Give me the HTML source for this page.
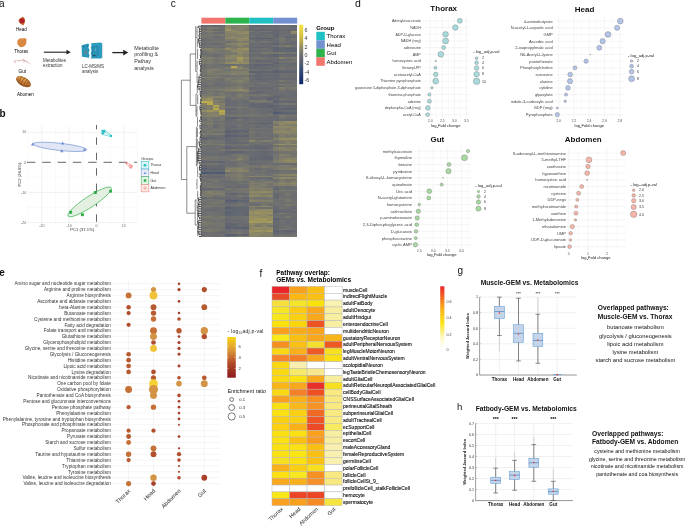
<!DOCTYPE html>
<html><head><meta charset="utf-8"><style>
html,body{margin:0;padding:0;background:#fff;}
svg{display:block;font-family:"Liberation Sans",sans-serif;will-change:transform;}
</style></head><body>
<svg width="685" height="528" viewBox="0 0 685 528">
<text x="-0.90" y="6.70" font-size="10" fill="#111">a</text>
<path d="M22.6,16.7 C24.5,17.5 25.3,19.5 25.1,21 C24.9,22.8 24.2,24.6 23.3,25.3 C21.6,24.6 19.8,23.4 18.9,22 C18.2,20.8 18.6,19.6 19.6,18.8 C20.6,18.0 21.6,17.2 22.6,16.7 Z" fill="#c86a32"/>
<circle cx="22.00" cy="20.80" r="2.55" fill="#b21e2a"/>
<text x="21.50" y="30.88" font-size="4.5" text-anchor="middle">Head</text>
<path d="M17.2,42 C17.2,39.5 19.5,38.0 22.0,38.2 C23.8,38.3 25.2,38.0 26.4,38.6 C26.0,40.0 26.8,41.8 26.2,43.6 C25.4,45.8 23.6,47.3 21.4,47.2 C19.0,47.0 17.3,44.8 17.2,42 Z" fill="#d6883e"/>
<path d="M18.6,41.0 C19.6,39.6 21.6,39.2 23.4,39.6" fill="none" stroke="#e4a060" stroke-width="0.6"/>
<text x="21.20" y="52.88" font-size="4.5" text-anchor="middle">Thorax</text>
<path d="M13.5,61.0 C15.0,60.2 16.4,61.2 18.0,60.6 C19.6,60.0 20.6,60.8 22.2,60.2 C23.6,59.6 25.0,60.4 26.0,61.2 C27.2,62.0 28.6,62.6 30.3,63.8" fill="none" stroke="#d4a2a2" stroke-width="0.55"/>
<path d="M22.2,60.0 C23.0,59.4 24.2,59.8 24.6,60.8 C25.0,61.8 24.0,62.4 23.2,61.8 M26.2,61.4 L27.4,62.2 M15.0,61.0 L15.2,62.8 M18.8,60.4 L19.2,61.6" fill="none" stroke="#b45a5a" stroke-width="0.5"/>
<text x="22.30" y="73.44" font-size="4.7" text-anchor="middle">Gut</text>
<g transform="rotate(30 23.5 81.8)"><ellipse cx="23.5" cy="81.8" rx="8.2" ry="4.3" fill="#9a5a22"/><ellipse cx="22.9" cy="81.1" rx="7.2" ry="3.4" fill="#c27a34"/><ellipse cx="21.6" cy="80.0" rx="5.0" ry="1.8" fill="#d8984c"/><path d="M19.6,78.0 C19.0,80.5 19.2,83.5 19.8,85.6 M22.6,77.6 C22.0,80.6 22.2,83.6 22.8,86.0 M25.6,77.7 C25.0,80.6 25.2,83.6 25.8,85.9 M28.3,78.6 C27.8,81 28,83.2 28.4,85" fill="none" stroke="#7a4216" stroke-width="0.6"/></g>
<text x="25.50" y="95.67" font-size="4.5" text-anchor="middle">Abomen</text>
<line x1="43.80" y1="52.20" x2="67.50" y2="52.20" stroke="#222" stroke-width="1.1"/>
<path d="M66.5,49.8 L70.8,52.2 L66.5,54.6 Z" fill="#222"/>
<text x="43.00" y="61.58" font-size="4.5" fill="#333">Metabolites</text>
<text x="43.00" y="66.88" font-size="4.5" fill="#333">extraction</text>
<path d="M81.6,45.2 L88.2,43.5 L89.2,45.0 L88.4,47.6 L89.6,50.0 L88.6,53.0 L89.6,55.6 L88.8,57.8 L82.0,56.8 Z" fill="#2a96b8"/>
<rect x="101.00" y="43.40" width="2.10" height="14.80" fill="#d9dddd"/>
<path d="M91.0,43.2 L101.0,42.4 L102.0,43.4 L102.0,57.8 L101.0,58.6 L90.6,58.4 L91.6,56.0 L90.6,53.4 L91.6,50.6 L90.8,47.8 L91.6,45.4 Z" fill="#2c9bc0"/>
<rect x="92.60" y="46.50" width="5.40" height="9.60" fill="#2b92b6" stroke="#1d7896" stroke-width="0.5"/>
<rect x="92.40" y="55.20" width="3.40" height="0.90" fill="#1a4656"/>
<circle cx="85.80" cy="52.50" r="1.50" fill="#7b8d94"/>
<circle cx="85.80" cy="52.50" r="0.70" fill="#4d6c7a"/>
<circle cx="83.60" cy="46.80" r="0.60" fill="#1d6a86"/>
<circle cx="87.30" cy="46.20" r="0.60" fill="#1d6a86"/>
<rect x="95.00" y="48.50" width="1.20" height="2.40" fill="#58aac6"/>
<text x="82.00" y="67.78" font-size="4.5" fill="#333">LC-MS/MS</text>
<text x="82.00" y="72.88" font-size="4.5" fill="#333">analysis</text>
<line x1="112.30" y1="52.60" x2="124.50" y2="52.60" stroke="#222" stroke-width="1.3"/>
<path d="M123.2,49.8 L128.2,52.6 L123.2,55.4 Z" fill="#222"/>
<text x="134.20" y="49.79" font-size="5.4" fill="#333">Metabolite</text>
<text x="134.20" y="56.49" font-size="5.4" fill="#333">profiling &amp;</text>
<text x="134.20" y="63.19" font-size="5.4" fill="#333">Pathay</text>
<text x="134.20" y="69.89" font-size="5.4" fill="#333">analysis</text>
<text x="-0.40" y="117.00" font-size="10" font-weight="bold" fill="#111">b</text>
<line x1="28.12" y1="126.00" x2="28.12" y2="224.00" stroke="#f2f2f2" stroke-width="0.45"/>
<line x1="55.48" y1="126.00" x2="55.48" y2="224.00" stroke="#f2f2f2" stroke-width="0.45"/>
<line x1="82.83" y1="126.00" x2="82.83" y2="224.00" stroke="#f2f2f2" stroke-width="0.45"/>
<line x1="110.17" y1="126.00" x2="110.17" y2="224.00" stroke="#f2f2f2" stroke-width="0.45"/>
<line x1="137.53" y1="126.00" x2="137.53" y2="224.00" stroke="#f2f2f2" stroke-width="0.45"/>
<line x1="41.80" y1="126.00" x2="41.80" y2="224.00" stroke="#e6e6e6" stroke-width="0.55"/>
<line x1="69.15" y1="126.00" x2="69.15" y2="224.00" stroke="#e6e6e6" stroke-width="0.55"/>
<line x1="123.85" y1="126.00" x2="123.85" y2="224.00" stroke="#e6e6e6" stroke-width="0.55"/>
<line x1="27.50" y1="132.20" x2="137.00" y2="132.20" stroke="#e6e6e6" stroke-width="0.55"/>
<line x1="27.50" y1="192.40" x2="137.00" y2="192.40" stroke="#e6e6e6" stroke-width="0.55"/>
<line x1="27.50" y1="222.50" x2="137.00" y2="222.50" stroke="#e6e6e6" stroke-width="0.55"/>
<line x1="27.50" y1="147.25" x2="137.00" y2="147.25" stroke="#f2f2f2" stroke-width="0.45"/>
<line x1="27.50" y1="177.35" x2="137.00" y2="177.35" stroke="#f2f2f2" stroke-width="0.45"/>
<line x1="27.50" y1="207.45" x2="137.00" y2="207.45" stroke="#f2f2f2" stroke-width="0.45"/>
<line x1="27.00" y1="162.30" x2="137.00" y2="162.30" stroke="#555" stroke-width="0.9" stroke-dasharray="8.4,6.9"/>
<line x1="96.50" y1="221.80" x2="96.50" y2="125.00" stroke="#555" stroke-width="0.9" stroke-dasharray="7.4,8.0"/>
<text x="26.20" y="133.46" font-size="3.6" text-anchor="end" fill="#666">10</text>
<text x="26.20" y="163.56" font-size="3.6" text-anchor="end" fill="#666">0</text>
<text x="26.20" y="193.66" font-size="3.6" text-anchor="end" fill="#666">-10</text>
<text x="26.20" y="223.76" font-size="3.6" text-anchor="end" fill="#666">-20</text>
<text x="41.80" y="226.86" font-size="3.6" text-anchor="middle" fill="#666">-20</text>
<text x="69.15" y="226.86" font-size="3.6" text-anchor="middle" fill="#666">-10</text>
<text x="96.50" y="226.86" font-size="3.6" text-anchor="middle" fill="#666">0</text>
<text x="123.85" y="226.86" font-size="3.6" text-anchor="middle" fill="#666">10</text>
<text x="82.20" y="231.37" font-size="4.2" text-anchor="middle" fill="#333">PC1 (37.1%)</text>
<text x="19.20" y="176.07" font-size="4.2" text-anchor="middle" fill="#333" transform="rotate(-90 19.20 174.60)">PC2 (28.6%)</text>
<ellipse cx="59.9" cy="146.85" rx="27.0" ry="3.6" transform="rotate(6.3 59.9 146.85)" fill="#e1e6f5" stroke="#6f8fd0" stroke-width="0.65"/>
<path d="M32.70,142.60 L34.41,145.57 L30.99,145.57 Z" fill="#6f8fd0"/>
<path d="M62.60,141.50 L64.31,144.47 L60.89,144.47 Z" fill="#6f8fd0"/>
<path d="M61.80,149.20 L63.51,152.17 L60.09,152.17 Z" fill="#6f8fd0"/>
<path d="M84.50,147.80 L86.21,150.77 L82.79,150.77 Z" fill="#6f8fd0"/>
<ellipse cx="89.65" cy="201.9" rx="25.8" ry="5.4" transform="rotate(-33.4 89.65 201.9)" fill="#e3f0e1" stroke="#36b04c" stroke-width="0.65"/>
<rect x="69.15" y="210.85" width="2.90" height="2.90" fill="#2fae48"/>
<rect x="80.95" y="213.25" width="2.90" height="2.90" fill="#2fae48"/>
<rect x="93.95" y="191.05" width="2.90" height="2.90" fill="#2fae48"/>
<rect x="109.15" y="189.75" width="2.90" height="2.90" fill="#2fae48"/>
<path d="M101.8,130.6 L104.4,129.9 L111.6,135.4 L110.8,136.6 L102.4,134.4 Z" fill="none" stroke="#1fbfc4" stroke-width="0.55"/>
<path d="M103.0,131.2 L110.9,135.9 M104.4,130.6 L102.6,133.8" fill="none" stroke="#1fbfc4" stroke-width="0.45"/>
<circle cx="102.60" cy="130.80" r="1.15" fill="#1fbfc4"/>
<circle cx="104.30" cy="131.20" r="1.15" fill="#1fbfc4"/>
<circle cx="102.50" cy="133.60" r="1.15" fill="#1fbfc4"/>
<circle cx="103.60" cy="132.60" r="1.15" fill="#1fbfc4"/>
<circle cx="111.10" cy="136.00" r="1.15" fill="#1fbfc4"/>
<path d="M125.4,163.0 L127.8,163.2 L130.6,164.4 L132.6,165.8 L131.6,168.2 L129.8,167.6 L128.0,165.6 Z" fill="none" stroke="#f3877e" stroke-width="0.5"/>
<line x1="125.30" y1="163.20" x2="127.90" y2="163.20" stroke="#f06a60" stroke-width="0.5"/>
<line x1="126.60" y1="161.90" x2="126.60" y2="164.50" stroke="#f06a60" stroke-width="0.5"/>
<line x1="128.30" y1="165.40" x2="130.90" y2="165.40" stroke="#f06a60" stroke-width="0.5"/>
<line x1="129.60" y1="164.10" x2="129.60" y2="166.70" stroke="#f06a60" stroke-width="0.5"/>
<line x1="130.30" y1="166.00" x2="132.90" y2="166.00" stroke="#f06a60" stroke-width="0.5"/>
<line x1="131.60" y1="164.70" x2="131.60" y2="167.30" stroke="#f06a60" stroke-width="0.5"/>
<line x1="129.30" y1="167.60" x2="131.90" y2="167.60" stroke="#f06a60" stroke-width="0.5"/>
<line x1="130.60" y1="166.30" x2="130.60" y2="168.90" stroke="#f06a60" stroke-width="0.5"/>
<text x="141.30" y="160.09" font-size="3.7" fill="#333">Groups</text>
<rect x="141.20" y="161.50" width="7.60" height="7.40" fill="#fff" stroke="#1fbfc4" stroke-width="0.6"/>
<rect x="142.20" y="162.50" width="5.60" height="5.40" fill="#d5f1f2"/>
<circle cx="145.00" cy="165.20" r="1.30" fill="#1fbfc4"/>
<text x="150.40" y="166.42" font-size="3.5" fill="#333">Thorax</text>
<rect x="141.20" y="169.15" width="7.60" height="7.40" fill="#fff" stroke="#6f8fd0" stroke-width="0.6"/>
<rect x="142.20" y="170.15" width="5.60" height="5.40" fill="#e3e8f6"/>
<path d="M145.00,171.65 L146.33,173.96 L143.67,173.96 Z" fill="#6f8fd0"/>
<text x="150.40" y="174.07" font-size="3.5" fill="#333">Head</text>
<rect x="141.20" y="176.80" width="7.60" height="7.40" fill="#fff" stroke="#2fae48" stroke-width="0.6"/>
<rect x="142.20" y="177.80" width="5.60" height="5.40" fill="#dff0e0"/>
<rect x="143.80" y="179.30" width="2.40" height="2.40" fill="#2fae48"/>
<text x="150.40" y="181.72" font-size="3.5" fill="#333">Gut</text>
<rect x="141.20" y="184.45" width="7.60" height="7.40" fill="#fff" stroke="#f08078" stroke-width="0.6"/>
<rect x="142.20" y="185.45" width="5.60" height="5.40" fill="#fde4e2"/>
<line x1="143.40" y1="188.15" x2="146.60" y2="188.15" stroke="#f08078" stroke-width="0.5"/>
<line x1="145.00" y1="186.35" x2="145.00" y2="189.95" stroke="#f08078" stroke-width="0.5"/>
<text x="150.40" y="189.37" font-size="3.5" fill="#333">Abdomen</text>
<text x="170.80" y="6.70" font-size="10" fill="#111">c</text>
<rect x="201.40" y="17.70" width="23.95" height="5.90" fill="#f0766e"/>
<rect x="225.35" y="17.70" width="23.95" height="5.90" fill="#2db34b"/>
<rect x="249.30" y="17.70" width="23.95" height="5.90" fill="#1fbfc4"/>
<rect x="273.25" y="17.70" width="23.95" height="5.90" fill="#7391d0"/>
<g shape-rendering="crispEdges"><rect x="201.40" y="25.30" width="6.04" height="1.82" fill="#646870"/><rect x="207.39" y="25.30" width="6.04" height="1.82" fill="#686a70"/><rect x="213.38" y="25.30" width="6.04" height="1.82" fill="#636770"/><rect x="219.36" y="25.30" width="6.04" height="1.82" fill="#656970"/><rect x="225.35" y="25.30" width="6.04" height="1.82" fill="#8b8667"/><rect x="231.34" y="25.30" width="6.04" height="1.82" fill="#817f6b"/><rect x="237.32" y="25.30" width="6.04" height="1.82" fill="#817f6a"/><rect x="243.31" y="25.30" width="6.04" height="1.82" fill="#827f6a"/><rect x="249.30" y="25.30" width="6.04" height="1.82" fill="#646870"/><rect x="255.29" y="25.30" width="6.04" height="1.82" fill="#626670"/><rect x="261.27" y="25.30" width="6.04" height="1.82" fill="#646770"/><rect x="267.26" y="25.30" width="6.04" height="1.82" fill="#646870"/><rect x="273.25" y="25.30" width="6.04" height="1.82" fill="#656870"/><rect x="279.24" y="25.30" width="6.04" height="1.82" fill="#6a6c70"/><rect x="285.23" y="25.30" width="6.04" height="1.82" fill="#676a70"/><rect x="291.21" y="25.30" width="6.04" height="1.82" fill="#666970"/><rect x="201.40" y="27.07" width="6.04" height="1.82" fill="#71716f"/><rect x="207.39" y="27.07" width="6.04" height="1.82" fill="#7b796d"/><rect x="213.38" y="27.07" width="6.04" height="1.82" fill="#7d7b6c"/><rect x="219.36" y="27.07" width="6.04" height="1.82" fill="#6f7070"/><rect x="225.35" y="27.07" width="6.04" height="1.82" fill="#8f8a65"/><rect x="231.34" y="27.07" width="6.04" height="1.82" fill="#7a796d"/><rect x="237.32" y="27.07" width="6.04" height="1.82" fill="#868269"/><rect x="243.31" y="27.07" width="6.04" height="1.82" fill="#807e6b"/><rect x="249.30" y="27.07" width="6.04" height="1.82" fill="#686a70"/><rect x="255.29" y="27.07" width="6.04" height="1.82" fill="#6c6d70"/><rect x="261.27" y="27.07" width="6.04" height="1.82" fill="#6c6d70"/><rect x="267.26" y="27.07" width="6.04" height="1.82" fill="#6c6e70"/><rect x="273.25" y="27.07" width="6.04" height="1.82" fill="#6a6c70"/><rect x="279.24" y="27.07" width="6.04" height="1.82" fill="#6d6e70"/><rect x="285.23" y="27.07" width="6.04" height="1.82" fill="#6b6d70"/><rect x="291.21" y="27.07" width="6.04" height="1.82" fill="#676a70"/><rect x="201.40" y="28.84" width="6.04" height="1.82" fill="#6c6e70"/><rect x="207.39" y="28.84" width="6.04" height="1.82" fill="#76756e"/><rect x="213.38" y="28.84" width="6.04" height="1.82" fill="#686b70"/><rect x="219.36" y="28.84" width="6.04" height="1.82" fill="#6a6c70"/><rect x="225.35" y="28.84" width="6.04" height="1.82" fill="#9c935f"/><rect x="231.34" y="28.84" width="6.04" height="1.82" fill="#878368"/><rect x="237.32" y="28.84" width="6.04" height="1.82" fill="#817e6b"/><rect x="243.31" y="28.84" width="6.04" height="1.82" fill="#7b7a6c"/><rect x="249.30" y="28.84" width="6.04" height="1.82" fill="#676a70"/><rect x="255.29" y="28.84" width="6.04" height="1.82" fill="#636770"/><rect x="261.27" y="28.84" width="6.04" height="1.82" fill="#626670"/><rect x="267.26" y="28.84" width="6.04" height="1.82" fill="#676a70"/><rect x="273.25" y="28.84" width="6.04" height="1.82" fill="#646870"/><rect x="279.24" y="28.84" width="6.04" height="1.82" fill="#686b70"/><rect x="285.23" y="28.84" width="6.04" height="1.82" fill="#676a70"/><rect x="291.21" y="28.84" width="6.04" height="1.82" fill="#686b70"/><rect x="201.40" y="30.60" width="6.04" height="1.82" fill="#7f7d6b"/><rect x="207.39" y="30.60" width="6.04" height="1.82" fill="#807e6b"/><rect x="213.38" y="30.60" width="6.04" height="1.82" fill="#7c7a6c"/><rect x="219.36" y="30.60" width="6.04" height="1.82" fill="#707170"/><rect x="225.35" y="30.60" width="6.04" height="1.82" fill="#868369"/><rect x="231.34" y="30.60" width="6.04" height="1.82" fill="#918b64"/><rect x="237.32" y="30.60" width="6.04" height="1.82" fill="#8a8567"/><rect x="243.31" y="30.60" width="6.04" height="1.82" fill="#8e8965"/><rect x="249.30" y="30.60" width="6.04" height="1.82" fill="#76766e"/><rect x="255.29" y="30.60" width="6.04" height="1.82" fill="#6b6d70"/><rect x="261.27" y="30.60" width="6.04" height="1.82" fill="#76766e"/><rect x="267.26" y="30.60" width="6.04" height="1.82" fill="#717170"/><rect x="273.25" y="30.60" width="6.04" height="1.82" fill="#636770"/><rect x="279.24" y="30.60" width="6.04" height="1.82" fill="#6a6c70"/><rect x="285.23" y="30.60" width="6.04" height="1.82" fill="#6a6c70"/><rect x="291.21" y="30.60" width="6.04" height="1.82" fill="#958e63"/><rect x="201.40" y="32.37" width="6.04" height="1.82" fill="#6f7070"/><rect x="207.39" y="32.37" width="6.04" height="1.82" fill="#74746f"/><rect x="213.38" y="32.37" width="6.04" height="1.82" fill="#6b6d70"/><rect x="219.36" y="32.37" width="6.04" height="1.82" fill="#686b70"/><rect x="225.35" y="32.37" width="6.04" height="1.82" fill="#868269"/><rect x="231.34" y="32.37" width="6.04" height="1.82" fill="#898468"/><rect x="237.32" y="32.37" width="6.04" height="1.82" fill="#8e8866"/><rect x="243.31" y="32.37" width="6.04" height="1.82" fill="#938c63"/><rect x="249.30" y="32.37" width="6.04" height="1.82" fill="#676a70"/><rect x="255.29" y="32.37" width="6.04" height="1.82" fill="#6c6d70"/><rect x="261.27" y="32.37" width="6.04" height="1.82" fill="#656970"/><rect x="267.26" y="32.37" width="6.04" height="1.82" fill="#666970"/><rect x="273.25" y="32.37" width="6.04" height="1.82" fill="#646870"/><rect x="279.24" y="32.37" width="6.04" height="1.82" fill="#6b6d70"/><rect x="285.23" y="32.37" width="6.04" height="1.82" fill="#696c70"/><rect x="291.21" y="32.37" width="6.04" height="1.82" fill="#8d8866"/><rect x="201.40" y="34.14" width="6.04" height="1.82" fill="#73736f"/><rect x="207.39" y="34.14" width="6.04" height="1.82" fill="#79786d"/><rect x="213.38" y="34.14" width="6.04" height="1.82" fill="#75756e"/><rect x="219.36" y="34.14" width="6.04" height="1.82" fill="#7b7a6c"/><rect x="225.35" y="34.14" width="6.04" height="1.82" fill="#817e6b"/><rect x="231.34" y="34.14" width="6.04" height="1.82" fill="#807e6b"/><rect x="237.32" y="34.14" width="6.04" height="1.82" fill="#868269"/><rect x="243.31" y="34.14" width="6.04" height="1.82" fill="#858169"/><rect x="249.30" y="34.14" width="6.04" height="1.82" fill="#6e6f70"/><rect x="255.29" y="34.14" width="6.04" height="1.82" fill="#696b70"/><rect x="261.27" y="34.14" width="6.04" height="1.82" fill="#6b6d70"/><rect x="267.26" y="34.14" width="6.04" height="1.82" fill="#6e6f70"/><rect x="273.25" y="34.14" width="6.04" height="1.82" fill="#616570"/><rect x="279.24" y="34.14" width="6.04" height="1.82" fill="#6b6d70"/><rect x="285.23" y="34.14" width="6.04" height="1.82" fill="#6d6f70"/><rect x="291.21" y="34.14" width="6.04" height="1.82" fill="#6e6f70"/><rect x="201.40" y="35.91" width="6.04" height="1.82" fill="#76766e"/><rect x="207.39" y="35.91" width="6.04" height="1.82" fill="#707170"/><rect x="213.38" y="35.91" width="6.04" height="1.82" fill="#6b6d70"/><rect x="219.36" y="35.91" width="6.04" height="1.82" fill="#6c6e70"/><rect x="225.35" y="35.91" width="6.04" height="1.82" fill="#858269"/><rect x="231.34" y="35.91" width="6.04" height="1.82" fill="#898568"/><rect x="237.32" y="35.91" width="6.04" height="1.82" fill="#827f6a"/><rect x="243.31" y="35.91" width="6.04" height="1.82" fill="#8a8567"/><rect x="249.30" y="35.91" width="6.04" height="1.82" fill="#6e6f70"/><rect x="255.29" y="35.91" width="6.04" height="1.82" fill="#676a70"/><rect x="261.27" y="35.91" width="6.04" height="1.82" fill="#6a6c70"/><rect x="267.26" y="35.91" width="6.04" height="1.82" fill="#6c6e70"/><rect x="273.25" y="35.91" width="6.04" height="1.82" fill="#656970"/><rect x="279.24" y="35.91" width="6.04" height="1.82" fill="#6d6e70"/><rect x="285.23" y="35.91" width="6.04" height="1.82" fill="#636770"/><rect x="291.21" y="35.91" width="6.04" height="1.82" fill="#676a70"/><rect x="201.40" y="37.67" width="6.04" height="1.82" fill="#6d6e70"/><rect x="207.39" y="37.67" width="6.04" height="1.82" fill="#78776d"/><rect x="213.38" y="37.67" width="6.04" height="1.82" fill="#6d6e70"/><rect x="219.36" y="37.67" width="6.04" height="1.82" fill="#72736f"/><rect x="225.35" y="37.67" width="6.04" height="1.82" fill="#8e8866"/><rect x="231.34" y="37.67" width="6.04" height="1.82" fill="#8a8667"/><rect x="237.32" y="37.67" width="6.04" height="1.82" fill="#928b64"/><rect x="243.31" y="37.67" width="6.04" height="1.82" fill="#928b64"/><rect x="249.30" y="37.67" width="6.04" height="1.82" fill="#5d6371"/><rect x="255.29" y="37.67" width="6.04" height="1.82" fill="#5a6171"/><rect x="261.27" y="37.67" width="6.04" height="1.82" fill="#5f6471"/><rect x="267.26" y="37.67" width="6.04" height="1.82" fill="#5d6371"/><rect x="273.25" y="37.67" width="6.04" height="1.82" fill="#686b70"/><rect x="279.24" y="37.67" width="6.04" height="1.82" fill="#7b7a6c"/><rect x="285.23" y="37.67" width="6.04" height="1.82" fill="#6b6d70"/><rect x="291.21" y="37.67" width="6.04" height="1.82" fill="#72726f"/><rect x="201.40" y="39.44" width="6.04" height="1.82" fill="#6a6d70"/><rect x="207.39" y="39.44" width="6.04" height="1.82" fill="#6c6e70"/><rect x="213.38" y="39.44" width="6.04" height="1.82" fill="#71726f"/><rect x="219.36" y="39.44" width="6.04" height="1.82" fill="#6c6e70"/><rect x="225.35" y="39.44" width="6.04" height="1.82" fill="#7b7a6c"/><rect x="231.34" y="39.44" width="6.04" height="1.82" fill="#7c7a6c"/><rect x="237.32" y="39.44" width="6.04" height="1.82" fill="#8e8965"/><rect x="243.31" y="39.44" width="6.04" height="1.82" fill="#898468"/><rect x="249.30" y="39.44" width="6.04" height="1.82" fill="#6e7070"/><rect x="255.29" y="39.44" width="6.04" height="1.82" fill="#666970"/><rect x="261.27" y="39.44" width="6.04" height="1.82" fill="#696b70"/><rect x="267.26" y="39.44" width="6.04" height="1.82" fill="#656970"/><rect x="273.25" y="39.44" width="6.04" height="1.82" fill="#6a6d70"/><rect x="279.24" y="39.44" width="6.04" height="1.82" fill="#75756e"/><rect x="285.23" y="39.44" width="6.04" height="1.82" fill="#6b6d70"/><rect x="291.21" y="39.44" width="6.04" height="1.82" fill="#74746f"/><rect x="201.40" y="41.21" width="6.04" height="1.82" fill="#6e6f70"/><rect x="207.39" y="41.21" width="6.04" height="1.82" fill="#74746e"/><rect x="213.38" y="41.21" width="6.04" height="1.82" fill="#72726f"/><rect x="219.36" y="41.21" width="6.04" height="1.82" fill="#76766e"/><rect x="225.35" y="41.21" width="6.04" height="1.82" fill="#6c6e70"/><rect x="231.34" y="41.21" width="6.04" height="1.82" fill="#77766e"/><rect x="237.32" y="41.21" width="6.04" height="1.82" fill="#7e7c6c"/><rect x="243.31" y="41.21" width="6.04" height="1.82" fill="#7b796d"/><rect x="249.30" y="41.21" width="6.04" height="1.82" fill="#73746f"/><rect x="255.29" y="41.21" width="6.04" height="1.82" fill="#6e6f70"/><rect x="261.27" y="41.21" width="6.04" height="1.82" fill="#76766e"/><rect x="267.26" y="41.21" width="6.04" height="1.82" fill="#71726f"/><rect x="273.25" y="41.21" width="6.04" height="1.82" fill="#686a70"/><rect x="279.24" y="41.21" width="6.04" height="1.82" fill="#73736f"/><rect x="285.23" y="41.21" width="6.04" height="1.82" fill="#6c6e70"/><rect x="291.21" y="41.21" width="6.04" height="1.82" fill="#666a70"/><rect x="201.40" y="42.97" width="6.04" height="1.82" fill="#656970"/><rect x="207.39" y="42.97" width="6.04" height="1.82" fill="#696c70"/><rect x="213.38" y="42.97" width="6.04" height="1.82" fill="#666970"/><rect x="219.36" y="42.97" width="6.04" height="1.82" fill="#696b70"/><rect x="225.35" y="42.97" width="6.04" height="1.82" fill="#807d6b"/><rect x="231.34" y="42.97" width="6.04" height="1.82" fill="#888468"/><rect x="237.32" y="42.97" width="6.04" height="1.82" fill="#908a65"/><rect x="243.31" y="42.97" width="6.04" height="1.82" fill="#8d8866"/><rect x="249.30" y="42.97" width="6.04" height="1.82" fill="#696b70"/><rect x="255.29" y="42.97" width="6.04" height="1.82" fill="#6b6d70"/><rect x="261.27" y="42.97" width="6.04" height="1.82" fill="#646870"/><rect x="267.26" y="42.97" width="6.04" height="1.82" fill="#666970"/><rect x="273.25" y="42.97" width="6.04" height="1.82" fill="#5d6371"/><rect x="279.24" y="42.97" width="6.04" height="1.82" fill="#6b6d70"/><rect x="285.23" y="42.97" width="6.04" height="1.82" fill="#646870"/><rect x="291.21" y="42.97" width="6.04" height="1.82" fill="#686a70"/><rect x="201.40" y="44.74" width="6.04" height="1.82" fill="#6f7070"/><rect x="207.39" y="44.74" width="6.04" height="1.82" fill="#74746e"/><rect x="213.38" y="44.74" width="6.04" height="1.82" fill="#73736f"/><rect x="219.36" y="44.74" width="6.04" height="1.82" fill="#6e6f70"/><rect x="225.35" y="44.74" width="6.04" height="1.82" fill="#75756e"/><rect x="231.34" y="44.74" width="6.04" height="1.82" fill="#7b7a6c"/><rect x="237.32" y="44.74" width="6.04" height="1.82" fill="#888468"/><rect x="243.31" y="44.74" width="6.04" height="1.82" fill="#79786d"/><rect x="249.30" y="44.74" width="6.04" height="1.82" fill="#696c70"/><rect x="255.29" y="44.74" width="6.04" height="1.82" fill="#6b6d70"/><rect x="261.27" y="44.74" width="6.04" height="1.82" fill="#6b6d70"/><rect x="267.26" y="44.74" width="6.04" height="1.82" fill="#696b70"/><rect x="273.25" y="44.74" width="6.04" height="1.82" fill="#6f7070"/><rect x="279.24" y="44.74" width="6.04" height="1.82" fill="#76756e"/><rect x="285.23" y="44.74" width="6.04" height="1.82" fill="#807e6b"/><rect x="291.21" y="44.74" width="6.04" height="1.82" fill="#71716f"/><rect x="201.40" y="46.51" width="6.04" height="1.82" fill="#6e6f70"/><rect x="207.39" y="46.51" width="6.04" height="1.82" fill="#6d6f70"/><rect x="213.38" y="46.51" width="6.04" height="1.82" fill="#707170"/><rect x="219.36" y="46.51" width="6.04" height="1.82" fill="#686b70"/><rect x="225.35" y="46.51" width="6.04" height="1.82" fill="#7d7c6c"/><rect x="231.34" y="46.51" width="6.04" height="1.82" fill="#7c7a6c"/><rect x="237.32" y="46.51" width="6.04" height="1.82" fill="#7c7a6c"/><rect x="243.31" y="46.51" width="6.04" height="1.82" fill="#858169"/><rect x="249.30" y="46.51" width="6.04" height="1.82" fill="#676a70"/><rect x="255.29" y="46.51" width="6.04" height="1.82" fill="#606570"/><rect x="261.27" y="46.51" width="6.04" height="1.82" fill="#646870"/><rect x="267.26" y="46.51" width="6.04" height="1.82" fill="#676a70"/><rect x="273.25" y="46.51" width="6.04" height="1.82" fill="#5e6371"/><rect x="279.24" y="46.51" width="6.04" height="1.82" fill="#676a70"/><rect x="285.23" y="46.51" width="6.04" height="1.82" fill="#676a70"/><rect x="291.21" y="46.51" width="6.04" height="1.82" fill="#666970"/><rect x="201.40" y="48.28" width="6.04" height="1.82" fill="#7f7d6b"/><rect x="207.39" y="48.28" width="6.04" height="1.82" fill="#84806a"/><rect x="213.38" y="48.28" width="6.04" height="1.82" fill="#7a786d"/><rect x="219.36" y="48.28" width="6.04" height="1.82" fill="#78786d"/><rect x="225.35" y="48.28" width="6.04" height="1.82" fill="#908a65"/><rect x="231.34" y="48.28" width="6.04" height="1.82" fill="#817f6b"/><rect x="237.32" y="48.28" width="6.04" height="1.82" fill="#928b64"/><rect x="243.31" y="48.28" width="6.04" height="1.82" fill="#989061"/><rect x="249.30" y="48.28" width="6.04" height="1.82" fill="#6a6c70"/><rect x="255.29" y="48.28" width="6.04" height="1.82" fill="#6d6e70"/><rect x="261.27" y="48.28" width="6.04" height="1.82" fill="#71716f"/><rect x="267.26" y="48.28" width="6.04" height="1.82" fill="#6a6c70"/><rect x="273.25" y="48.28" width="6.04" height="1.82" fill="#5d6371"/><rect x="279.24" y="48.28" width="6.04" height="1.82" fill="#646870"/><rect x="285.23" y="48.28" width="6.04" height="1.82" fill="#5e6471"/><rect x="291.21" y="48.28" width="6.04" height="1.82" fill="#616570"/><rect x="201.40" y="50.05" width="6.04" height="1.82" fill="#75756e"/><rect x="207.39" y="50.05" width="6.04" height="1.82" fill="#7e7c6c"/><rect x="213.38" y="50.05" width="6.04" height="1.82" fill="#77776e"/><rect x="219.36" y="50.05" width="6.04" height="1.82" fill="#73736f"/><rect x="225.35" y="50.05" width="6.04" height="1.82" fill="#7a796d"/><rect x="231.34" y="50.05" width="6.04" height="1.82" fill="#8e8866"/><rect x="237.32" y="50.05" width="6.04" height="1.82" fill="#8c8766"/><rect x="243.31" y="50.05" width="6.04" height="1.82" fill="#878369"/><rect x="249.30" y="50.05" width="6.04" height="1.82" fill="#636770"/><rect x="255.29" y="50.05" width="6.04" height="1.82" fill="#696c70"/><rect x="261.27" y="50.05" width="6.04" height="1.82" fill="#696c70"/><rect x="267.26" y="50.05" width="6.04" height="1.82" fill="#6c6e70"/><rect x="273.25" y="50.05" width="6.04" height="1.82" fill="#606570"/><rect x="279.24" y="50.05" width="6.04" height="1.82" fill="#656970"/><rect x="285.23" y="50.05" width="6.04" height="1.82" fill="#666970"/><rect x="291.21" y="50.05" width="6.04" height="1.82" fill="#5f6471"/><rect x="201.40" y="51.81" width="6.04" height="1.82" fill="#6f7070"/><rect x="207.39" y="51.81" width="6.04" height="1.82" fill="#75756e"/><rect x="213.38" y="51.81" width="6.04" height="1.82" fill="#77766e"/><rect x="219.36" y="51.81" width="6.04" height="1.82" fill="#76756e"/><rect x="225.35" y="51.81" width="6.04" height="1.82" fill="#79786d"/><rect x="231.34" y="51.81" width="6.04" height="1.82" fill="#7a796d"/><rect x="237.32" y="51.81" width="6.04" height="1.82" fill="#8e8866"/><rect x="243.31" y="51.81" width="6.04" height="1.82" fill="#858269"/><rect x="249.30" y="51.81" width="6.04" height="1.82" fill="#6f7070"/><rect x="255.29" y="51.81" width="6.04" height="1.82" fill="#6c6e70"/><rect x="261.27" y="51.81" width="6.04" height="1.82" fill="#79786d"/><rect x="267.26" y="51.81" width="6.04" height="1.82" fill="#75756e"/><rect x="273.25" y="51.81" width="6.04" height="1.82" fill="#75746e"/><rect x="279.24" y="51.81" width="6.04" height="1.82" fill="#7a796d"/><rect x="285.23" y="51.81" width="6.04" height="1.82" fill="#71726f"/><rect x="291.21" y="51.81" width="6.04" height="1.82" fill="#76766e"/><rect x="201.40" y="53.58" width="6.04" height="1.82" fill="#686b70"/><rect x="207.39" y="53.58" width="6.04" height="1.82" fill="#6b6d70"/><rect x="213.38" y="53.58" width="6.04" height="1.82" fill="#696c70"/><rect x="219.36" y="53.58" width="6.04" height="1.82" fill="#6a6c70"/><rect x="225.35" y="53.58" width="6.04" height="1.82" fill="#77776d"/><rect x="231.34" y="53.58" width="6.04" height="1.82" fill="#78776d"/><rect x="237.32" y="53.58" width="6.04" height="1.82" fill="#827f6a"/><rect x="243.31" y="53.58" width="6.04" height="1.82" fill="#7c7b6c"/><rect x="249.30" y="53.58" width="6.04" height="1.82" fill="#666970"/><rect x="255.29" y="53.58" width="6.04" height="1.82" fill="#656870"/><rect x="261.27" y="53.58" width="6.04" height="1.82" fill="#676a70"/><rect x="267.26" y="53.58" width="6.04" height="1.82" fill="#666970"/><rect x="273.25" y="53.58" width="6.04" height="1.82" fill="#5c6271"/><rect x="279.24" y="53.58" width="6.04" height="1.82" fill="#626670"/><rect x="285.23" y="53.58" width="6.04" height="1.82" fill="#626670"/><rect x="291.21" y="53.58" width="6.04" height="1.82" fill="#616670"/><rect x="201.40" y="55.35" width="6.04" height="1.82" fill="#73736f"/><rect x="207.39" y="55.35" width="6.04" height="1.82" fill="#6f7070"/><rect x="213.38" y="55.35" width="6.04" height="1.82" fill="#6b6d70"/><rect x="219.36" y="55.35" width="6.04" height="1.82" fill="#717170"/><rect x="225.35" y="55.35" width="6.04" height="1.82" fill="#83806a"/><rect x="231.34" y="55.35" width="6.04" height="1.82" fill="#8e8965"/><rect x="237.32" y="55.35" width="6.04" height="1.82" fill="#8b8667"/><rect x="243.31" y="55.35" width="6.04" height="1.82" fill="#817e6b"/><rect x="249.30" y="55.35" width="6.04" height="1.82" fill="#676a70"/><rect x="255.29" y="55.35" width="6.04" height="1.82" fill="#6c6e70"/><rect x="261.27" y="55.35" width="6.04" height="1.82" fill="#676a70"/><rect x="267.26" y="55.35" width="6.04" height="1.82" fill="#646870"/><rect x="273.25" y="55.35" width="6.04" height="1.82" fill="#5f6471"/><rect x="279.24" y="55.35" width="6.04" height="1.82" fill="#696b70"/><rect x="285.23" y="55.35" width="6.04" height="1.82" fill="#686b70"/><rect x="291.21" y="55.35" width="6.04" height="1.82" fill="#676a70"/><rect x="201.40" y="57.11" width="6.04" height="1.82" fill="#7f7d6b"/><rect x="207.39" y="57.11" width="6.04" height="1.82" fill="#83806a"/><rect x="213.38" y="57.11" width="6.04" height="1.82" fill="#76766e"/><rect x="219.36" y="57.11" width="6.04" height="1.82" fill="#7a796d"/><rect x="225.35" y="57.11" width="6.04" height="1.82" fill="#8b8667"/><rect x="231.34" y="57.11" width="6.04" height="1.82" fill="#898568"/><rect x="237.32" y="57.11" width="6.04" height="1.82" fill="#a89c58"/><rect x="243.31" y="57.11" width="6.04" height="1.82" fill="#928b64"/><rect x="249.30" y="57.11" width="6.04" height="1.82" fill="#6f7070"/><rect x="255.29" y="57.11" width="6.04" height="1.82" fill="#78776d"/><rect x="261.27" y="57.11" width="6.04" height="1.82" fill="#72736f"/><rect x="267.26" y="57.11" width="6.04" height="1.82" fill="#6d6e70"/><rect x="273.25" y="57.11" width="6.04" height="1.82" fill="#6f7070"/><rect x="279.24" y="57.11" width="6.04" height="1.82" fill="#858169"/><rect x="285.23" y="57.11" width="6.04" height="1.82" fill="#76766e"/><rect x="291.21" y="57.11" width="6.04" height="1.82" fill="#7b7a6c"/><rect x="201.40" y="58.88" width="6.04" height="1.82" fill="#79786d"/><rect x="207.39" y="58.88" width="6.04" height="1.82" fill="#7b796c"/><rect x="213.38" y="58.88" width="6.04" height="1.82" fill="#74746e"/><rect x="219.36" y="58.88" width="6.04" height="1.82" fill="#78776d"/><rect x="225.35" y="58.88" width="6.04" height="1.82" fill="#7f7d6b"/><rect x="231.34" y="58.88" width="6.04" height="1.82" fill="#817e6b"/><rect x="237.32" y="58.88" width="6.04" height="1.82" fill="#9f965d"/><rect x="243.31" y="58.88" width="6.04" height="1.82" fill="#858269"/><rect x="249.30" y="58.88" width="6.04" height="1.82" fill="#6a6c70"/><rect x="255.29" y="58.88" width="6.04" height="1.82" fill="#696b70"/><rect x="261.27" y="58.88" width="6.04" height="1.82" fill="#6b6d70"/><rect x="267.26" y="58.88" width="6.04" height="1.82" fill="#676a70"/><rect x="273.25" y="58.88" width="6.04" height="1.82" fill="#676a70"/><rect x="279.24" y="58.88" width="6.04" height="1.82" fill="#696b70"/><rect x="285.23" y="58.88" width="6.04" height="1.82" fill="#6c6d70"/><rect x="291.21" y="58.88" width="6.04" height="1.82" fill="#6f7070"/><rect x="201.40" y="60.65" width="6.04" height="1.82" fill="#78776d"/><rect x="207.39" y="60.65" width="6.04" height="1.82" fill="#7e7c6c"/><rect x="213.38" y="60.65" width="6.04" height="1.82" fill="#72726f"/><rect x="219.36" y="60.65" width="6.04" height="1.82" fill="#75746e"/><rect x="225.35" y="60.65" width="6.04" height="1.82" fill="#7b796d"/><rect x="231.34" y="60.65" width="6.04" height="1.82" fill="#8a8567"/><rect x="237.32" y="60.65" width="6.04" height="1.82" fill="#918b64"/><rect x="243.31" y="60.65" width="6.04" height="1.82" fill="#888468"/><rect x="249.30" y="60.65" width="6.04" height="1.82" fill="#666970"/><rect x="255.29" y="60.65" width="6.04" height="1.82" fill="#5e6371"/><rect x="261.27" y="60.65" width="6.04" height="1.82" fill="#5e6371"/><rect x="267.26" y="60.65" width="6.04" height="1.82" fill="#5f6471"/><rect x="273.25" y="60.65" width="6.04" height="1.82" fill="#6f7070"/><rect x="279.24" y="60.65" width="6.04" height="1.82" fill="#76756e"/><rect x="285.23" y="60.65" width="6.04" height="1.82" fill="#7a796d"/><rect x="291.21" y="60.65" width="6.04" height="1.82" fill="#7b7a6c"/><rect x="201.40" y="62.42" width="6.04" height="1.82" fill="#79786d"/><rect x="207.39" y="62.42" width="6.04" height="1.82" fill="#7a796d"/><rect x="213.38" y="62.42" width="6.04" height="1.82" fill="#77766e"/><rect x="219.36" y="62.42" width="6.04" height="1.82" fill="#7b7a6c"/><rect x="225.35" y="62.42" width="6.04" height="1.82" fill="#918b64"/><rect x="231.34" y="62.42" width="6.04" height="1.82" fill="#978f62"/><rect x="237.32" y="62.42" width="6.04" height="1.82" fill="#938c64"/><rect x="243.31" y="62.42" width="6.04" height="1.82" fill="#918b64"/><rect x="249.30" y="62.42" width="6.04" height="1.82" fill="#71726f"/><rect x="255.29" y="62.42" width="6.04" height="1.82" fill="#6e6f70"/><rect x="261.27" y="62.42" width="6.04" height="1.82" fill="#6e6f70"/><rect x="267.26" y="62.42" width="6.04" height="1.82" fill="#6e6f70"/><rect x="273.25" y="62.42" width="6.04" height="1.82" fill="#606570"/><rect x="279.24" y="62.42" width="6.04" height="1.82" fill="#6a6c70"/><rect x="285.23" y="62.42" width="6.04" height="1.82" fill="#696b70"/><rect x="291.21" y="62.42" width="6.04" height="1.82" fill="#676a70"/><rect x="201.40" y="64.19" width="6.04" height="1.82" fill="#6b6d70"/><rect x="207.39" y="64.19" width="6.04" height="1.82" fill="#73746f"/><rect x="213.38" y="64.19" width="6.04" height="1.82" fill="#707170"/><rect x="219.36" y="64.19" width="6.04" height="1.82" fill="#6b6d70"/><rect x="225.35" y="64.19" width="6.04" height="1.82" fill="#696c70"/><rect x="231.34" y="64.19" width="6.04" height="1.82" fill="#6b6d70"/><rect x="237.32" y="64.19" width="6.04" height="1.82" fill="#71726f"/><rect x="243.31" y="64.19" width="6.04" height="1.82" fill="#6f7070"/><rect x="249.30" y="64.19" width="6.04" height="1.82" fill="#636770"/><rect x="255.29" y="64.19" width="6.04" height="1.82" fill="#5e6471"/><rect x="261.27" y="64.19" width="6.04" height="1.82" fill="#616670"/><rect x="267.26" y="64.19" width="6.04" height="1.82" fill="#616570"/><rect x="273.25" y="64.19" width="6.04" height="1.82" fill="#686b70"/><rect x="279.24" y="64.19" width="6.04" height="1.82" fill="#6d6f70"/><rect x="285.23" y="64.19" width="6.04" height="1.82" fill="#696c70"/><rect x="291.21" y="64.19" width="6.04" height="1.82" fill="#686b70"/><rect x="201.40" y="65.95" width="6.04" height="1.82" fill="#6d6f70"/><rect x="207.39" y="65.95" width="6.04" height="1.82" fill="#71726f"/><rect x="213.38" y="65.95" width="6.04" height="1.82" fill="#6c6e70"/><rect x="219.36" y="65.95" width="6.04" height="1.82" fill="#76766e"/><rect x="225.35" y="65.95" width="6.04" height="1.82" fill="#72736f"/><rect x="231.34" y="65.95" width="6.04" height="1.82" fill="#b7a84f"/><rect x="237.32" y="65.95" width="6.04" height="1.82" fill="#817e6b"/><rect x="243.31" y="65.95" width="6.04" height="1.82" fill="#6f7070"/><rect x="249.30" y="65.95" width="6.04" height="1.82" fill="#656970"/><rect x="255.29" y="65.95" width="6.04" height="1.82" fill="#666970"/><rect x="261.27" y="65.95" width="6.04" height="1.82" fill="#686a70"/><rect x="267.26" y="65.95" width="6.04" height="1.82" fill="#6c6d70"/><rect x="273.25" y="65.95" width="6.04" height="1.82" fill="#656970"/><rect x="279.24" y="65.95" width="6.04" height="1.82" fill="#6e6f70"/><rect x="285.23" y="65.95" width="6.04" height="1.82" fill="#6c6d70"/><rect x="291.21" y="65.95" width="6.04" height="1.82" fill="#6c6e70"/><rect x="201.40" y="67.72" width="6.04" height="1.82" fill="#6f7070"/><rect x="207.39" y="67.72" width="6.04" height="1.82" fill="#77776e"/><rect x="213.38" y="67.72" width="6.04" height="1.82" fill="#7d7b6c"/><rect x="219.36" y="67.72" width="6.04" height="1.82" fill="#72726f"/><rect x="225.35" y="67.72" width="6.04" height="1.82" fill="#83806a"/><rect x="231.34" y="67.72" width="6.04" height="1.82" fill="#8c8766"/><rect x="237.32" y="67.72" width="6.04" height="1.82" fill="#8c8766"/><rect x="243.31" y="67.72" width="6.04" height="1.82" fill="#858169"/><rect x="249.30" y="67.72" width="6.04" height="1.82" fill="#656970"/><rect x="255.29" y="67.72" width="6.04" height="1.82" fill="#646870"/><rect x="261.27" y="67.72" width="6.04" height="1.82" fill="#656970"/><rect x="267.26" y="67.72" width="6.04" height="1.82" fill="#606570"/><rect x="273.25" y="67.72" width="6.04" height="1.82" fill="#74746e"/><rect x="279.24" y="67.72" width="6.04" height="1.82" fill="#7e7c6c"/><rect x="285.23" y="67.72" width="6.04" height="1.82" fill="#75756e"/><rect x="291.21" y="67.72" width="6.04" height="1.82" fill="#76766e"/><rect x="201.40" y="69.49" width="6.04" height="1.82" fill="#76766e"/><rect x="207.39" y="69.49" width="6.04" height="1.82" fill="#7f7d6b"/><rect x="213.38" y="69.49" width="6.04" height="1.82" fill="#7f7d6b"/><rect x="219.36" y="69.49" width="6.04" height="1.82" fill="#79786d"/><rect x="225.35" y="69.49" width="6.04" height="1.82" fill="#6f7070"/><rect x="231.34" y="69.49" width="6.04" height="1.82" fill="#78776d"/><rect x="237.32" y="69.49" width="6.04" height="1.82" fill="#7a786d"/><rect x="243.31" y="69.49" width="6.04" height="1.82" fill="#78786d"/><rect x="249.30" y="69.49" width="6.04" height="1.82" fill="#71726f"/><rect x="255.29" y="69.49" width="6.04" height="1.82" fill="#6d6f70"/><rect x="261.27" y="69.49" width="6.04" height="1.82" fill="#696c70"/><rect x="267.26" y="69.49" width="6.04" height="1.82" fill="#71726f"/><rect x="273.25" y="69.49" width="6.04" height="1.82" fill="#636770"/><rect x="279.24" y="69.49" width="6.04" height="1.82" fill="#6b6d70"/><rect x="285.23" y="69.49" width="6.04" height="1.82" fill="#676a70"/><rect x="291.21" y="69.49" width="6.04" height="1.82" fill="#686b70"/><rect x="201.40" y="71.25" width="6.04" height="1.82" fill="#71716f"/><rect x="207.39" y="71.25" width="6.04" height="1.82" fill="#807e6b"/><rect x="213.38" y="71.25" width="6.04" height="1.82" fill="#76766e"/><rect x="219.36" y="71.25" width="6.04" height="1.82" fill="#77776d"/><rect x="225.35" y="71.25" width="6.04" height="1.82" fill="#7c7a6c"/><rect x="231.34" y="71.25" width="6.04" height="1.82" fill="#807d6b"/><rect x="237.32" y="71.25" width="6.04" height="1.82" fill="#817e6b"/><rect x="243.31" y="71.25" width="6.04" height="1.82" fill="#83806a"/><rect x="249.30" y="71.25" width="6.04" height="1.82" fill="#5d6371"/><rect x="255.29" y="71.25" width="6.04" height="1.82" fill="#5f6471"/><rect x="261.27" y="71.25" width="6.04" height="1.82" fill="#606570"/><rect x="267.26" y="71.25" width="6.04" height="1.82" fill="#606570"/><rect x="273.25" y="71.25" width="6.04" height="1.82" fill="#5b6171"/><rect x="279.24" y="71.25" width="6.04" height="1.82" fill="#5f6471"/><rect x="285.23" y="71.25" width="6.04" height="1.82" fill="#616670"/><rect x="291.21" y="71.25" width="6.04" height="1.82" fill="#606571"/><rect x="201.40" y="73.02" width="6.04" height="1.82" fill="#76766e"/><rect x="207.39" y="73.02" width="6.04" height="1.82" fill="#7c7a6c"/><rect x="213.38" y="73.02" width="6.04" height="1.82" fill="#7c7a6c"/><rect x="219.36" y="73.02" width="6.04" height="1.82" fill="#7c7b6c"/><rect x="225.35" y="73.02" width="6.04" height="1.82" fill="#7f7c6b"/><rect x="231.34" y="73.02" width="6.04" height="1.82" fill="#898468"/><rect x="237.32" y="73.02" width="6.04" height="1.82" fill="#817f6b"/><rect x="243.31" y="73.02" width="6.04" height="1.82" fill="#827f6a"/><rect x="249.30" y="73.02" width="6.04" height="1.82" fill="#74746f"/><rect x="255.29" y="73.02" width="6.04" height="1.82" fill="#646870"/><rect x="261.27" y="73.02" width="6.04" height="1.82" fill="#686b70"/><rect x="267.26" y="73.02" width="6.04" height="1.82" fill="#696c70"/><rect x="273.25" y="73.02" width="6.04" height="1.82" fill="#666970"/><rect x="279.24" y="73.02" width="6.04" height="1.82" fill="#6d6e70"/><rect x="285.23" y="73.02" width="6.04" height="1.82" fill="#6a6c70"/><rect x="291.21" y="73.02" width="6.04" height="1.82" fill="#6c6e70"/><rect x="201.40" y="74.79" width="6.04" height="1.82" fill="#6f7070"/><rect x="207.39" y="74.79" width="6.04" height="1.82" fill="#72736f"/><rect x="213.38" y="74.79" width="6.04" height="1.82" fill="#77766e"/><rect x="219.36" y="74.79" width="6.04" height="1.82" fill="#71726f"/><rect x="225.35" y="74.79" width="6.04" height="1.82" fill="#6e6f70"/><rect x="231.34" y="74.79" width="6.04" height="1.82" fill="#707170"/><rect x="237.32" y="74.79" width="6.04" height="1.82" fill="#74746f"/><rect x="243.31" y="74.79" width="6.04" height="1.82" fill="#72726f"/><rect x="249.30" y="74.79" width="6.04" height="1.82" fill="#666970"/><rect x="255.29" y="74.79" width="6.04" height="1.82" fill="#606570"/><rect x="261.27" y="74.79" width="6.04" height="1.82" fill="#646870"/><rect x="267.26" y="74.79" width="6.04" height="1.82" fill="#656970"/><rect x="273.25" y="74.79" width="6.04" height="1.82" fill="#656870"/><rect x="279.24" y="74.79" width="6.04" height="1.82" fill="#6c6e70"/><rect x="285.23" y="74.79" width="6.04" height="1.82" fill="#6d6f70"/><rect x="291.21" y="74.79" width="6.04" height="1.82" fill="#696b70"/><rect x="201.40" y="76.56" width="6.04" height="1.82" fill="#858269"/><rect x="207.39" y="76.56" width="6.04" height="1.82" fill="#83806a"/><rect x="213.38" y="76.56" width="6.04" height="1.82" fill="#827f6a"/><rect x="219.36" y="76.56" width="6.04" height="1.82" fill="#7b796c"/><rect x="225.35" y="76.56" width="6.04" height="1.82" fill="#76766e"/><rect x="231.34" y="76.56" width="6.04" height="1.82" fill="#79786d"/><rect x="237.32" y="76.56" width="6.04" height="1.82" fill="#76766e"/><rect x="243.31" y="76.56" width="6.04" height="1.82" fill="#827f6a"/><rect x="249.30" y="76.56" width="6.04" height="1.82" fill="#6e6f70"/><rect x="255.29" y="76.56" width="6.04" height="1.82" fill="#656970"/><rect x="261.27" y="76.56" width="6.04" height="1.82" fill="#6c6e70"/><rect x="267.26" y="76.56" width="6.04" height="1.82" fill="#696c70"/><rect x="273.25" y="76.56" width="6.04" height="1.82" fill="#686a70"/><rect x="279.24" y="76.56" width="6.04" height="1.82" fill="#6d6f70"/><rect x="285.23" y="76.56" width="6.04" height="1.82" fill="#686b70"/><rect x="291.21" y="76.56" width="6.04" height="1.82" fill="#6b6d70"/><rect x="201.40" y="78.33" width="6.04" height="1.82" fill="#707070"/><rect x="207.39" y="78.33" width="6.04" height="1.82" fill="#79786d"/><rect x="213.38" y="78.33" width="6.04" height="1.82" fill="#707170"/><rect x="219.36" y="78.33" width="6.04" height="1.82" fill="#6f7070"/><rect x="225.35" y="78.33" width="6.04" height="1.82" fill="#7f7d6b"/><rect x="231.34" y="78.33" width="6.04" height="1.82" fill="#76756e"/><rect x="237.32" y="78.33" width="6.04" height="1.82" fill="#7a796d"/><rect x="243.31" y="78.33" width="6.04" height="1.82" fill="#7d7b6c"/><rect x="249.30" y="78.33" width="6.04" height="1.82" fill="#686b70"/><rect x="255.29" y="78.33" width="6.04" height="1.82" fill="#626670"/><rect x="261.27" y="78.33" width="6.04" height="1.82" fill="#626670"/><rect x="267.26" y="78.33" width="6.04" height="1.82" fill="#656970"/><rect x="273.25" y="78.33" width="6.04" height="1.82" fill="#646870"/><rect x="279.24" y="78.33" width="6.04" height="1.82" fill="#666970"/><rect x="285.23" y="78.33" width="6.04" height="1.82" fill="#686b70"/><rect x="291.21" y="78.33" width="6.04" height="1.82" fill="#676a70"/><rect x="201.40" y="80.09" width="6.04" height="1.82" fill="#75746e"/><rect x="207.39" y="80.09" width="6.04" height="1.82" fill="#707170"/><rect x="213.38" y="80.09" width="6.04" height="1.82" fill="#72736f"/><rect x="219.36" y="80.09" width="6.04" height="1.82" fill="#6d6e70"/><rect x="225.35" y="80.09" width="6.04" height="1.82" fill="#77766e"/><rect x="231.34" y="80.09" width="6.04" height="1.82" fill="#7d7b6c"/><rect x="237.32" y="80.09" width="6.04" height="1.82" fill="#858269"/><rect x="243.31" y="80.09" width="6.04" height="1.82" fill="#7a796d"/><rect x="249.30" y="80.09" width="6.04" height="1.82" fill="#6a6c70"/><rect x="255.29" y="80.09" width="6.04" height="1.82" fill="#696c70"/><rect x="261.27" y="80.09" width="6.04" height="1.82" fill="#656870"/><rect x="267.26" y="80.09" width="6.04" height="1.82" fill="#686b70"/><rect x="273.25" y="80.09" width="6.04" height="1.82" fill="#6b6d70"/><rect x="279.24" y="80.09" width="6.04" height="1.82" fill="#77776e"/><rect x="285.23" y="80.09" width="6.04" height="1.82" fill="#6f7070"/><rect x="291.21" y="80.09" width="6.04" height="1.82" fill="#6d6e70"/><rect x="201.40" y="81.86" width="6.04" height="1.82" fill="#6e6f70"/><rect x="207.39" y="81.86" width="6.04" height="1.82" fill="#75756e"/><rect x="213.38" y="81.86" width="6.04" height="1.82" fill="#6c6d70"/><rect x="219.36" y="81.86" width="6.04" height="1.82" fill="#6e6f70"/><rect x="225.35" y="81.86" width="6.04" height="1.82" fill="#72726f"/><rect x="231.34" y="81.86" width="6.04" height="1.82" fill="#78776d"/><rect x="237.32" y="81.86" width="6.04" height="1.82" fill="#79786d"/><rect x="243.31" y="81.86" width="6.04" height="1.82" fill="#78786d"/><rect x="249.30" y="81.86" width="6.04" height="1.82" fill="#6e6f70"/><rect x="255.29" y="81.86" width="6.04" height="1.82" fill="#6e6f70"/><rect x="261.27" y="81.86" width="6.04" height="1.82" fill="#74746e"/><rect x="267.26" y="81.86" width="6.04" height="1.82" fill="#6b6d70"/><rect x="273.25" y="81.86" width="6.04" height="1.82" fill="#6c6e70"/><rect x="279.24" y="81.86" width="6.04" height="1.82" fill="#6a6d70"/><rect x="285.23" y="81.86" width="6.04" height="1.82" fill="#6b6d70"/><rect x="291.21" y="81.86" width="6.04" height="1.82" fill="#6c6e70"/><rect x="201.40" y="83.63" width="6.04" height="1.82" fill="#6c6e70"/><rect x="207.39" y="83.63" width="6.04" height="1.82" fill="#76766e"/><rect x="213.38" y="83.63" width="6.04" height="1.82" fill="#6b6d70"/><rect x="219.36" y="83.63" width="6.04" height="1.82" fill="#6b6d70"/><rect x="225.35" y="83.63" width="6.04" height="1.82" fill="#6e6f70"/><rect x="231.34" y="83.63" width="6.04" height="1.82" fill="#6e6f70"/><rect x="237.32" y="83.63" width="6.04" height="1.82" fill="#78776d"/><rect x="243.31" y="83.63" width="6.04" height="1.82" fill="#6b6d70"/><rect x="249.30" y="83.63" width="6.04" height="1.82" fill="#6f7070"/><rect x="255.29" y="83.63" width="6.04" height="1.82" fill="#656870"/><rect x="261.27" y="83.63" width="6.04" height="1.82" fill="#71726f"/><rect x="267.26" y="83.63" width="6.04" height="1.82" fill="#6d6e70"/><rect x="273.25" y="83.63" width="6.04" height="1.82" fill="#6f7070"/><rect x="279.24" y="83.63" width="6.04" height="1.82" fill="#7f7d6b"/><rect x="285.23" y="83.63" width="6.04" height="1.82" fill="#74746f"/><rect x="291.21" y="83.63" width="6.04" height="1.82" fill="#73736f"/><rect x="201.40" y="85.39" width="6.04" height="1.82" fill="#6a6c70"/><rect x="207.39" y="85.39" width="6.04" height="1.82" fill="#6b6d70"/><rect x="213.38" y="85.39" width="6.04" height="1.82" fill="#6c6e70"/><rect x="219.36" y="85.39" width="6.04" height="1.82" fill="#6b6d70"/><rect x="225.35" y="85.39" width="6.04" height="1.82" fill="#6f7070"/><rect x="231.34" y="85.39" width="6.04" height="1.82" fill="#75756e"/><rect x="237.32" y="85.39" width="6.04" height="1.82" fill="#77766e"/><rect x="243.31" y="85.39" width="6.04" height="1.82" fill="#707170"/><rect x="249.30" y="85.39" width="6.04" height="1.82" fill="#72736f"/><rect x="255.29" y="85.39" width="6.04" height="1.82" fill="#6d6e70"/><rect x="261.27" y="85.39" width="6.04" height="1.82" fill="#696c70"/><rect x="267.26" y="85.39" width="6.04" height="1.82" fill="#6e6f70"/><rect x="273.25" y="85.39" width="6.04" height="1.82" fill="#696b70"/><rect x="279.24" y="85.39" width="6.04" height="1.82" fill="#6a6c70"/><rect x="285.23" y="85.39" width="6.04" height="1.82" fill="#73736f"/><rect x="291.21" y="85.39" width="6.04" height="1.82" fill="#6e6f70"/><rect x="201.40" y="87.16" width="6.04" height="1.82" fill="#72736f"/><rect x="207.39" y="87.16" width="6.04" height="1.82" fill="#74746f"/><rect x="213.38" y="87.16" width="6.04" height="1.82" fill="#74746f"/><rect x="219.36" y="87.16" width="6.04" height="1.82" fill="#72736f"/><rect x="225.35" y="87.16" width="6.04" height="1.82" fill="#7a796d"/><rect x="231.34" y="87.16" width="6.04" height="1.82" fill="#78786d"/><rect x="237.32" y="87.16" width="6.04" height="1.82" fill="#7f7d6b"/><rect x="243.31" y="87.16" width="6.04" height="1.82" fill="#73736f"/><rect x="249.30" y="87.16" width="6.04" height="1.82" fill="#656870"/><rect x="255.29" y="87.16" width="6.04" height="1.82" fill="#666970"/><rect x="261.27" y="87.16" width="6.04" height="1.82" fill="#686b70"/><rect x="267.26" y="87.16" width="6.04" height="1.82" fill="#636770"/><rect x="273.25" y="87.16" width="6.04" height="1.82" fill="#6e6f70"/><rect x="279.24" y="87.16" width="6.04" height="1.82" fill="#7f7d6b"/><rect x="285.23" y="87.16" width="6.04" height="1.82" fill="#75756e"/><rect x="291.21" y="87.16" width="6.04" height="1.82" fill="#7a796d"/><rect x="201.40" y="88.93" width="6.04" height="1.82" fill="#73736f"/><rect x="207.39" y="88.93" width="6.04" height="1.82" fill="#77766e"/><rect x="213.38" y="88.93" width="6.04" height="1.82" fill="#78786d"/><rect x="219.36" y="88.93" width="6.04" height="1.82" fill="#7e7c6c"/><rect x="225.35" y="88.93" width="6.04" height="1.82" fill="#817e6b"/><rect x="231.34" y="88.93" width="6.04" height="1.82" fill="#858169"/><rect x="237.32" y="88.93" width="6.04" height="1.82" fill="#908a65"/><rect x="243.31" y="88.93" width="6.04" height="1.82" fill="#858269"/><rect x="249.30" y="88.93" width="6.04" height="1.82" fill="#6c6e70"/><rect x="255.29" y="88.93" width="6.04" height="1.82" fill="#6b6d70"/><rect x="261.27" y="88.93" width="6.04" height="1.82" fill="#696b70"/><rect x="267.26" y="88.93" width="6.04" height="1.82" fill="#6a6c70"/><rect x="273.25" y="88.93" width="6.04" height="1.82" fill="#686b70"/><rect x="279.24" y="88.93" width="6.04" height="1.82" fill="#78776d"/><rect x="285.23" y="88.93" width="6.04" height="1.82" fill="#6e6f70"/><rect x="291.21" y="88.93" width="6.04" height="1.82" fill="#707170"/><rect x="201.40" y="90.70" width="6.04" height="1.82" fill="#6d6e70"/><rect x="207.39" y="90.70" width="6.04" height="1.82" fill="#73736f"/><rect x="213.38" y="90.70" width="6.04" height="1.82" fill="#6c6d70"/><rect x="219.36" y="90.70" width="6.04" height="1.82" fill="#6c6e70"/><rect x="225.35" y="90.70" width="6.04" height="1.82" fill="#7d7c6c"/><rect x="231.34" y="90.70" width="6.04" height="1.82" fill="#7c7a6c"/><rect x="237.32" y="90.70" width="6.04" height="1.82" fill="#7a796d"/><rect x="243.31" y="90.70" width="6.04" height="1.82" fill="#898568"/><rect x="249.30" y="90.70" width="6.04" height="1.82" fill="#71726f"/><rect x="255.29" y="90.70" width="6.04" height="1.82" fill="#636770"/><rect x="261.27" y="90.70" width="6.04" height="1.82" fill="#696b70"/><rect x="267.26" y="90.70" width="6.04" height="1.82" fill="#6a6c70"/><rect x="273.25" y="90.70" width="6.04" height="1.82" fill="#686b70"/><rect x="279.24" y="90.70" width="6.04" height="1.82" fill="#6d6f70"/><rect x="285.23" y="90.70" width="6.04" height="1.82" fill="#6a6c70"/><rect x="291.21" y="90.70" width="6.04" height="1.82" fill="#686b70"/><rect x="201.40" y="92.46" width="6.04" height="1.82" fill="#6e6f70"/><rect x="207.39" y="92.46" width="6.04" height="1.82" fill="#78776d"/><rect x="213.38" y="92.46" width="6.04" height="1.82" fill="#74746e"/><rect x="219.36" y="92.46" width="6.04" height="1.82" fill="#78776d"/><rect x="225.35" y="92.46" width="6.04" height="1.82" fill="#6b6d70"/><rect x="231.34" y="92.46" width="6.04" height="1.82" fill="#6c6e70"/><rect x="237.32" y="92.46" width="6.04" height="1.82" fill="#72726f"/><rect x="243.31" y="92.46" width="6.04" height="1.82" fill="#707170"/><rect x="249.30" y="92.46" width="6.04" height="1.82" fill="#656870"/><rect x="255.29" y="92.46" width="6.04" height="1.82" fill="#656870"/><rect x="261.27" y="92.46" width="6.04" height="1.82" fill="#676a70"/><rect x="267.26" y="92.46" width="6.04" height="1.82" fill="#686b70"/><rect x="273.25" y="92.46" width="6.04" height="1.82" fill="#6d6f70"/><rect x="279.24" y="92.46" width="6.04" height="1.82" fill="#6d6e70"/><rect x="285.23" y="92.46" width="6.04" height="1.82" fill="#6d6e70"/><rect x="291.21" y="92.46" width="6.04" height="1.82" fill="#676a70"/><rect x="201.40" y="94.23" width="6.04" height="1.82" fill="#78776d"/><rect x="207.39" y="94.23" width="6.04" height="1.82" fill="#79786d"/><rect x="213.38" y="94.23" width="6.04" height="1.82" fill="#6f7070"/><rect x="219.36" y="94.23" width="6.04" height="1.82" fill="#77776e"/><rect x="225.35" y="94.23" width="6.04" height="1.82" fill="#76766e"/><rect x="231.34" y="94.23" width="6.04" height="1.82" fill="#6d6e70"/><rect x="237.32" y="94.23" width="6.04" height="1.82" fill="#7c7b6c"/><rect x="243.31" y="94.23" width="6.04" height="1.82" fill="#77766e"/><rect x="249.30" y="94.23" width="6.04" height="1.82" fill="#77766e"/><rect x="255.29" y="94.23" width="6.04" height="1.82" fill="#73736f"/><rect x="261.27" y="94.23" width="6.04" height="1.82" fill="#78776d"/><rect x="267.26" y="94.23" width="6.04" height="1.82" fill="#707170"/><rect x="273.25" y="94.23" width="6.04" height="1.82" fill="#676a70"/><rect x="279.24" y="94.23" width="6.04" height="1.82" fill="#696c70"/><rect x="285.23" y="94.23" width="6.04" height="1.82" fill="#6c6d70"/><rect x="291.21" y="94.23" width="6.04" height="1.82" fill="#676a70"/><rect x="201.40" y="96.00" width="6.04" height="1.82" fill="#7f7d6b"/><rect x="207.39" y="96.00" width="6.04" height="1.82" fill="#878368"/><rect x="213.38" y="96.00" width="6.04" height="1.82" fill="#878368"/><rect x="219.36" y="96.00" width="6.04" height="1.82" fill="#858169"/><rect x="225.35" y="96.00" width="6.04" height="1.82" fill="#717170"/><rect x="231.34" y="96.00" width="6.04" height="1.82" fill="#71726f"/><rect x="237.32" y="96.00" width="6.04" height="1.82" fill="#7c7b6c"/><rect x="243.31" y="96.00" width="6.04" height="1.82" fill="#72726f"/><rect x="249.30" y="96.00" width="6.04" height="1.82" fill="#6a6c70"/><rect x="255.29" y="96.00" width="6.04" height="1.82" fill="#6c6e70"/><rect x="261.27" y="96.00" width="6.04" height="1.82" fill="#6a6c70"/><rect x="267.26" y="96.00" width="6.04" height="1.82" fill="#696b70"/><rect x="273.25" y="96.00" width="6.04" height="1.82" fill="#606570"/><rect x="279.24" y="96.00" width="6.04" height="1.82" fill="#676a70"/><rect x="285.23" y="96.00" width="6.04" height="1.82" fill="#696b70"/><rect x="291.21" y="96.00" width="6.04" height="1.82" fill="#686b70"/><rect x="201.40" y="97.77" width="6.04" height="1.82" fill="#928c64"/><rect x="207.39" y="97.77" width="6.04" height="1.82" fill="#9b9260"/><rect x="213.38" y="97.77" width="6.04" height="1.82" fill="#73736f"/><rect x="219.36" y="97.77" width="6.04" height="1.82" fill="#77776e"/><rect x="225.35" y="97.77" width="6.04" height="1.82" fill="#696c70"/><rect x="231.34" y="97.77" width="6.04" height="1.82" fill="#76766e"/><rect x="237.32" y="97.77" width="6.04" height="1.82" fill="#6f7070"/><rect x="243.31" y="97.77" width="6.04" height="1.82" fill="#74746f"/><rect x="249.30" y="97.77" width="6.04" height="1.82" fill="#646870"/><rect x="255.29" y="97.77" width="6.04" height="1.82" fill="#666970"/><rect x="261.27" y="97.77" width="6.04" height="1.82" fill="#6a6c70"/><rect x="267.26" y="97.77" width="6.04" height="1.82" fill="#5c6271"/><rect x="273.25" y="97.77" width="6.04" height="1.82" fill="#676a70"/><rect x="279.24" y="97.77" width="6.04" height="1.82" fill="#717170"/><rect x="285.23" y="97.77" width="6.04" height="1.82" fill="#6e6f70"/><rect x="291.21" y="97.77" width="6.04" height="1.82" fill="#6c6e70"/><rect x="201.40" y="99.53" width="6.04" height="1.82" fill="#908a65"/><rect x="207.39" y="99.53" width="6.04" height="1.82" fill="#9a9260"/><rect x="213.38" y="99.53" width="6.04" height="1.82" fill="#868269"/><rect x="219.36" y="99.53" width="6.04" height="1.82" fill="#7f7d6b"/><rect x="225.35" y="99.53" width="6.04" height="1.82" fill="#626670"/><rect x="231.34" y="99.53" width="6.04" height="1.82" fill="#6b6d70"/><rect x="237.32" y="99.53" width="6.04" height="1.82" fill="#6d6f70"/><rect x="243.31" y="99.53" width="6.04" height="1.82" fill="#686b70"/><rect x="249.30" y="99.53" width="6.04" height="1.82" fill="#7e7c6c"/><rect x="255.29" y="99.53" width="6.04" height="1.82" fill="#79786d"/><rect x="261.27" y="99.53" width="6.04" height="1.82" fill="#7a796d"/><rect x="267.26" y="99.53" width="6.04" height="1.82" fill="#6d6f70"/><rect x="273.25" y="99.53" width="6.04" height="1.82" fill="#616670"/><rect x="279.24" y="99.53" width="6.04" height="1.82" fill="#6a6d70"/><rect x="285.23" y="99.53" width="6.04" height="1.82" fill="#696c70"/><rect x="291.21" y="99.53" width="6.04" height="1.82" fill="#6a6c70"/><rect x="201.40" y="101.30" width="6.04" height="1.82" fill="#c1b04b"/><rect x="207.39" y="101.30" width="6.04" height="1.82" fill="#b7a84f"/><rect x="213.38" y="101.30" width="6.04" height="1.82" fill="#7d7b6c"/><rect x="219.36" y="101.30" width="6.04" height="1.82" fill="#74746e"/><rect x="225.35" y="101.30" width="6.04" height="1.82" fill="#696b70"/><rect x="231.34" y="101.30" width="6.04" height="1.82" fill="#686b70"/><rect x="237.32" y="101.30" width="6.04" height="1.82" fill="#6d6f70"/><rect x="243.31" y="101.30" width="6.04" height="1.82" fill="#696c70"/><rect x="249.30" y="101.30" width="6.04" height="1.82" fill="#72726f"/><rect x="255.29" y="101.30" width="6.04" height="1.82" fill="#7b796d"/><rect x="261.27" y="101.30" width="6.04" height="1.82" fill="#78776d"/><rect x="267.26" y="101.30" width="6.04" height="1.82" fill="#73736f"/><rect x="273.25" y="101.30" width="6.04" height="1.82" fill="#5d6371"/><rect x="279.24" y="101.30" width="6.04" height="1.82" fill="#666970"/><rect x="285.23" y="101.30" width="6.04" height="1.82" fill="#606571"/><rect x="291.21" y="101.30" width="6.04" height="1.82" fill="#626670"/><rect x="201.40" y="103.07" width="6.04" height="1.82" fill="#858269"/><rect x="207.39" y="103.07" width="6.04" height="1.82" fill="#b9a94f"/><rect x="213.38" y="103.07" width="6.04" height="1.82" fill="#858269"/><rect x="219.36" y="103.07" width="6.04" height="1.82" fill="#817f6a"/><rect x="225.35" y="103.07" width="6.04" height="1.82" fill="#676a70"/><rect x="231.34" y="103.07" width="6.04" height="1.82" fill="#696c70"/><rect x="237.32" y="103.07" width="6.04" height="1.82" fill="#6d6f70"/><rect x="243.31" y="103.07" width="6.04" height="1.82" fill="#6b6d70"/><rect x="249.30" y="103.07" width="6.04" height="1.82" fill="#626670"/><rect x="255.29" y="103.07" width="6.04" height="1.82" fill="#656870"/><rect x="261.27" y="103.07" width="6.04" height="1.82" fill="#606570"/><rect x="267.26" y="103.07" width="6.04" height="1.82" fill="#656870"/><rect x="273.25" y="103.07" width="6.04" height="1.82" fill="#6a6c70"/><rect x="279.24" y="103.07" width="6.04" height="1.82" fill="#77766e"/><rect x="285.23" y="103.07" width="6.04" height="1.82" fill="#7a796d"/><rect x="291.21" y="103.07" width="6.04" height="1.82" fill="#75746e"/><rect x="201.40" y="104.84" width="6.04" height="1.82" fill="#7d7b6c"/><rect x="207.39" y="104.84" width="6.04" height="1.82" fill="#7d7b6c"/><rect x="213.38" y="104.84" width="6.04" height="1.82" fill="#b5a651"/><rect x="219.36" y="104.84" width="6.04" height="1.82" fill="#7f7d6b"/><rect x="225.35" y="104.84" width="6.04" height="1.82" fill="#6b6d70"/><rect x="231.34" y="104.84" width="6.04" height="1.82" fill="#6c6d70"/><rect x="237.32" y="104.84" width="6.04" height="1.82" fill="#6c6e70"/><rect x="243.31" y="104.84" width="6.04" height="1.82" fill="#6c6d70"/><rect x="249.30" y="104.84" width="6.04" height="1.82" fill="#646870"/><rect x="255.29" y="104.84" width="6.04" height="1.82" fill="#626670"/><rect x="261.27" y="104.84" width="6.04" height="1.82" fill="#626770"/><rect x="267.26" y="104.84" width="6.04" height="1.82" fill="#5d6371"/><rect x="273.25" y="104.84" width="6.04" height="1.82" fill="#5f6571"/><rect x="279.24" y="104.84" width="6.04" height="1.82" fill="#676a70"/><rect x="285.23" y="104.84" width="6.04" height="1.82" fill="#636770"/><rect x="291.21" y="104.84" width="6.04" height="1.82" fill="#666970"/><rect x="201.40" y="106.60" width="6.04" height="1.82" fill="#76766e"/><rect x="207.39" y="106.60" width="6.04" height="1.82" fill="#868269"/><rect x="213.38" y="106.60" width="6.04" height="1.82" fill="#958e63"/><rect x="219.36" y="106.60" width="6.04" height="1.82" fill="#7f7c6b"/><rect x="225.35" y="106.60" width="6.04" height="1.82" fill="#79786d"/><rect x="231.34" y="106.60" width="6.04" height="1.82" fill="#78776d"/><rect x="237.32" y="106.60" width="6.04" height="1.82" fill="#817e6b"/><rect x="243.31" y="106.60" width="6.04" height="1.82" fill="#72726f"/><rect x="249.30" y="106.60" width="6.04" height="1.82" fill="#656970"/><rect x="255.29" y="106.60" width="6.04" height="1.82" fill="#626670"/><rect x="261.27" y="106.60" width="6.04" height="1.82" fill="#616670"/><rect x="267.26" y="106.60" width="6.04" height="1.82" fill="#5f6471"/><rect x="273.25" y="106.60" width="6.04" height="1.82" fill="#666a70"/><rect x="279.24" y="106.60" width="6.04" height="1.82" fill="#696c70"/><rect x="285.23" y="106.60" width="6.04" height="1.82" fill="#6a6d70"/><rect x="291.21" y="106.60" width="6.04" height="1.82" fill="#696b70"/><rect x="201.40" y="108.37" width="6.04" height="1.82" fill="#77766e"/><rect x="207.39" y="108.37" width="6.04" height="1.82" fill="#7d7b6c"/><rect x="213.38" y="108.37" width="6.04" height="1.82" fill="#baaa4e"/><rect x="219.36" y="108.37" width="6.04" height="1.82" fill="#807d6b"/><rect x="225.35" y="108.37" width="6.04" height="1.82" fill="#636770"/><rect x="231.34" y="108.37" width="6.04" height="1.82" fill="#626770"/><rect x="237.32" y="108.37" width="6.04" height="1.82" fill="#6d6f70"/><rect x="243.31" y="108.37" width="6.04" height="1.82" fill="#6d6f70"/><rect x="249.30" y="108.37" width="6.04" height="1.82" fill="#707170"/><rect x="255.29" y="108.37" width="6.04" height="1.82" fill="#6d6f70"/><rect x="261.27" y="108.37" width="6.04" height="1.82" fill="#6a6c70"/><rect x="267.26" y="108.37" width="6.04" height="1.82" fill="#696c70"/><rect x="273.25" y="108.37" width="6.04" height="1.82" fill="#5f6471"/><rect x="279.24" y="108.37" width="6.04" height="1.82" fill="#606570"/><rect x="285.23" y="108.37" width="6.04" height="1.82" fill="#5d6371"/><rect x="291.21" y="108.37" width="6.04" height="1.82" fill="#5f6471"/><rect x="201.40" y="110.14" width="6.04" height="1.82" fill="#908a65"/><rect x="207.39" y="110.14" width="6.04" height="1.82" fill="#9f965d"/><rect x="213.38" y="110.14" width="6.04" height="1.82" fill="#948d63"/><rect x="219.36" y="110.14" width="6.04" height="1.82" fill="#baaa4e"/><rect x="225.35" y="110.14" width="6.04" height="1.82" fill="#696b70"/><rect x="231.34" y="110.14" width="6.04" height="1.82" fill="#6d6e70"/><rect x="237.32" y="110.14" width="6.04" height="1.82" fill="#6f7070"/><rect x="243.31" y="110.14" width="6.04" height="1.82" fill="#6d6e70"/><rect x="249.30" y="110.14" width="6.04" height="1.82" fill="#707170"/><rect x="255.29" y="110.14" width="6.04" height="1.82" fill="#6b6d70"/><rect x="261.27" y="110.14" width="6.04" height="1.82" fill="#686b70"/><rect x="267.26" y="110.14" width="6.04" height="1.82" fill="#676a70"/><rect x="273.25" y="110.14" width="6.04" height="1.82" fill="#606570"/><rect x="279.24" y="110.14" width="6.04" height="1.82" fill="#686b70"/><rect x="285.23" y="110.14" width="6.04" height="1.82" fill="#696c70"/><rect x="291.21" y="110.14" width="6.04" height="1.82" fill="#696c70"/><rect x="201.40" y="111.91" width="6.04" height="1.82" fill="#7e7c6b"/><rect x="207.39" y="111.91" width="6.04" height="1.82" fill="#848169"/><rect x="213.38" y="111.91" width="6.04" height="1.82" fill="#817f6a"/><rect x="219.36" y="111.91" width="6.04" height="1.82" fill="#ac9f56"/><rect x="225.35" y="111.91" width="6.04" height="1.82" fill="#696b70"/><rect x="231.34" y="111.91" width="6.04" height="1.82" fill="#686b70"/><rect x="237.32" y="111.91" width="6.04" height="1.82" fill="#6d6f70"/><rect x="243.31" y="111.91" width="6.04" height="1.82" fill="#6b6d70"/><rect x="249.30" y="111.91" width="6.04" height="1.82" fill="#6c6e70"/><rect x="255.29" y="111.91" width="6.04" height="1.82" fill="#6d6f70"/><rect x="261.27" y="111.91" width="6.04" height="1.82" fill="#686b70"/><rect x="267.26" y="111.91" width="6.04" height="1.82" fill="#686b70"/><rect x="273.25" y="111.91" width="6.04" height="1.82" fill="#515b73"/><rect x="279.24" y="111.91" width="6.04" height="1.82" fill="#596072"/><rect x="285.23" y="111.91" width="6.04" height="1.82" fill="#5f6471"/><rect x="291.21" y="111.91" width="6.04" height="1.82" fill="#5f6471"/><rect x="201.40" y="113.67" width="6.04" height="1.82" fill="#7b7a6c"/><rect x="207.39" y="113.67" width="6.04" height="1.82" fill="#817e6b"/><rect x="213.38" y="113.67" width="6.04" height="1.82" fill="#83806a"/><rect x="219.36" y="113.67" width="6.04" height="1.82" fill="#aea154"/><rect x="225.35" y="113.67" width="6.04" height="1.82" fill="#6c6e70"/><rect x="231.34" y="113.67" width="6.04" height="1.82" fill="#6f7070"/><rect x="237.32" y="113.67" width="6.04" height="1.82" fill="#73736f"/><rect x="243.31" y="113.67" width="6.04" height="1.82" fill="#707070"/><rect x="249.30" y="113.67" width="6.04" height="1.82" fill="#7a796d"/><rect x="255.29" y="113.67" width="6.04" height="1.82" fill="#6e6f70"/><rect x="261.27" y="113.67" width="6.04" height="1.82" fill="#717170"/><rect x="267.26" y="113.67" width="6.04" height="1.82" fill="#79786d"/><rect x="273.25" y="113.67" width="6.04" height="1.82" fill="#676a70"/><rect x="279.24" y="113.67" width="6.04" height="1.82" fill="#6b6d70"/><rect x="285.23" y="113.67" width="6.04" height="1.82" fill="#686a70"/><rect x="291.21" y="113.67" width="6.04" height="1.82" fill="#6a6c70"/><rect x="201.40" y="115.44" width="6.04" height="1.82" fill="#7f7d6b"/><rect x="207.39" y="115.44" width="6.04" height="1.82" fill="#858169"/><rect x="213.38" y="115.44" width="6.04" height="1.82" fill="#868269"/><rect x="219.36" y="115.44" width="6.04" height="1.82" fill="#79786d"/><rect x="225.35" y="115.44" width="6.04" height="1.82" fill="#71726f"/><rect x="231.34" y="115.44" width="6.04" height="1.82" fill="#75756e"/><rect x="237.32" y="115.44" width="6.04" height="1.82" fill="#77766e"/><rect x="243.31" y="115.44" width="6.04" height="1.82" fill="#75756e"/><rect x="249.30" y="115.44" width="6.04" height="1.82" fill="#74746f"/><rect x="255.29" y="115.44" width="6.04" height="1.82" fill="#76766e"/><rect x="261.27" y="115.44" width="6.04" height="1.82" fill="#717170"/><rect x="267.26" y="115.44" width="6.04" height="1.82" fill="#6f7070"/><rect x="273.25" y="115.44" width="6.04" height="1.82" fill="#686b70"/><rect x="279.24" y="115.44" width="6.04" height="1.82" fill="#7d7c6c"/><rect x="285.23" y="115.44" width="6.04" height="1.82" fill="#74746f"/><rect x="291.21" y="115.44" width="6.04" height="1.82" fill="#73736f"/><rect x="201.40" y="117.21" width="6.04" height="1.82" fill="#72736f"/><rect x="207.39" y="117.21" width="6.04" height="1.82" fill="#76766e"/><rect x="213.38" y="117.21" width="6.04" height="1.82" fill="#6f7070"/><rect x="219.36" y="117.21" width="6.04" height="1.82" fill="#78776d"/><rect x="225.35" y="117.21" width="6.04" height="1.82" fill="#5f6471"/><rect x="231.34" y="117.21" width="6.04" height="1.82" fill="#5d6371"/><rect x="237.32" y="117.21" width="6.04" height="1.82" fill="#656970"/><rect x="243.31" y="117.21" width="6.04" height="1.82" fill="#626670"/><rect x="249.30" y="117.21" width="6.04" height="1.82" fill="#686b70"/><rect x="255.29" y="117.21" width="6.04" height="1.82" fill="#686b70"/><rect x="261.27" y="117.21" width="6.04" height="1.82" fill="#6a6c70"/><rect x="267.26" y="117.21" width="6.04" height="1.82" fill="#666970"/><rect x="273.25" y="117.21" width="6.04" height="1.82" fill="#676a70"/><rect x="279.24" y="117.21" width="6.04" height="1.82" fill="#73736f"/><rect x="285.23" y="117.21" width="6.04" height="1.82" fill="#6e7070"/><rect x="291.21" y="117.21" width="6.04" height="1.82" fill="#6c6e70"/><rect x="201.40" y="118.98" width="6.04" height="1.82" fill="#6d6e70"/><rect x="207.39" y="118.98" width="6.04" height="1.82" fill="#78786d"/><rect x="213.38" y="118.98" width="6.04" height="1.82" fill="#72726f"/><rect x="219.36" y="118.98" width="6.04" height="1.82" fill="#78776d"/><rect x="225.35" y="118.98" width="6.04" height="1.82" fill="#666970"/><rect x="231.34" y="118.98" width="6.04" height="1.82" fill="#6a6c70"/><rect x="237.32" y="118.98" width="6.04" height="1.82" fill="#75756e"/><rect x="243.31" y="118.98" width="6.04" height="1.82" fill="#686b70"/><rect x="249.30" y="118.98" width="6.04" height="1.82" fill="#6d6f70"/><rect x="255.29" y="118.98" width="6.04" height="1.82" fill="#6a6d70"/><rect x="261.27" y="118.98" width="6.04" height="1.82" fill="#686b70"/><rect x="267.26" y="118.98" width="6.04" height="1.82" fill="#696c70"/><rect x="273.25" y="118.98" width="6.04" height="1.82" fill="#686b70"/><rect x="279.24" y="118.98" width="6.04" height="1.82" fill="#6b6d70"/><rect x="285.23" y="118.98" width="6.04" height="1.82" fill="#676a70"/><rect x="291.21" y="118.98" width="6.04" height="1.82" fill="#686b70"/><rect x="201.40" y="120.74" width="6.04" height="1.82" fill="#76756e"/><rect x="207.39" y="120.74" width="6.04" height="1.82" fill="#75756e"/><rect x="213.38" y="120.74" width="6.04" height="1.82" fill="#6e6f70"/><rect x="219.36" y="120.74" width="6.04" height="1.82" fill="#6e6f70"/><rect x="225.35" y="120.74" width="6.04" height="1.82" fill="#6b6d70"/><rect x="231.34" y="120.74" width="6.04" height="1.82" fill="#6b6d70"/><rect x="237.32" y="120.74" width="6.04" height="1.82" fill="#6a6c70"/><rect x="243.31" y="120.74" width="6.04" height="1.82" fill="#6a6d70"/><rect x="249.30" y="120.74" width="6.04" height="1.82" fill="#6f7070"/><rect x="255.29" y="120.74" width="6.04" height="1.82" fill="#6c6e70"/><rect x="261.27" y="120.74" width="6.04" height="1.82" fill="#6b6d70"/><rect x="267.26" y="120.74" width="6.04" height="1.82" fill="#686b70"/><rect x="273.25" y="120.74" width="6.04" height="1.82" fill="#827f6a"/><rect x="279.24" y="120.74" width="6.04" height="1.82" fill="#888468"/><rect x="285.23" y="120.74" width="6.04" height="1.82" fill="#948d63"/><rect x="291.21" y="120.74" width="6.04" height="1.82" fill="#908a65"/><rect x="201.40" y="122.51" width="6.04" height="1.82" fill="#7c7a6c"/><rect x="207.39" y="122.51" width="6.04" height="1.82" fill="#848169"/><rect x="213.38" y="122.51" width="6.04" height="1.82" fill="#73736f"/><rect x="219.36" y="122.51" width="6.04" height="1.82" fill="#7a796d"/><rect x="225.35" y="122.51" width="6.04" height="1.82" fill="#696c70"/><rect x="231.34" y="122.51" width="6.04" height="1.82" fill="#6b6d70"/><rect x="237.32" y="122.51" width="6.04" height="1.82" fill="#6e6f70"/><rect x="243.31" y="122.51" width="6.04" height="1.82" fill="#6e7070"/><rect x="249.30" y="122.51" width="6.04" height="1.82" fill="#5c6271"/><rect x="255.29" y="122.51" width="6.04" height="1.82" fill="#5a6171"/><rect x="261.27" y="122.51" width="6.04" height="1.82" fill="#5a6171"/><rect x="267.26" y="122.51" width="6.04" height="1.82" fill="#5c6271"/><rect x="273.25" y="122.51" width="6.04" height="1.82" fill="#807d6b"/><rect x="279.24" y="122.51" width="6.04" height="1.82" fill="#8f8965"/><rect x="285.23" y="122.51" width="6.04" height="1.82" fill="#8d8866"/><rect x="291.21" y="122.51" width="6.04" height="1.82" fill="#8c8766"/><rect x="201.40" y="124.28" width="6.04" height="1.82" fill="#6c6e70"/><rect x="207.39" y="124.28" width="6.04" height="1.82" fill="#76756e"/><rect x="213.38" y="124.28" width="6.04" height="1.82" fill="#6c6d70"/><rect x="219.36" y="124.28" width="6.04" height="1.82" fill="#6f7070"/><rect x="225.35" y="124.28" width="6.04" height="1.82" fill="#6b6d70"/><rect x="231.34" y="124.28" width="6.04" height="1.82" fill="#696c70"/><rect x="237.32" y="124.28" width="6.04" height="1.82" fill="#707170"/><rect x="243.31" y="124.28" width="6.04" height="1.82" fill="#696b70"/><rect x="249.30" y="124.28" width="6.04" height="1.82" fill="#71726f"/><rect x="255.29" y="124.28" width="6.04" height="1.82" fill="#6c6e70"/><rect x="261.27" y="124.28" width="6.04" height="1.82" fill="#686b70"/><rect x="267.26" y="124.28" width="6.04" height="1.82" fill="#6d6f70"/><rect x="273.25" y="124.28" width="6.04" height="1.82" fill="#75756e"/><rect x="279.24" y="124.28" width="6.04" height="1.82" fill="#8a8567"/><rect x="285.23" y="124.28" width="6.04" height="1.82" fill="#7f7d6b"/><rect x="291.21" y="124.28" width="6.04" height="1.82" fill="#817f6b"/><rect x="201.40" y="126.05" width="6.04" height="1.82" fill="#707070"/><rect x="207.39" y="126.05" width="6.04" height="1.82" fill="#73746f"/><rect x="213.38" y="126.05" width="6.04" height="1.82" fill="#686b70"/><rect x="219.36" y="126.05" width="6.04" height="1.82" fill="#74746e"/><rect x="225.35" y="126.05" width="6.04" height="1.82" fill="#676a70"/><rect x="231.34" y="126.05" width="6.04" height="1.82" fill="#646870"/><rect x="237.32" y="126.05" width="6.04" height="1.82" fill="#6c6e70"/><rect x="243.31" y="126.05" width="6.04" height="1.82" fill="#6b6d70"/><rect x="249.30" y="126.05" width="6.04" height="1.82" fill="#6c6e70"/><rect x="255.29" y="126.05" width="6.04" height="1.82" fill="#646870"/><rect x="261.27" y="126.05" width="6.04" height="1.82" fill="#6c6e70"/><rect x="267.26" y="126.05" width="6.04" height="1.82" fill="#676a70"/><rect x="273.25" y="126.05" width="6.04" height="1.82" fill="#8c8766"/><rect x="279.24" y="126.05" width="6.04" height="1.82" fill="#8b8667"/><rect x="285.23" y="126.05" width="6.04" height="1.82" fill="#8d8866"/><rect x="291.21" y="126.05" width="6.04" height="1.82" fill="#888468"/><rect x="201.40" y="127.81" width="6.04" height="1.82" fill="#74746f"/><rect x="207.39" y="127.81" width="6.04" height="1.82" fill="#72726f"/><rect x="213.38" y="127.81" width="6.04" height="1.82" fill="#73746f"/><rect x="219.36" y="127.81" width="6.04" height="1.82" fill="#73736f"/><rect x="225.35" y="127.81" width="6.04" height="1.82" fill="#656970"/><rect x="231.34" y="127.81" width="6.04" height="1.82" fill="#6b6d70"/><rect x="237.32" y="127.81" width="6.04" height="1.82" fill="#6d6f70"/><rect x="243.31" y="127.81" width="6.04" height="1.82" fill="#6a6c70"/><rect x="249.30" y="127.81" width="6.04" height="1.82" fill="#72726f"/><rect x="255.29" y="127.81" width="6.04" height="1.82" fill="#6e6f70"/><rect x="261.27" y="127.81" width="6.04" height="1.82" fill="#6f7070"/><rect x="267.26" y="127.81" width="6.04" height="1.82" fill="#71726f"/><rect x="273.25" y="127.81" width="6.04" height="1.82" fill="#827f6a"/><rect x="279.24" y="127.81" width="6.04" height="1.82" fill="#858269"/><rect x="285.23" y="127.81" width="6.04" height="1.82" fill="#807d6b"/><rect x="291.21" y="127.81" width="6.04" height="1.82" fill="#8e8866"/><rect x="201.40" y="129.58" width="6.04" height="1.82" fill="#72726f"/><rect x="207.39" y="129.58" width="6.04" height="1.82" fill="#79786d"/><rect x="213.38" y="129.58" width="6.04" height="1.82" fill="#7c7a6c"/><rect x="219.36" y="129.58" width="6.04" height="1.82" fill="#7d7b6c"/><rect x="225.35" y="129.58" width="6.04" height="1.82" fill="#616570"/><rect x="231.34" y="129.58" width="6.04" height="1.82" fill="#5c6271"/><rect x="237.32" y="129.58" width="6.04" height="1.82" fill="#5d6371"/><rect x="243.31" y="129.58" width="6.04" height="1.82" fill="#616670"/><rect x="249.30" y="129.58" width="6.04" height="1.82" fill="#6c6e70"/><rect x="255.29" y="129.58" width="6.04" height="1.82" fill="#696b70"/><rect x="261.27" y="129.58" width="6.04" height="1.82" fill="#656870"/><rect x="267.26" y="129.58" width="6.04" height="1.82" fill="#6a6c70"/><rect x="273.25" y="129.58" width="6.04" height="1.82" fill="#817f6b"/><rect x="279.24" y="129.58" width="6.04" height="1.82" fill="#8b8667"/><rect x="285.23" y="129.58" width="6.04" height="1.82" fill="#848169"/><rect x="291.21" y="129.58" width="6.04" height="1.82" fill="#888468"/><rect x="201.40" y="131.35" width="6.04" height="1.82" fill="#6e6f70"/><rect x="207.39" y="131.35" width="6.04" height="1.82" fill="#75756e"/><rect x="213.38" y="131.35" width="6.04" height="1.82" fill="#6d6e70"/><rect x="219.36" y="131.35" width="6.04" height="1.82" fill="#6e6f70"/><rect x="225.35" y="131.35" width="6.04" height="1.82" fill="#5c6271"/><rect x="231.34" y="131.35" width="6.04" height="1.82" fill="#606570"/><rect x="237.32" y="131.35" width="6.04" height="1.82" fill="#666970"/><rect x="243.31" y="131.35" width="6.04" height="1.82" fill="#5f6471"/><rect x="249.30" y="131.35" width="6.04" height="1.82" fill="#77766e"/><rect x="255.29" y="131.35" width="6.04" height="1.82" fill="#71726f"/><rect x="261.27" y="131.35" width="6.04" height="1.82" fill="#6f7070"/><rect x="267.26" y="131.35" width="6.04" height="1.82" fill="#6e6f70"/><rect x="273.25" y="131.35" width="6.04" height="1.82" fill="#8c8766"/><rect x="279.24" y="131.35" width="6.04" height="1.82" fill="#8d8866"/><rect x="285.23" y="131.35" width="6.04" height="1.82" fill="#8c8766"/><rect x="291.21" y="131.35" width="6.04" height="1.82" fill="#888468"/><rect x="201.40" y="133.12" width="6.04" height="1.82" fill="#7c7a6c"/><rect x="207.39" y="133.12" width="6.04" height="1.82" fill="#78776d"/><rect x="213.38" y="133.12" width="6.04" height="1.82" fill="#807e6b"/><rect x="219.36" y="133.12" width="6.04" height="1.82" fill="#79786d"/><rect x="225.35" y="133.12" width="6.04" height="1.82" fill="#646870"/><rect x="231.34" y="133.12" width="6.04" height="1.82" fill="#676a70"/><rect x="237.32" y="133.12" width="6.04" height="1.82" fill="#6a6c70"/><rect x="243.31" y="133.12" width="6.04" height="1.82" fill="#6d6e70"/><rect x="249.30" y="133.12" width="6.04" height="1.82" fill="#72726f"/><rect x="255.29" y="133.12" width="6.04" height="1.82" fill="#686b70"/><rect x="261.27" y="133.12" width="6.04" height="1.82" fill="#6f7070"/><rect x="267.26" y="133.12" width="6.04" height="1.82" fill="#6e6f70"/><rect x="273.25" y="133.12" width="6.04" height="1.82" fill="#7a796d"/><rect x="279.24" y="133.12" width="6.04" height="1.82" fill="#817e6b"/><rect x="285.23" y="133.12" width="6.04" height="1.82" fill="#82806a"/><rect x="291.21" y="133.12" width="6.04" height="1.82" fill="#83806a"/><rect x="201.40" y="134.88" width="6.04" height="1.82" fill="#707170"/><rect x="207.39" y="134.88" width="6.04" height="1.82" fill="#6c6e70"/><rect x="213.38" y="134.88" width="6.04" height="1.82" fill="#6c6d70"/><rect x="219.36" y="134.88" width="6.04" height="1.82" fill="#6b6d70"/><rect x="225.35" y="134.88" width="6.04" height="1.82" fill="#565e72"/><rect x="231.34" y="134.88" width="6.04" height="1.82" fill="#5e6371"/><rect x="237.32" y="134.88" width="6.04" height="1.82" fill="#606571"/><rect x="243.31" y="134.88" width="6.04" height="1.82" fill="#5d6371"/><rect x="249.30" y="134.88" width="6.04" height="1.82" fill="#71726f"/><rect x="255.29" y="134.88" width="6.04" height="1.82" fill="#696c70"/><rect x="261.27" y="134.88" width="6.04" height="1.82" fill="#6c6e70"/><rect x="267.26" y="134.88" width="6.04" height="1.82" fill="#6c6e70"/><rect x="273.25" y="134.88" width="6.04" height="1.82" fill="#6f7070"/><rect x="279.24" y="134.88" width="6.04" height="1.82" fill="#7f7d6b"/><rect x="285.23" y="134.88" width="6.04" height="1.82" fill="#78776d"/><rect x="291.21" y="134.88" width="6.04" height="1.82" fill="#78776d"/><rect x="201.40" y="136.65" width="6.04" height="1.82" fill="#606570"/><rect x="207.39" y="136.65" width="6.04" height="1.82" fill="#5d6371"/><rect x="213.38" y="136.65" width="6.04" height="1.82" fill="#646770"/><rect x="219.36" y="136.65" width="6.04" height="1.82" fill="#666970"/><rect x="225.35" y="136.65" width="6.04" height="1.82" fill="#636770"/><rect x="231.34" y="136.65" width="6.04" height="1.82" fill="#666a70"/><rect x="237.32" y="136.65" width="6.04" height="1.82" fill="#6b6d70"/><rect x="243.31" y="136.65" width="6.04" height="1.82" fill="#686b70"/><rect x="249.30" y="136.65" width="6.04" height="1.82" fill="#72726f"/><rect x="255.29" y="136.65" width="6.04" height="1.82" fill="#75756e"/><rect x="261.27" y="136.65" width="6.04" height="1.82" fill="#75756e"/><rect x="267.26" y="136.65" width="6.04" height="1.82" fill="#6c6e70"/><rect x="273.25" y="136.65" width="6.04" height="1.82" fill="#7a786d"/><rect x="279.24" y="136.65" width="6.04" height="1.82" fill="#7f7d6b"/><rect x="285.23" y="136.65" width="6.04" height="1.82" fill="#84806a"/><rect x="291.21" y="136.65" width="6.04" height="1.82" fill="#878368"/><rect x="201.40" y="138.42" width="6.04" height="1.82" fill="#5f6471"/><rect x="207.39" y="138.42" width="6.04" height="1.82" fill="#686b70"/><rect x="213.38" y="138.42" width="6.04" height="1.82" fill="#696b70"/><rect x="219.36" y="138.42" width="6.04" height="1.82" fill="#686b70"/><rect x="225.35" y="138.42" width="6.04" height="1.82" fill="#656870"/><rect x="231.34" y="138.42" width="6.04" height="1.82" fill="#686b70"/><rect x="237.32" y="138.42" width="6.04" height="1.82" fill="#6a6c70"/><rect x="243.31" y="138.42" width="6.04" height="1.82" fill="#6b6d70"/><rect x="249.30" y="138.42" width="6.04" height="1.82" fill="#71726f"/><rect x="255.29" y="138.42" width="6.04" height="1.82" fill="#6c6e70"/><rect x="261.27" y="138.42" width="6.04" height="1.82" fill="#686b70"/><rect x="267.26" y="138.42" width="6.04" height="1.82" fill="#6d6f70"/><rect x="273.25" y="138.42" width="6.04" height="1.82" fill="#83806a"/><rect x="279.24" y="138.42" width="6.04" height="1.82" fill="#938d63"/><rect x="285.23" y="138.42" width="6.04" height="1.82" fill="#908a65"/><rect x="291.21" y="138.42" width="6.04" height="1.82" fill="#978f62"/><rect x="201.40" y="140.19" width="6.04" height="1.82" fill="#707170"/><rect x="207.39" y="140.19" width="6.04" height="1.82" fill="#76766e"/><rect x="213.38" y="140.19" width="6.04" height="1.82" fill="#74746f"/><rect x="219.36" y="140.19" width="6.04" height="1.82" fill="#707170"/><rect x="225.35" y="140.19" width="6.04" height="1.82" fill="#656970"/><rect x="231.34" y="140.19" width="6.04" height="1.82" fill="#676a70"/><rect x="237.32" y="140.19" width="6.04" height="1.82" fill="#6e7070"/><rect x="243.31" y="140.19" width="6.04" height="1.82" fill="#6d6f70"/><rect x="249.30" y="140.19" width="6.04" height="1.82" fill="#898567"/><rect x="255.29" y="140.19" width="6.04" height="1.82" fill="#77766e"/><rect x="261.27" y="140.19" width="6.04" height="1.82" fill="#807e6b"/><rect x="267.26" y="140.19" width="6.04" height="1.82" fill="#7e7c6c"/><rect x="273.25" y="140.19" width="6.04" height="1.82" fill="#73736f"/><rect x="279.24" y="140.19" width="6.04" height="1.82" fill="#807e6b"/><rect x="285.23" y="140.19" width="6.04" height="1.82" fill="#83806a"/><rect x="291.21" y="140.19" width="6.04" height="1.82" fill="#807e6b"/><rect x="201.40" y="141.95" width="6.04" height="1.82" fill="#6f7070"/><rect x="207.39" y="141.95" width="6.04" height="1.82" fill="#77766e"/><rect x="213.38" y="141.95" width="6.04" height="1.82" fill="#6f7070"/><rect x="219.36" y="141.95" width="6.04" height="1.82" fill="#72726f"/><rect x="225.35" y="141.95" width="6.04" height="1.82" fill="#656970"/><rect x="231.34" y="141.95" width="6.04" height="1.82" fill="#636770"/><rect x="237.32" y="141.95" width="6.04" height="1.82" fill="#666970"/><rect x="243.31" y="141.95" width="6.04" height="1.82" fill="#666a70"/><rect x="249.30" y="141.95" width="6.04" height="1.82" fill="#6f7070"/><rect x="255.29" y="141.95" width="6.04" height="1.82" fill="#72726f"/><rect x="261.27" y="141.95" width="6.04" height="1.82" fill="#6b6d70"/><rect x="267.26" y="141.95" width="6.04" height="1.82" fill="#6f7070"/><rect x="273.25" y="141.95" width="6.04" height="1.82" fill="#73736f"/><rect x="279.24" y="141.95" width="6.04" height="1.82" fill="#7c7a6c"/><rect x="285.23" y="141.95" width="6.04" height="1.82" fill="#868269"/><rect x="291.21" y="141.95" width="6.04" height="1.82" fill="#7a796d"/><rect x="201.40" y="143.72" width="6.04" height="1.82" fill="#7f7d6b"/><rect x="207.39" y="143.72" width="6.04" height="1.82" fill="#7b796c"/><rect x="213.38" y="143.72" width="6.04" height="1.82" fill="#78776d"/><rect x="219.36" y="143.72" width="6.04" height="1.82" fill="#83806a"/><rect x="225.35" y="143.72" width="6.04" height="1.82" fill="#707170"/><rect x="231.34" y="143.72" width="6.04" height="1.82" fill="#707170"/><rect x="237.32" y="143.72" width="6.04" height="1.82" fill="#74746e"/><rect x="243.31" y="143.72" width="6.04" height="1.82" fill="#76766e"/><rect x="249.30" y="143.72" width="6.04" height="1.82" fill="#6d6f70"/><rect x="255.29" y="143.72" width="6.04" height="1.82" fill="#6b6d70"/><rect x="261.27" y="143.72" width="6.04" height="1.82" fill="#707170"/><rect x="267.26" y="143.72" width="6.04" height="1.82" fill="#6a6c70"/><rect x="273.25" y="143.72" width="6.04" height="1.82" fill="#8c8766"/><rect x="279.24" y="143.72" width="6.04" height="1.82" fill="#9d945f"/><rect x="285.23" y="143.72" width="6.04" height="1.82" fill="#8e8965"/><rect x="291.21" y="143.72" width="6.04" height="1.82" fill="#989061"/><rect x="201.40" y="145.49" width="6.04" height="1.82" fill="#6d6e70"/><rect x="207.39" y="145.49" width="6.04" height="1.82" fill="#686b70"/><rect x="213.38" y="145.49" width="6.04" height="1.82" fill="#6d6e70"/><rect x="219.36" y="145.49" width="6.04" height="1.82" fill="#6f7070"/><rect x="225.35" y="145.49" width="6.04" height="1.82" fill="#666970"/><rect x="231.34" y="145.49" width="6.04" height="1.82" fill="#6b6d70"/><rect x="237.32" y="145.49" width="6.04" height="1.82" fill="#6a6c70"/><rect x="243.31" y="145.49" width="6.04" height="1.82" fill="#6f7070"/><rect x="249.30" y="145.49" width="6.04" height="1.82" fill="#656970"/><rect x="255.29" y="145.49" width="6.04" height="1.82" fill="#656870"/><rect x="261.27" y="145.49" width="6.04" height="1.82" fill="#666970"/><rect x="267.26" y="145.49" width="6.04" height="1.82" fill="#676a70"/><rect x="273.25" y="145.49" width="6.04" height="1.82" fill="#6d6e70"/><rect x="279.24" y="145.49" width="6.04" height="1.82" fill="#77766e"/><rect x="285.23" y="145.49" width="6.04" height="1.82" fill="#73736f"/><rect x="291.21" y="145.49" width="6.04" height="1.82" fill="#76766e"/><rect x="201.40" y="147.26" width="6.04" height="1.82" fill="#6d6e70"/><rect x="207.39" y="147.26" width="6.04" height="1.82" fill="#6b6d70"/><rect x="213.38" y="147.26" width="6.04" height="1.82" fill="#6d6f70"/><rect x="219.36" y="147.26" width="6.04" height="1.82" fill="#6a6c70"/><rect x="225.35" y="147.26" width="6.04" height="1.82" fill="#5c6271"/><rect x="231.34" y="147.26" width="6.04" height="1.82" fill="#606570"/><rect x="237.32" y="147.26" width="6.04" height="1.82" fill="#676a70"/><rect x="243.31" y="147.26" width="6.04" height="1.82" fill="#656870"/><rect x="249.30" y="147.26" width="6.04" height="1.82" fill="#646870"/><rect x="255.29" y="147.26" width="6.04" height="1.82" fill="#606571"/><rect x="261.27" y="147.26" width="6.04" height="1.82" fill="#606571"/><rect x="267.26" y="147.26" width="6.04" height="1.82" fill="#666970"/><rect x="273.25" y="147.26" width="6.04" height="1.82" fill="#817f6a"/><rect x="279.24" y="147.26" width="6.04" height="1.82" fill="#878369"/><rect x="285.23" y="147.26" width="6.04" height="1.82" fill="#807d6b"/><rect x="291.21" y="147.26" width="6.04" height="1.82" fill="#83806a"/><rect x="201.40" y="149.03" width="6.04" height="1.82" fill="#6d6e70"/><rect x="207.39" y="149.03" width="6.04" height="1.82" fill="#6c6e70"/><rect x="213.38" y="149.03" width="6.04" height="1.82" fill="#6b6d70"/><rect x="219.36" y="149.03" width="6.04" height="1.82" fill="#74746f"/><rect x="225.35" y="149.03" width="6.04" height="1.82" fill="#6e6f70"/><rect x="231.34" y="149.03" width="6.04" height="1.82" fill="#77766e"/><rect x="237.32" y="149.03" width="6.04" height="1.82" fill="#71716f"/><rect x="243.31" y="149.03" width="6.04" height="1.82" fill="#74746e"/><rect x="249.30" y="149.03" width="6.04" height="1.82" fill="#6f7070"/><rect x="255.29" y="149.03" width="6.04" height="1.82" fill="#6f7070"/><rect x="261.27" y="149.03" width="6.04" height="1.82" fill="#6a6c70"/><rect x="267.26" y="149.03" width="6.04" height="1.82" fill="#6e6f70"/><rect x="273.25" y="149.03" width="6.04" height="1.82" fill="#7d7b6c"/><rect x="279.24" y="149.03" width="6.04" height="1.82" fill="#82806a"/><rect x="285.23" y="149.03" width="6.04" height="1.82" fill="#878368"/><rect x="291.21" y="149.03" width="6.04" height="1.82" fill="#807e6b"/><rect x="201.40" y="150.79" width="6.04" height="1.82" fill="#696c70"/><rect x="207.39" y="150.79" width="6.04" height="1.82" fill="#6e6f70"/><rect x="213.38" y="150.79" width="6.04" height="1.82" fill="#6f7070"/><rect x="219.36" y="150.79" width="6.04" height="1.82" fill="#6c6d70"/><rect x="225.35" y="150.79" width="6.04" height="1.82" fill="#626670"/><rect x="231.34" y="150.79" width="6.04" height="1.82" fill="#5d6371"/><rect x="237.32" y="150.79" width="6.04" height="1.82" fill="#606570"/><rect x="243.31" y="150.79" width="6.04" height="1.82" fill="#666970"/><rect x="249.30" y="150.79" width="6.04" height="1.82" fill="#676a70"/><rect x="255.29" y="150.79" width="6.04" height="1.82" fill="#666970"/><rect x="261.27" y="150.79" width="6.04" height="1.82" fill="#626670"/><rect x="267.26" y="150.79" width="6.04" height="1.82" fill="#666970"/><rect x="273.25" y="150.79" width="6.04" height="1.82" fill="#6c6e70"/><rect x="279.24" y="150.79" width="6.04" height="1.82" fill="#76756e"/><rect x="285.23" y="150.79" width="6.04" height="1.82" fill="#72726f"/><rect x="291.21" y="150.79" width="6.04" height="1.82" fill="#77766e"/><rect x="201.40" y="152.56" width="6.04" height="1.82" fill="#666970"/><rect x="207.39" y="152.56" width="6.04" height="1.82" fill="#686b70"/><rect x="213.38" y="152.56" width="6.04" height="1.82" fill="#686b70"/><rect x="219.36" y="152.56" width="6.04" height="1.82" fill="#656970"/><rect x="225.35" y="152.56" width="6.04" height="1.82" fill="#646870"/><rect x="231.34" y="152.56" width="6.04" height="1.82" fill="#656870"/><rect x="237.32" y="152.56" width="6.04" height="1.82" fill="#686b70"/><rect x="243.31" y="152.56" width="6.04" height="1.82" fill="#666970"/><rect x="249.30" y="152.56" width="6.04" height="1.82" fill="#6c6d70"/><rect x="255.29" y="152.56" width="6.04" height="1.82" fill="#686b70"/><rect x="261.27" y="152.56" width="6.04" height="1.82" fill="#6a6c70"/><rect x="267.26" y="152.56" width="6.04" height="1.82" fill="#6a6c70"/><rect x="273.25" y="152.56" width="6.04" height="1.82" fill="#6e6f70"/><rect x="279.24" y="152.56" width="6.04" height="1.82" fill="#6d6e70"/><rect x="285.23" y="152.56" width="6.04" height="1.82" fill="#72726f"/><rect x="291.21" y="152.56" width="6.04" height="1.82" fill="#707170"/><rect x="201.40" y="154.33" width="6.04" height="1.82" fill="#6b6d70"/><rect x="207.39" y="154.33" width="6.04" height="1.82" fill="#696c70"/><rect x="213.38" y="154.33" width="6.04" height="1.82" fill="#6b6d70"/><rect x="219.36" y="154.33" width="6.04" height="1.82" fill="#656870"/><rect x="225.35" y="154.33" width="6.04" height="1.82" fill="#686b70"/><rect x="231.34" y="154.33" width="6.04" height="1.82" fill="#73736f"/><rect x="237.32" y="154.33" width="6.04" height="1.82" fill="#75756e"/><rect x="243.31" y="154.33" width="6.04" height="1.82" fill="#72736f"/><rect x="249.30" y="154.33" width="6.04" height="1.82" fill="#686b70"/><rect x="255.29" y="154.33" width="6.04" height="1.82" fill="#676a70"/><rect x="261.27" y="154.33" width="6.04" height="1.82" fill="#636770"/><rect x="267.26" y="154.33" width="6.04" height="1.82" fill="#686b70"/><rect x="273.25" y="154.33" width="6.04" height="1.82" fill="#73736f"/><rect x="279.24" y="154.33" width="6.04" height="1.82" fill="#84806a"/><rect x="285.23" y="154.33" width="6.04" height="1.82" fill="#7e7c6b"/><rect x="291.21" y="154.33" width="6.04" height="1.82" fill="#75756e"/><rect x="201.40" y="156.09" width="6.04" height="1.82" fill="#71716f"/><rect x="207.39" y="156.09" width="6.04" height="1.82" fill="#73736f"/><rect x="213.38" y="156.09" width="6.04" height="1.82" fill="#73736f"/><rect x="219.36" y="156.09" width="6.04" height="1.82" fill="#73736f"/><rect x="225.35" y="156.09" width="6.04" height="1.82" fill="#707170"/><rect x="231.34" y="156.09" width="6.04" height="1.82" fill="#6d6f70"/><rect x="237.32" y="156.09" width="6.04" height="1.82" fill="#79786d"/><rect x="243.31" y="156.09" width="6.04" height="1.82" fill="#76766e"/><rect x="249.30" y="156.09" width="6.04" height="1.82" fill="#686b70"/><rect x="255.29" y="156.09" width="6.04" height="1.82" fill="#646870"/><rect x="261.27" y="156.09" width="6.04" height="1.82" fill="#626670"/><rect x="267.26" y="156.09" width="6.04" height="1.82" fill="#616670"/><rect x="273.25" y="156.09" width="6.04" height="1.82" fill="#73736f"/><rect x="279.24" y="156.09" width="6.04" height="1.82" fill="#7a796d"/><rect x="285.23" y="156.09" width="6.04" height="1.82" fill="#7c7a6c"/><rect x="291.21" y="156.09" width="6.04" height="1.82" fill="#79786d"/><rect x="201.40" y="157.86" width="6.04" height="1.82" fill="#75756e"/><rect x="207.39" y="157.86" width="6.04" height="1.82" fill="#75756e"/><rect x="213.38" y="157.86" width="6.04" height="1.82" fill="#72726f"/><rect x="219.36" y="157.86" width="6.04" height="1.82" fill="#6e6f70"/><rect x="225.35" y="157.86" width="6.04" height="1.82" fill="#72726f"/><rect x="231.34" y="157.86" width="6.04" height="1.82" fill="#72726f"/><rect x="237.32" y="157.86" width="6.04" height="1.82" fill="#83806a"/><rect x="243.31" y="157.86" width="6.04" height="1.82" fill="#75756e"/><rect x="249.30" y="157.86" width="6.04" height="1.82" fill="#616670"/><rect x="255.29" y="157.86" width="6.04" height="1.82" fill="#646770"/><rect x="261.27" y="157.86" width="6.04" height="1.82" fill="#606570"/><rect x="267.26" y="157.86" width="6.04" height="1.82" fill="#606570"/><rect x="273.25" y="157.86" width="6.04" height="1.82" fill="#78776d"/><rect x="279.24" y="157.86" width="6.04" height="1.82" fill="#817f6b"/><rect x="285.23" y="157.86" width="6.04" height="1.82" fill="#8a8567"/><rect x="291.21" y="157.86" width="6.04" height="1.82" fill="#878368"/><rect x="201.40" y="159.63" width="6.04" height="1.82" fill="#6a6c70"/><rect x="207.39" y="159.63" width="6.04" height="1.82" fill="#72726f"/><rect x="213.38" y="159.63" width="6.04" height="1.82" fill="#71726f"/><rect x="219.36" y="159.63" width="6.04" height="1.82" fill="#72736f"/><rect x="225.35" y="159.63" width="6.04" height="1.82" fill="#6f7070"/><rect x="231.34" y="159.63" width="6.04" height="1.82" fill="#7b7a6c"/><rect x="237.32" y="159.63" width="6.04" height="1.82" fill="#78776d"/><rect x="243.31" y="159.63" width="6.04" height="1.82" fill="#75756e"/><rect x="249.30" y="159.63" width="6.04" height="1.82" fill="#666970"/><rect x="255.29" y="159.63" width="6.04" height="1.82" fill="#6a6c70"/><rect x="261.27" y="159.63" width="6.04" height="1.82" fill="#6c6e70"/><rect x="267.26" y="159.63" width="6.04" height="1.82" fill="#656970"/><rect x="273.25" y="159.63" width="6.04" height="1.82" fill="#7c7a6c"/><rect x="279.24" y="159.63" width="6.04" height="1.82" fill="#888468"/><rect x="285.23" y="159.63" width="6.04" height="1.82" fill="#958e63"/><rect x="291.21" y="159.63" width="6.04" height="1.82" fill="#8d8866"/><rect x="201.40" y="161.40" width="6.04" height="1.82" fill="#626670"/><rect x="207.39" y="161.40" width="6.04" height="1.82" fill="#636770"/><rect x="213.38" y="161.40" width="6.04" height="1.82" fill="#616670"/><rect x="219.36" y="161.40" width="6.04" height="1.82" fill="#5d6371"/><rect x="225.35" y="161.40" width="6.04" height="1.82" fill="#6d6e70"/><rect x="231.34" y="161.40" width="6.04" height="1.82" fill="#696c70"/><rect x="237.32" y="161.40" width="6.04" height="1.82" fill="#74746f"/><rect x="243.31" y="161.40" width="6.04" height="1.82" fill="#696c70"/><rect x="249.30" y="161.40" width="6.04" height="1.82" fill="#6b6d70"/><rect x="255.29" y="161.40" width="6.04" height="1.82" fill="#6d6f70"/><rect x="261.27" y="161.40" width="6.04" height="1.82" fill="#6b6d70"/><rect x="267.26" y="161.40" width="6.04" height="1.82" fill="#6e7070"/><rect x="273.25" y="161.40" width="6.04" height="1.82" fill="#7f7d6b"/><rect x="279.24" y="161.40" width="6.04" height="1.82" fill="#848169"/><rect x="285.23" y="161.40" width="6.04" height="1.82" fill="#8c8767"/><rect x="291.21" y="161.40" width="6.04" height="1.82" fill="#8d8766"/><rect x="201.40" y="163.16" width="6.04" height="1.82" fill="#6f7070"/><rect x="207.39" y="163.16" width="6.04" height="1.82" fill="#73746f"/><rect x="213.38" y="163.16" width="6.04" height="1.82" fill="#77766e"/><rect x="219.36" y="163.16" width="6.04" height="1.82" fill="#6d6e70"/><rect x="225.35" y="163.16" width="6.04" height="1.82" fill="#6b6d70"/><rect x="231.34" y="163.16" width="6.04" height="1.82" fill="#6a6c70"/><rect x="237.32" y="163.16" width="6.04" height="1.82" fill="#73736f"/><rect x="243.31" y="163.16" width="6.04" height="1.82" fill="#73736f"/><rect x="249.30" y="163.16" width="6.04" height="1.82" fill="#666970"/><rect x="255.29" y="163.16" width="6.04" height="1.82" fill="#666a70"/><rect x="261.27" y="163.16" width="6.04" height="1.82" fill="#6a6c70"/><rect x="267.26" y="163.16" width="6.04" height="1.82" fill="#6c6e70"/><rect x="273.25" y="163.16" width="6.04" height="1.82" fill="#676a70"/><rect x="279.24" y="163.16" width="6.04" height="1.82" fill="#6b6d70"/><rect x="285.23" y="163.16" width="6.04" height="1.82" fill="#676a70"/><rect x="291.21" y="163.16" width="6.04" height="1.82" fill="#686b70"/><rect x="201.40" y="164.93" width="6.04" height="1.82" fill="#616570"/><rect x="207.39" y="164.93" width="6.04" height="1.82" fill="#6a6c70"/><rect x="213.38" y="164.93" width="6.04" height="1.82" fill="#666a70"/><rect x="219.36" y="164.93" width="6.04" height="1.82" fill="#646870"/><rect x="225.35" y="164.93" width="6.04" height="1.82" fill="#6d6e70"/><rect x="231.34" y="164.93" width="6.04" height="1.82" fill="#6b6d70"/><rect x="237.32" y="164.93" width="6.04" height="1.82" fill="#72726f"/><rect x="243.31" y="164.93" width="6.04" height="1.82" fill="#78776d"/><rect x="249.30" y="164.93" width="6.04" height="1.82" fill="#78776d"/><rect x="255.29" y="164.93" width="6.04" height="1.82" fill="#73736f"/><rect x="261.27" y="164.93" width="6.04" height="1.82" fill="#7a796d"/><rect x="267.26" y="164.93" width="6.04" height="1.82" fill="#79786d"/><rect x="273.25" y="164.93" width="6.04" height="1.82" fill="#73736f"/><rect x="279.24" y="164.93" width="6.04" height="1.82" fill="#7d7b6c"/><rect x="285.23" y="164.93" width="6.04" height="1.82" fill="#7f7d6b"/><rect x="291.21" y="164.93" width="6.04" height="1.82" fill="#75756e"/><rect x="201.40" y="166.70" width="6.04" height="1.82" fill="#646870"/><rect x="207.39" y="166.70" width="6.04" height="1.82" fill="#636770"/><rect x="213.38" y="166.70" width="6.04" height="1.82" fill="#656870"/><rect x="219.36" y="166.70" width="6.04" height="1.82" fill="#646870"/><rect x="225.35" y="166.70" width="6.04" height="1.82" fill="#79786d"/><rect x="231.34" y="166.70" width="6.04" height="1.82" fill="#79786d"/><rect x="237.32" y="166.70" width="6.04" height="1.82" fill="#7e7c6c"/><rect x="243.31" y="166.70" width="6.04" height="1.82" fill="#7c7a6c"/><rect x="249.30" y="166.70" width="6.04" height="1.82" fill="#74746e"/><rect x="255.29" y="166.70" width="6.04" height="1.82" fill="#72726f"/><rect x="261.27" y="166.70" width="6.04" height="1.82" fill="#807e6b"/><rect x="267.26" y="166.70" width="6.04" height="1.82" fill="#75756e"/><rect x="273.25" y="166.70" width="6.04" height="1.82" fill="#78776d"/><rect x="279.24" y="166.70" width="6.04" height="1.82" fill="#7b7a6c"/><rect x="285.23" y="166.70" width="6.04" height="1.82" fill="#7a796d"/><rect x="291.21" y="166.70" width="6.04" height="1.82" fill="#7c7b6c"/><rect x="201.40" y="168.47" width="6.04" height="1.82" fill="#596072"/><rect x="207.39" y="168.47" width="6.04" height="1.82" fill="#626670"/><rect x="213.38" y="168.47" width="6.04" height="1.82" fill="#616570"/><rect x="219.36" y="168.47" width="6.04" height="1.82" fill="#606570"/><rect x="225.35" y="168.47" width="6.04" height="1.82" fill="#807e6b"/><rect x="231.34" y="168.47" width="6.04" height="1.82" fill="#817f6a"/><rect x="237.32" y="168.47" width="6.04" height="1.82" fill="#878369"/><rect x="243.31" y="168.47" width="6.04" height="1.82" fill="#7a796d"/><rect x="249.30" y="168.47" width="6.04" height="1.82" fill="#6c6e70"/><rect x="255.29" y="168.47" width="6.04" height="1.82" fill="#666970"/><rect x="261.27" y="168.47" width="6.04" height="1.82" fill="#6e6f70"/><rect x="267.26" y="168.47" width="6.04" height="1.82" fill="#6d6e70"/><rect x="273.25" y="168.47" width="6.04" height="1.82" fill="#78776d"/><rect x="279.24" y="168.47" width="6.04" height="1.82" fill="#7f7d6b"/><rect x="285.23" y="168.47" width="6.04" height="1.82" fill="#7f7d6b"/><rect x="291.21" y="168.47" width="6.04" height="1.82" fill="#8a8667"/><rect x="201.40" y="170.23" width="6.04" height="1.82" fill="#656870"/><rect x="207.39" y="170.23" width="6.04" height="1.82" fill="#656970"/><rect x="213.38" y="170.23" width="6.04" height="1.82" fill="#646870"/><rect x="219.36" y="170.23" width="6.04" height="1.82" fill="#666970"/><rect x="225.35" y="170.23" width="6.04" height="1.82" fill="#8e8866"/><rect x="231.34" y="170.23" width="6.04" height="1.82" fill="#7f7d6b"/><rect x="237.32" y="170.23" width="6.04" height="1.82" fill="#888468"/><rect x="243.31" y="170.23" width="6.04" height="1.82" fill="#868369"/><rect x="249.30" y="170.23" width="6.04" height="1.82" fill="#6d6f70"/><rect x="255.29" y="170.23" width="6.04" height="1.82" fill="#6e6f70"/><rect x="261.27" y="170.23" width="6.04" height="1.82" fill="#72726f"/><rect x="267.26" y="170.23" width="6.04" height="1.82" fill="#686b70"/><rect x="273.25" y="170.23" width="6.04" height="1.82" fill="#696b70"/><rect x="279.24" y="170.23" width="6.04" height="1.82" fill="#6e6f70"/><rect x="285.23" y="170.23" width="6.04" height="1.82" fill="#6f7070"/><rect x="291.21" y="170.23" width="6.04" height="1.82" fill="#6a6c70"/><rect x="201.40" y="172.00" width="6.04" height="1.82" fill="#4a5773"/><rect x="207.39" y="172.00" width="6.04" height="1.82" fill="#555d72"/><rect x="213.38" y="172.00" width="6.04" height="1.82" fill="#515b73"/><rect x="219.36" y="172.00" width="6.04" height="1.82" fill="#4e5973"/><rect x="225.35" y="172.00" width="6.04" height="1.82" fill="#6d6e70"/><rect x="231.34" y="172.00" width="6.04" height="1.82" fill="#75756e"/><rect x="237.32" y="172.00" width="6.04" height="1.82" fill="#7a796d"/><rect x="243.31" y="172.00" width="6.04" height="1.82" fill="#75746e"/><rect x="249.30" y="172.00" width="6.04" height="1.82" fill="#72726f"/><rect x="255.29" y="172.00" width="6.04" height="1.82" fill="#6c6e70"/><rect x="261.27" y="172.00" width="6.04" height="1.82" fill="#6e6f70"/><rect x="267.26" y="172.00" width="6.04" height="1.82" fill="#6d6f70"/><rect x="273.25" y="172.00" width="6.04" height="1.82" fill="#6d6e70"/><rect x="279.24" y="172.00" width="6.04" height="1.82" fill="#73736f"/><rect x="285.23" y="172.00" width="6.04" height="1.82" fill="#71726f"/><rect x="291.21" y="172.00" width="6.04" height="1.82" fill="#71726f"/><rect x="201.40" y="173.77" width="6.04" height="1.82" fill="#707170"/><rect x="207.39" y="173.77" width="6.04" height="1.82" fill="#6a6c70"/><rect x="213.38" y="173.77" width="6.04" height="1.82" fill="#6e6f70"/><rect x="219.36" y="173.77" width="6.04" height="1.82" fill="#6e6f70"/><rect x="225.35" y="173.77" width="6.04" height="1.82" fill="#7b796c"/><rect x="231.34" y="173.77" width="6.04" height="1.82" fill="#7b7a6c"/><rect x="237.32" y="173.77" width="6.04" height="1.82" fill="#7e7c6b"/><rect x="243.31" y="173.77" width="6.04" height="1.82" fill="#73736f"/><rect x="249.30" y="173.77" width="6.04" height="1.82" fill="#717170"/><rect x="255.29" y="173.77" width="6.04" height="1.82" fill="#73736f"/><rect x="261.27" y="173.77" width="6.04" height="1.82" fill="#74746e"/><rect x="267.26" y="173.77" width="6.04" height="1.82" fill="#6e6f70"/><rect x="273.25" y="173.77" width="6.04" height="1.82" fill="#7b7a6c"/><rect x="279.24" y="173.77" width="6.04" height="1.82" fill="#868269"/><rect x="285.23" y="173.77" width="6.04" height="1.82" fill="#868369"/><rect x="291.21" y="173.77" width="6.04" height="1.82" fill="#888468"/><rect x="201.40" y="175.54" width="6.04" height="1.82" fill="#666970"/><rect x="207.39" y="175.54" width="6.04" height="1.82" fill="#666970"/><rect x="213.38" y="175.54" width="6.04" height="1.82" fill="#656970"/><rect x="219.36" y="175.54" width="6.04" height="1.82" fill="#646870"/><rect x="225.35" y="175.54" width="6.04" height="1.82" fill="#73736f"/><rect x="231.34" y="175.54" width="6.04" height="1.82" fill="#7c7a6c"/><rect x="237.32" y="175.54" width="6.04" height="1.82" fill="#83806a"/><rect x="243.31" y="175.54" width="6.04" height="1.82" fill="#78776d"/><rect x="249.30" y="175.54" width="6.04" height="1.82" fill="#878368"/><rect x="255.29" y="175.54" width="6.04" height="1.82" fill="#858169"/><rect x="261.27" y="175.54" width="6.04" height="1.82" fill="#84816a"/><rect x="267.26" y="175.54" width="6.04" height="1.82" fill="#84816a"/><rect x="273.25" y="175.54" width="6.04" height="1.82" fill="#72726f"/><rect x="279.24" y="175.54" width="6.04" height="1.82" fill="#77766e"/><rect x="285.23" y="175.54" width="6.04" height="1.82" fill="#75746e"/><rect x="291.21" y="175.54" width="6.04" height="1.82" fill="#74746f"/><rect x="201.40" y="177.31" width="6.04" height="1.82" fill="#707170"/><rect x="207.39" y="177.31" width="6.04" height="1.82" fill="#6b6d70"/><rect x="213.38" y="177.31" width="6.04" height="1.82" fill="#6b6d70"/><rect x="219.36" y="177.31" width="6.04" height="1.82" fill="#6b6d70"/><rect x="225.35" y="177.31" width="6.04" height="1.82" fill="#75746e"/><rect x="231.34" y="177.31" width="6.04" height="1.82" fill="#75756e"/><rect x="237.32" y="177.31" width="6.04" height="1.82" fill="#7b7a6c"/><rect x="243.31" y="177.31" width="6.04" height="1.82" fill="#75756e"/><rect x="249.30" y="177.31" width="6.04" height="1.82" fill="#696b70"/><rect x="255.29" y="177.31" width="6.04" height="1.82" fill="#676a70"/><rect x="261.27" y="177.31" width="6.04" height="1.82" fill="#686b70"/><rect x="267.26" y="177.31" width="6.04" height="1.82" fill="#646870"/><rect x="273.25" y="177.31" width="6.04" height="1.82" fill="#827f6a"/><rect x="279.24" y="177.31" width="6.04" height="1.82" fill="#8d8866"/><rect x="285.23" y="177.31" width="6.04" height="1.82" fill="#8e8965"/><rect x="291.21" y="177.31" width="6.04" height="1.82" fill="#868369"/><rect x="201.40" y="179.07" width="6.04" height="1.82" fill="#6e6f70"/><rect x="207.39" y="179.07" width="6.04" height="1.82" fill="#75746e"/><rect x="213.38" y="179.07" width="6.04" height="1.82" fill="#75756e"/><rect x="219.36" y="179.07" width="6.04" height="1.82" fill="#6e6f70"/><rect x="225.35" y="179.07" width="6.04" height="1.82" fill="#71716f"/><rect x="231.34" y="179.07" width="6.04" height="1.82" fill="#78776d"/><rect x="237.32" y="179.07" width="6.04" height="1.82" fill="#7d7b6c"/><rect x="243.31" y="179.07" width="6.04" height="1.82" fill="#75756e"/><rect x="249.30" y="179.07" width="6.04" height="1.82" fill="#6f7070"/><rect x="255.29" y="179.07" width="6.04" height="1.82" fill="#6e7070"/><rect x="261.27" y="179.07" width="6.04" height="1.82" fill="#72726f"/><rect x="267.26" y="179.07" width="6.04" height="1.82" fill="#6b6d70"/><rect x="273.25" y="179.07" width="6.04" height="1.82" fill="#6c6d70"/><rect x="279.24" y="179.07" width="6.04" height="1.82" fill="#7a796d"/><rect x="285.23" y="179.07" width="6.04" height="1.82" fill="#71726f"/><rect x="291.21" y="179.07" width="6.04" height="1.82" fill="#77766e"/><rect x="201.40" y="180.84" width="6.04" height="1.82" fill="#707170"/><rect x="207.39" y="180.84" width="6.04" height="1.82" fill="#6e6f70"/><rect x="213.38" y="180.84" width="6.04" height="1.82" fill="#73736f"/><rect x="219.36" y="180.84" width="6.04" height="1.82" fill="#6a6c70"/><rect x="225.35" y="180.84" width="6.04" height="1.82" fill="#686b70"/><rect x="231.34" y="180.84" width="6.04" height="1.82" fill="#6a6d70"/><rect x="237.32" y="180.84" width="6.04" height="1.82" fill="#71726f"/><rect x="243.31" y="180.84" width="6.04" height="1.82" fill="#6a6d70"/><rect x="249.30" y="180.84" width="6.04" height="1.82" fill="#7b7a6c"/><rect x="255.29" y="180.84" width="6.04" height="1.82" fill="#73736f"/><rect x="261.27" y="180.84" width="6.04" height="1.82" fill="#7a796d"/><rect x="267.26" y="180.84" width="6.04" height="1.82" fill="#7d7b6c"/><rect x="273.25" y="180.84" width="6.04" height="1.82" fill="#72726f"/><rect x="279.24" y="180.84" width="6.04" height="1.82" fill="#807e6b"/><rect x="285.23" y="180.84" width="6.04" height="1.82" fill="#78786d"/><rect x="291.21" y="180.84" width="6.04" height="1.82" fill="#817e6b"/><rect x="201.40" y="182.61" width="6.04" height="1.82" fill="#77766e"/><rect x="207.39" y="182.61" width="6.04" height="1.82" fill="#79786d"/><rect x="213.38" y="182.61" width="6.04" height="1.82" fill="#6c6e70"/><rect x="219.36" y="182.61" width="6.04" height="1.82" fill="#6f7070"/><rect x="225.35" y="182.61" width="6.04" height="1.82" fill="#6e6f70"/><rect x="231.34" y="182.61" width="6.04" height="1.82" fill="#686b70"/><rect x="237.32" y="182.61" width="6.04" height="1.82" fill="#73746f"/><rect x="243.31" y="182.61" width="6.04" height="1.82" fill="#74746f"/><rect x="249.30" y="182.61" width="6.04" height="1.82" fill="#82806a"/><rect x="255.29" y="182.61" width="6.04" height="1.82" fill="#817e6b"/><rect x="261.27" y="182.61" width="6.04" height="1.82" fill="#7b7a6c"/><rect x="267.26" y="182.61" width="6.04" height="1.82" fill="#76766e"/><rect x="273.25" y="182.61" width="6.04" height="1.82" fill="#817f6b"/><rect x="279.24" y="182.61" width="6.04" height="1.82" fill="#8c8766"/><rect x="285.23" y="182.61" width="6.04" height="1.82" fill="#8b8667"/><rect x="291.21" y="182.61" width="6.04" height="1.82" fill="#8e8965"/><rect x="201.40" y="184.38" width="6.04" height="1.82" fill="#73736f"/><rect x="207.39" y="184.38" width="6.04" height="1.82" fill="#74746e"/><rect x="213.38" y="184.38" width="6.04" height="1.82" fill="#707170"/><rect x="219.36" y="184.38" width="6.04" height="1.82" fill="#6e6f70"/><rect x="225.35" y="184.38" width="6.04" height="1.82" fill="#6d6e70"/><rect x="231.34" y="184.38" width="6.04" height="1.82" fill="#6c6d70"/><rect x="237.32" y="184.38" width="6.04" height="1.82" fill="#6b6d70"/><rect x="243.31" y="184.38" width="6.04" height="1.82" fill="#6b6d70"/><rect x="249.30" y="184.38" width="6.04" height="1.82" fill="#7c7b6c"/><rect x="255.29" y="184.38" width="6.04" height="1.82" fill="#78776d"/><rect x="261.27" y="184.38" width="6.04" height="1.82" fill="#7f7d6b"/><rect x="267.26" y="184.38" width="6.04" height="1.82" fill="#75746e"/><rect x="273.25" y="184.38" width="6.04" height="1.82" fill="#7d7b6c"/><rect x="279.24" y="184.38" width="6.04" height="1.82" fill="#868269"/><rect x="285.23" y="184.38" width="6.04" height="1.82" fill="#7f7c6b"/><rect x="291.21" y="184.38" width="6.04" height="1.82" fill="#84816a"/><rect x="201.40" y="186.14" width="6.04" height="1.82" fill="#6f7070"/><rect x="207.39" y="186.14" width="6.04" height="1.82" fill="#7a796d"/><rect x="213.38" y="186.14" width="6.04" height="1.82" fill="#78776d"/><rect x="219.36" y="186.14" width="6.04" height="1.82" fill="#73736f"/><rect x="225.35" y="186.14" width="6.04" height="1.82" fill="#646870"/><rect x="231.34" y="186.14" width="6.04" height="1.82" fill="#6a6c70"/><rect x="237.32" y="186.14" width="6.04" height="1.82" fill="#656870"/><rect x="243.31" y="186.14" width="6.04" height="1.82" fill="#676a70"/><rect x="249.30" y="186.14" width="6.04" height="1.82" fill="#83806a"/><rect x="255.29" y="186.14" width="6.04" height="1.82" fill="#7f7d6b"/><rect x="261.27" y="186.14" width="6.04" height="1.82" fill="#78786d"/><rect x="267.26" y="186.14" width="6.04" height="1.82" fill="#74746f"/><rect x="273.25" y="186.14" width="6.04" height="1.82" fill="#6a6c70"/><rect x="279.24" y="186.14" width="6.04" height="1.82" fill="#6d6e70"/><rect x="285.23" y="186.14" width="6.04" height="1.82" fill="#696c70"/><rect x="291.21" y="186.14" width="6.04" height="1.82" fill="#6c6e70"/><rect x="201.40" y="187.91" width="6.04" height="1.82" fill="#676a70"/><rect x="207.39" y="187.91" width="6.04" height="1.82" fill="#626670"/><rect x="213.38" y="187.91" width="6.04" height="1.82" fill="#686b70"/><rect x="219.36" y="187.91" width="6.04" height="1.82" fill="#666970"/><rect x="225.35" y="187.91" width="6.04" height="1.82" fill="#78776d"/><rect x="231.34" y="187.91" width="6.04" height="1.82" fill="#6f7070"/><rect x="237.32" y="187.91" width="6.04" height="1.82" fill="#76766e"/><rect x="243.31" y="187.91" width="6.04" height="1.82" fill="#78776d"/><rect x="249.30" y="187.91" width="6.04" height="1.82" fill="#83806a"/><rect x="255.29" y="187.91" width="6.04" height="1.82" fill="#807d6b"/><rect x="261.27" y="187.91" width="6.04" height="1.82" fill="#827f6a"/><rect x="267.26" y="187.91" width="6.04" height="1.82" fill="#827f6a"/><rect x="273.25" y="187.91" width="6.04" height="1.82" fill="#636770"/><rect x="279.24" y="187.91" width="6.04" height="1.82" fill="#6e6f70"/><rect x="285.23" y="187.91" width="6.04" height="1.82" fill="#6d6e70"/><rect x="291.21" y="187.91" width="6.04" height="1.82" fill="#6c6d70"/><rect x="201.40" y="189.68" width="6.04" height="1.82" fill="#6c6e70"/><rect x="207.39" y="189.68" width="6.04" height="1.82" fill="#76766e"/><rect x="213.38" y="189.68" width="6.04" height="1.82" fill="#72726f"/><rect x="219.36" y="189.68" width="6.04" height="1.82" fill="#707170"/><rect x="225.35" y="189.68" width="6.04" height="1.82" fill="#6e6f70"/><rect x="231.34" y="189.68" width="6.04" height="1.82" fill="#71726f"/><rect x="237.32" y="189.68" width="6.04" height="1.82" fill="#75756e"/><rect x="243.31" y="189.68" width="6.04" height="1.82" fill="#6d6e70"/><rect x="249.30" y="189.68" width="6.04" height="1.82" fill="#7e7c6b"/><rect x="255.29" y="189.68" width="6.04" height="1.82" fill="#7c7a6c"/><rect x="261.27" y="189.68" width="6.04" height="1.82" fill="#7c7b6c"/><rect x="267.26" y="189.68" width="6.04" height="1.82" fill="#79786d"/><rect x="273.25" y="189.68" width="6.04" height="1.82" fill="#73736f"/><rect x="279.24" y="189.68" width="6.04" height="1.82" fill="#817e6b"/><rect x="285.23" y="189.68" width="6.04" height="1.82" fill="#7b796c"/><rect x="291.21" y="189.68" width="6.04" height="1.82" fill="#7a796d"/><rect x="201.40" y="191.44" width="6.04" height="1.82" fill="#7b796d"/><rect x="207.39" y="191.44" width="6.04" height="1.82" fill="#83806a"/><rect x="213.38" y="191.44" width="6.04" height="1.82" fill="#79786d"/><rect x="219.36" y="191.44" width="6.04" height="1.82" fill="#7a796d"/><rect x="225.35" y="191.44" width="6.04" height="1.82" fill="#6e6f70"/><rect x="231.34" y="191.44" width="6.04" height="1.82" fill="#707170"/><rect x="237.32" y="191.44" width="6.04" height="1.82" fill="#73736f"/><rect x="243.31" y="191.44" width="6.04" height="1.82" fill="#76756e"/><rect x="249.30" y="191.44" width="6.04" height="1.82" fill="#8d8866"/><rect x="255.29" y="191.44" width="6.04" height="1.82" fill="#8e8965"/><rect x="261.27" y="191.44" width="6.04" height="1.82" fill="#908a65"/><rect x="267.26" y="191.44" width="6.04" height="1.82" fill="#8d8866"/><rect x="273.25" y="191.44" width="6.04" height="1.82" fill="#6e6f70"/><rect x="279.24" y="191.44" width="6.04" height="1.82" fill="#6f7070"/><rect x="285.23" y="191.44" width="6.04" height="1.82" fill="#6e6f70"/><rect x="291.21" y="191.44" width="6.04" height="1.82" fill="#707170"/><rect x="201.40" y="193.21" width="6.04" height="1.82" fill="#79786d"/><rect x="207.39" y="193.21" width="6.04" height="1.82" fill="#7e7c6b"/><rect x="213.38" y="193.21" width="6.04" height="1.82" fill="#807d6b"/><rect x="219.36" y="193.21" width="6.04" height="1.82" fill="#7d7b6c"/><rect x="225.35" y="193.21" width="6.04" height="1.82" fill="#656870"/><rect x="231.34" y="193.21" width="6.04" height="1.82" fill="#616570"/><rect x="237.32" y="193.21" width="6.04" height="1.82" fill="#696b70"/><rect x="243.31" y="193.21" width="6.04" height="1.82" fill="#676a70"/><rect x="249.30" y="193.21" width="6.04" height="1.82" fill="#848169"/><rect x="255.29" y="193.21" width="6.04" height="1.82" fill="#83806a"/><rect x="261.27" y="193.21" width="6.04" height="1.82" fill="#7f7d6b"/><rect x="267.26" y="193.21" width="6.04" height="1.82" fill="#7c7a6c"/><rect x="273.25" y="193.21" width="6.04" height="1.82" fill="#676a70"/><rect x="279.24" y="193.21" width="6.04" height="1.82" fill="#6c6e70"/><rect x="285.23" y="193.21" width="6.04" height="1.82" fill="#79786d"/><rect x="291.21" y="193.21" width="6.04" height="1.82" fill="#6c6e70"/><rect x="201.40" y="194.98" width="6.04" height="1.82" fill="#7a796d"/><rect x="207.39" y="194.98" width="6.04" height="1.82" fill="#7b796c"/><rect x="213.38" y="194.98" width="6.04" height="1.82" fill="#707070"/><rect x="219.36" y="194.98" width="6.04" height="1.82" fill="#78786d"/><rect x="225.35" y="194.98" width="6.04" height="1.82" fill="#6c6e70"/><rect x="231.34" y="194.98" width="6.04" height="1.82" fill="#6e6f70"/><rect x="237.32" y="194.98" width="6.04" height="1.82" fill="#77776e"/><rect x="243.31" y="194.98" width="6.04" height="1.82" fill="#6d6f70"/><rect x="249.30" y="194.98" width="6.04" height="1.82" fill="#8e8866"/><rect x="255.29" y="194.98" width="6.04" height="1.82" fill="#8c8766"/><rect x="261.27" y="194.98" width="6.04" height="1.82" fill="#848169"/><rect x="267.26" y="194.98" width="6.04" height="1.82" fill="#8e8866"/><rect x="273.25" y="194.98" width="6.04" height="1.82" fill="#656970"/><rect x="279.24" y="194.98" width="6.04" height="1.82" fill="#6c6e70"/><rect x="285.23" y="194.98" width="6.04" height="1.82" fill="#707170"/><rect x="291.21" y="194.98" width="6.04" height="1.82" fill="#6b6d70"/><rect x="201.40" y="196.75" width="6.04" height="1.82" fill="#646770"/><rect x="207.39" y="196.75" width="6.04" height="1.82" fill="#6b6d70"/><rect x="213.38" y="196.75" width="6.04" height="1.82" fill="#676a70"/><rect x="219.36" y="196.75" width="6.04" height="1.82" fill="#686a70"/><rect x="225.35" y="196.75" width="6.04" height="1.82" fill="#666a70"/><rect x="231.34" y="196.75" width="6.04" height="1.82" fill="#696b70"/><rect x="237.32" y="196.75" width="6.04" height="1.82" fill="#686b70"/><rect x="243.31" y="196.75" width="6.04" height="1.82" fill="#636770"/><rect x="249.30" y="196.75" width="6.04" height="1.82" fill="#77776d"/><rect x="255.29" y="196.75" width="6.04" height="1.82" fill="#707170"/><rect x="261.27" y="196.75" width="6.04" height="1.82" fill="#73736f"/><rect x="267.26" y="196.75" width="6.04" height="1.82" fill="#76756e"/><rect x="273.25" y="196.75" width="6.04" height="1.82" fill="#666970"/><rect x="279.24" y="196.75" width="6.04" height="1.82" fill="#6f7070"/><rect x="285.23" y="196.75" width="6.04" height="1.82" fill="#6f7070"/><rect x="291.21" y="196.75" width="6.04" height="1.82" fill="#6d6f70"/><rect x="201.40" y="198.51" width="6.04" height="1.82" fill="#6e6f70"/><rect x="207.39" y="198.51" width="6.04" height="1.82" fill="#75756e"/><rect x="213.38" y="198.51" width="6.04" height="1.82" fill="#72726f"/><rect x="219.36" y="198.51" width="6.04" height="1.82" fill="#6a6c70"/><rect x="225.35" y="198.51" width="6.04" height="1.82" fill="#606570"/><rect x="231.34" y="198.51" width="6.04" height="1.82" fill="#656970"/><rect x="237.32" y="198.51" width="6.04" height="1.82" fill="#696c70"/><rect x="243.31" y="198.51" width="6.04" height="1.82" fill="#696b70"/><rect x="249.30" y="198.51" width="6.04" height="1.82" fill="#7d7b6c"/><rect x="255.29" y="198.51" width="6.04" height="1.82" fill="#7b7a6c"/><rect x="261.27" y="198.51" width="6.04" height="1.82" fill="#75756e"/><rect x="267.26" y="198.51" width="6.04" height="1.82" fill="#75756e"/><rect x="273.25" y="198.51" width="6.04" height="1.82" fill="#71716f"/><rect x="279.24" y="198.51" width="6.04" height="1.82" fill="#76756e"/><rect x="285.23" y="198.51" width="6.04" height="1.82" fill="#7b796c"/><rect x="291.21" y="198.51" width="6.04" height="1.82" fill="#6f7070"/><rect x="201.40" y="200.28" width="6.04" height="1.82" fill="#72726f"/><rect x="207.39" y="200.28" width="6.04" height="1.82" fill="#707170"/><rect x="213.38" y="200.28" width="6.04" height="1.82" fill="#707170"/><rect x="219.36" y="200.28" width="6.04" height="1.82" fill="#78776d"/><rect x="225.35" y="200.28" width="6.04" height="1.82" fill="#5b6171"/><rect x="231.34" y="200.28" width="6.04" height="1.82" fill="#545d72"/><rect x="237.32" y="200.28" width="6.04" height="1.82" fill="#606570"/><rect x="243.31" y="200.28" width="6.04" height="1.82" fill="#5d6371"/><rect x="249.30" y="200.28" width="6.04" height="1.82" fill="#8a8567"/><rect x="255.29" y="200.28" width="6.04" height="1.82" fill="#858169"/><rect x="261.27" y="200.28" width="6.04" height="1.82" fill="#83806a"/><rect x="267.26" y="200.28" width="6.04" height="1.82" fill="#82806a"/><rect x="273.25" y="200.28" width="6.04" height="1.82" fill="#6e6f70"/><rect x="279.24" y="200.28" width="6.04" height="1.82" fill="#6d6f70"/><rect x="285.23" y="200.28" width="6.04" height="1.82" fill="#7a796d"/><rect x="291.21" y="200.28" width="6.04" height="1.82" fill="#6f7070"/><rect x="201.40" y="202.05" width="6.04" height="1.82" fill="#6d6f70"/><rect x="207.39" y="202.05" width="6.04" height="1.82" fill="#73736f"/><rect x="213.38" y="202.05" width="6.04" height="1.82" fill="#79786d"/><rect x="219.36" y="202.05" width="6.04" height="1.82" fill="#73736f"/><rect x="225.35" y="202.05" width="6.04" height="1.82" fill="#626770"/><rect x="231.34" y="202.05" width="6.04" height="1.82" fill="#696b70"/><rect x="237.32" y="202.05" width="6.04" height="1.82" fill="#6d6f70"/><rect x="243.31" y="202.05" width="6.04" height="1.82" fill="#696c70"/><rect x="249.30" y="202.05" width="6.04" height="1.82" fill="#6e6f70"/><rect x="255.29" y="202.05" width="6.04" height="1.82" fill="#707170"/><rect x="261.27" y="202.05" width="6.04" height="1.82" fill="#74746e"/><rect x="267.26" y="202.05" width="6.04" height="1.82" fill="#75756e"/><rect x="273.25" y="202.05" width="6.04" height="1.82" fill="#6f7070"/><rect x="279.24" y="202.05" width="6.04" height="1.82" fill="#707070"/><rect x="285.23" y="202.05" width="6.04" height="1.82" fill="#6e6f70"/><rect x="291.21" y="202.05" width="6.04" height="1.82" fill="#6f7070"/><rect x="201.40" y="203.82" width="6.04" height="1.82" fill="#6c6e70"/><rect x="207.39" y="203.82" width="6.04" height="1.82" fill="#73736f"/><rect x="213.38" y="203.82" width="6.04" height="1.82" fill="#71716f"/><rect x="219.36" y="203.82" width="6.04" height="1.82" fill="#6b6d70"/><rect x="225.35" y="203.82" width="6.04" height="1.82" fill="#6d6f70"/><rect x="231.34" y="203.82" width="6.04" height="1.82" fill="#707170"/><rect x="237.32" y="203.82" width="6.04" height="1.82" fill="#77766e"/><rect x="243.31" y="203.82" width="6.04" height="1.82" fill="#6e6f70"/><rect x="249.30" y="203.82" width="6.04" height="1.82" fill="#6c6e70"/><rect x="255.29" y="203.82" width="6.04" height="1.82" fill="#686b70"/><rect x="261.27" y="203.82" width="6.04" height="1.82" fill="#77776d"/><rect x="267.26" y="203.82" width="6.04" height="1.82" fill="#6c6e70"/><rect x="273.25" y="203.82" width="6.04" height="1.82" fill="#6e6f70"/><rect x="279.24" y="203.82" width="6.04" height="1.82" fill="#71726f"/><rect x="285.23" y="203.82" width="6.04" height="1.82" fill="#7b796d"/><rect x="291.21" y="203.82" width="6.04" height="1.82" fill="#74746e"/><rect x="201.40" y="205.59" width="6.04" height="1.82" fill="#7b796d"/><rect x="207.39" y="205.59" width="6.04" height="1.82" fill="#7c7b6c"/><rect x="213.38" y="205.59" width="6.04" height="1.82" fill="#76766e"/><rect x="219.36" y="205.59" width="6.04" height="1.82" fill="#7c7a6c"/><rect x="225.35" y="205.59" width="6.04" height="1.82" fill="#686a70"/><rect x="231.34" y="205.59" width="6.04" height="1.82" fill="#6d6f70"/><rect x="237.32" y="205.59" width="6.04" height="1.82" fill="#646870"/><rect x="243.31" y="205.59" width="6.04" height="1.82" fill="#696c70"/><rect x="249.30" y="205.59" width="6.04" height="1.82" fill="#898568"/><rect x="255.29" y="205.59" width="6.04" height="1.82" fill="#888468"/><rect x="261.27" y="205.59" width="6.04" height="1.82" fill="#8d8866"/><rect x="267.26" y="205.59" width="6.04" height="1.82" fill="#8c8766"/><rect x="273.25" y="205.59" width="6.04" height="1.82" fill="#666970"/><rect x="279.24" y="205.59" width="6.04" height="1.82" fill="#6b6d70"/><rect x="285.23" y="205.59" width="6.04" height="1.82" fill="#6d6e70"/><rect x="291.21" y="205.59" width="6.04" height="1.82" fill="#6c6e70"/><rect x="201.40" y="207.35" width="6.04" height="1.82" fill="#6c6e70"/><rect x="207.39" y="207.35" width="6.04" height="1.82" fill="#6e6f70"/><rect x="213.38" y="207.35" width="6.04" height="1.82" fill="#6a6c70"/><rect x="219.36" y="207.35" width="6.04" height="1.82" fill="#6b6d70"/><rect x="225.35" y="207.35" width="6.04" height="1.82" fill="#586072"/><rect x="231.34" y="207.35" width="6.04" height="1.82" fill="#5e6471"/><rect x="237.32" y="207.35" width="6.04" height="1.82" fill="#626770"/><rect x="243.31" y="207.35" width="6.04" height="1.82" fill="#646770"/><rect x="249.30" y="207.35" width="6.04" height="1.82" fill="#7a796d"/><rect x="255.29" y="207.35" width="6.04" height="1.82" fill="#6e6f70"/><rect x="261.27" y="207.35" width="6.04" height="1.82" fill="#707170"/><rect x="267.26" y="207.35" width="6.04" height="1.82" fill="#6e6f70"/><rect x="273.25" y="207.35" width="6.04" height="1.82" fill="#676a70"/><rect x="279.24" y="207.35" width="6.04" height="1.82" fill="#73736f"/><rect x="285.23" y="207.35" width="6.04" height="1.82" fill="#6d6e70"/><rect x="291.21" y="207.35" width="6.04" height="1.82" fill="#656970"/><rect x="201.40" y="209.12" width="6.04" height="1.82" fill="#6b6d70"/><rect x="207.39" y="209.12" width="6.04" height="1.82" fill="#666970"/><rect x="213.38" y="209.12" width="6.04" height="1.82" fill="#646870"/><rect x="219.36" y="209.12" width="6.04" height="1.82" fill="#6b6d70"/><rect x="225.35" y="209.12" width="6.04" height="1.82" fill="#646870"/><rect x="231.34" y="209.12" width="6.04" height="1.82" fill="#626770"/><rect x="237.32" y="209.12" width="6.04" height="1.82" fill="#626670"/><rect x="243.31" y="209.12" width="6.04" height="1.82" fill="#626670"/><rect x="249.30" y="209.12" width="6.04" height="1.82" fill="#84816a"/><rect x="255.29" y="209.12" width="6.04" height="1.82" fill="#8d8766"/><rect x="261.27" y="209.12" width="6.04" height="1.82" fill="#8d8866"/><rect x="267.26" y="209.12" width="6.04" height="1.82" fill="#918b64"/><rect x="273.25" y="209.12" width="6.04" height="1.82" fill="#636770"/><rect x="279.24" y="209.12" width="6.04" height="1.82" fill="#686b70"/><rect x="285.23" y="209.12" width="6.04" height="1.82" fill="#676a70"/><rect x="291.21" y="209.12" width="6.04" height="1.82" fill="#6e6f70"/><rect x="201.40" y="210.89" width="6.04" height="1.82" fill="#6d6f70"/><rect x="207.39" y="210.89" width="6.04" height="1.82" fill="#717170"/><rect x="213.38" y="210.89" width="6.04" height="1.82" fill="#6c6e70"/><rect x="219.36" y="210.89" width="6.04" height="1.82" fill="#6b6d70"/><rect x="225.35" y="210.89" width="6.04" height="1.82" fill="#5f6471"/><rect x="231.34" y="210.89" width="6.04" height="1.82" fill="#5e6471"/><rect x="237.32" y="210.89" width="6.04" height="1.82" fill="#646870"/><rect x="243.31" y="210.89" width="6.04" height="1.82" fill="#626670"/><rect x="249.30" y="210.89" width="6.04" height="1.82" fill="#948d63"/><rect x="255.29" y="210.89" width="6.04" height="1.82" fill="#968f62"/><rect x="261.27" y="210.89" width="6.04" height="1.82" fill="#978f62"/><rect x="267.26" y="210.89" width="6.04" height="1.82" fill="#8d8866"/><rect x="273.25" y="210.89" width="6.04" height="1.82" fill="#616670"/><rect x="279.24" y="210.89" width="6.04" height="1.82" fill="#676a70"/><rect x="285.23" y="210.89" width="6.04" height="1.82" fill="#676a70"/><rect x="291.21" y="210.89" width="6.04" height="1.82" fill="#656870"/><rect x="201.40" y="212.66" width="6.04" height="1.82" fill="#6e7070"/><rect x="207.39" y="212.66" width="6.04" height="1.82" fill="#707170"/><rect x="213.38" y="212.66" width="6.04" height="1.82" fill="#6e6f70"/><rect x="219.36" y="212.66" width="6.04" height="1.82" fill="#6b6d70"/><rect x="225.35" y="212.66" width="6.04" height="1.82" fill="#5a6171"/><rect x="231.34" y="212.66" width="6.04" height="1.82" fill="#636770"/><rect x="237.32" y="212.66" width="6.04" height="1.82" fill="#656970"/><rect x="243.31" y="212.66" width="6.04" height="1.82" fill="#616670"/><rect x="249.30" y="212.66" width="6.04" height="1.82" fill="#979062"/><rect x="255.29" y="212.66" width="6.04" height="1.82" fill="#a1975d"/><rect x="261.27" y="212.66" width="6.04" height="1.82" fill="#908a64"/><rect x="267.26" y="212.66" width="6.04" height="1.82" fill="#a3995b"/><rect x="273.25" y="212.66" width="6.04" height="1.82" fill="#6d6e70"/><rect x="279.24" y="212.66" width="6.04" height="1.82" fill="#7d7b6c"/><rect x="285.23" y="212.66" width="6.04" height="1.82" fill="#6e7070"/><rect x="291.21" y="212.66" width="6.04" height="1.82" fill="#71726f"/><rect x="201.40" y="214.42" width="6.04" height="1.82" fill="#6c6e70"/><rect x="207.39" y="214.42" width="6.04" height="1.82" fill="#6f7070"/><rect x="213.38" y="214.42" width="6.04" height="1.82" fill="#707170"/><rect x="219.36" y="214.42" width="6.04" height="1.82" fill="#6d6e70"/><rect x="225.35" y="214.42" width="6.04" height="1.82" fill="#5f6571"/><rect x="231.34" y="214.42" width="6.04" height="1.82" fill="#636770"/><rect x="237.32" y="214.42" width="6.04" height="1.82" fill="#656870"/><rect x="243.31" y="214.42" width="6.04" height="1.82" fill="#616570"/><rect x="249.30" y="214.42" width="6.04" height="1.82" fill="#8e8965"/><rect x="255.29" y="214.42" width="6.04" height="1.82" fill="#8a8667"/><rect x="261.27" y="214.42" width="6.04" height="1.82" fill="#948d63"/><rect x="267.26" y="214.42" width="6.04" height="1.82" fill="#868269"/><rect x="273.25" y="214.42" width="6.04" height="1.82" fill="#6b6d70"/><rect x="279.24" y="214.42" width="6.04" height="1.82" fill="#6d6e70"/><rect x="285.23" y="214.42" width="6.04" height="1.82" fill="#6d6e70"/><rect x="291.21" y="214.42" width="6.04" height="1.82" fill="#6d6f70"/><rect x="201.40" y="216.19" width="6.04" height="1.82" fill="#7a796d"/><rect x="207.39" y="216.19" width="6.04" height="1.82" fill="#7c7a6c"/><rect x="213.38" y="216.19" width="6.04" height="1.82" fill="#72736f"/><rect x="219.36" y="216.19" width="6.04" height="1.82" fill="#79786d"/><rect x="225.35" y="216.19" width="6.04" height="1.82" fill="#6b6d70"/><rect x="231.34" y="216.19" width="6.04" height="1.82" fill="#6e6f70"/><rect x="237.32" y="216.19" width="6.04" height="1.82" fill="#707070"/><rect x="243.31" y="216.19" width="6.04" height="1.82" fill="#71726f"/><rect x="249.30" y="216.19" width="6.04" height="1.82" fill="#989062"/><rect x="255.29" y="216.19" width="6.04" height="1.82" fill="#948d63"/><rect x="261.27" y="216.19" width="6.04" height="1.82" fill="#8e8965"/><rect x="267.26" y="216.19" width="6.04" height="1.82" fill="#938d63"/><rect x="273.25" y="216.19" width="6.04" height="1.82" fill="#6f7070"/><rect x="279.24" y="216.19" width="6.04" height="1.82" fill="#6f7070"/><rect x="285.23" y="216.19" width="6.04" height="1.82" fill="#78776d"/><rect x="291.21" y="216.19" width="6.04" height="1.82" fill="#6d6e70"/><rect x="201.40" y="217.96" width="6.04" height="1.82" fill="#717170"/><rect x="207.39" y="217.96" width="6.04" height="1.82" fill="#72726f"/><rect x="213.38" y="217.96" width="6.04" height="1.82" fill="#78776d"/><rect x="219.36" y="217.96" width="6.04" height="1.82" fill="#73736f"/><rect x="225.35" y="217.96" width="6.04" height="1.82" fill="#696b70"/><rect x="231.34" y="217.96" width="6.04" height="1.82" fill="#6e6f70"/><rect x="237.32" y="217.96" width="6.04" height="1.82" fill="#6d6f70"/><rect x="243.31" y="217.96" width="6.04" height="1.82" fill="#6d6e70"/><rect x="249.30" y="217.96" width="6.04" height="1.82" fill="#999161"/><rect x="255.29" y="217.96" width="6.04" height="1.82" fill="#a1975c"/><rect x="261.27" y="217.96" width="6.04" height="1.82" fill="#a1975c"/><rect x="267.26" y="217.96" width="6.04" height="1.82" fill="#968f62"/><rect x="273.25" y="217.96" width="6.04" height="1.82" fill="#5f6471"/><rect x="279.24" y="217.96" width="6.04" height="1.82" fill="#6a6c70"/><rect x="285.23" y="217.96" width="6.04" height="1.82" fill="#696b70"/><rect x="291.21" y="217.96" width="6.04" height="1.82" fill="#6a6c70"/><rect x="201.40" y="219.72" width="6.04" height="1.82" fill="#6d6e70"/><rect x="207.39" y="219.72" width="6.04" height="1.82" fill="#6f7070"/><rect x="213.38" y="219.72" width="6.04" height="1.82" fill="#707170"/><rect x="219.36" y="219.72" width="6.04" height="1.82" fill="#6b6d70"/><rect x="225.35" y="219.72" width="6.04" height="1.82" fill="#686a70"/><rect x="231.34" y="219.72" width="6.04" height="1.82" fill="#686a70"/><rect x="237.32" y="219.72" width="6.04" height="1.82" fill="#696c70"/><rect x="243.31" y="219.72" width="6.04" height="1.82" fill="#6d6e70"/><rect x="249.30" y="219.72" width="6.04" height="1.82" fill="#9e955e"/><rect x="255.29" y="219.72" width="6.04" height="1.82" fill="#9a9161"/><rect x="261.27" y="219.72" width="6.04" height="1.82" fill="#a0965d"/><rect x="267.26" y="219.72" width="6.04" height="1.82" fill="#928b64"/><rect x="273.25" y="219.72" width="6.04" height="1.82" fill="#676a70"/><rect x="279.24" y="219.72" width="6.04" height="1.82" fill="#6d6f70"/><rect x="285.23" y="219.72" width="6.04" height="1.82" fill="#6e6f70"/><rect x="291.21" y="219.72" width="6.04" height="1.82" fill="#696c70"/><rect x="201.40" y="221.49" width="6.04" height="1.82" fill="#7b7a6c"/><rect x="207.39" y="221.49" width="6.04" height="1.82" fill="#75756e"/><rect x="213.38" y="221.49" width="6.04" height="1.82" fill="#707170"/><rect x="219.36" y="221.49" width="6.04" height="1.82" fill="#707170"/><rect x="225.35" y="221.49" width="6.04" height="1.82" fill="#686b70"/><rect x="231.34" y="221.49" width="6.04" height="1.82" fill="#6c6e70"/><rect x="237.32" y="221.49" width="6.04" height="1.82" fill="#6a6c70"/><rect x="243.31" y="221.49" width="6.04" height="1.82" fill="#6d6f70"/><rect x="249.30" y="221.49" width="6.04" height="1.82" fill="#a59a5a"/><rect x="255.29" y="221.49" width="6.04" height="1.82" fill="#a4995b"/><rect x="261.27" y="221.49" width="6.04" height="1.82" fill="#9c935f"/><rect x="267.26" y="221.49" width="6.04" height="1.82" fill="#a69b59"/><rect x="273.25" y="221.49" width="6.04" height="1.82" fill="#676a70"/><rect x="279.24" y="221.49" width="6.04" height="1.82" fill="#6e6f70"/><rect x="285.23" y="221.49" width="6.04" height="1.82" fill="#696b70"/><rect x="291.21" y="221.49" width="6.04" height="1.82" fill="#6c6e70"/><rect x="201.40" y="223.26" width="6.04" height="1.82" fill="#79786d"/><rect x="207.39" y="223.26" width="6.04" height="1.82" fill="#79786d"/><rect x="213.38" y="223.26" width="6.04" height="1.82" fill="#77766e"/><rect x="219.36" y="223.26" width="6.04" height="1.82" fill="#75756e"/><rect x="225.35" y="223.26" width="6.04" height="1.82" fill="#626670"/><rect x="231.34" y="223.26" width="6.04" height="1.82" fill="#616570"/><rect x="237.32" y="223.26" width="6.04" height="1.82" fill="#686b70"/><rect x="243.31" y="223.26" width="6.04" height="1.82" fill="#6a6c70"/><rect x="249.30" y="223.26" width="6.04" height="1.82" fill="#8f8965"/><rect x="255.29" y="223.26" width="6.04" height="1.82" fill="#83806a"/><rect x="261.27" y="223.26" width="6.04" height="1.82" fill="#827f6a"/><rect x="267.26" y="223.26" width="6.04" height="1.82" fill="#84806a"/><rect x="273.25" y="223.26" width="6.04" height="1.82" fill="#686b70"/><rect x="279.24" y="223.26" width="6.04" height="1.82" fill="#6d6e70"/><rect x="285.23" y="223.26" width="6.04" height="1.82" fill="#696c70"/><rect x="291.21" y="223.26" width="6.04" height="1.82" fill="#6c6e70"/><rect x="201.40" y="225.03" width="6.04" height="1.82" fill="#74746e"/><rect x="207.39" y="225.03" width="6.04" height="1.82" fill="#707070"/><rect x="213.38" y="225.03" width="6.04" height="1.82" fill="#71716f"/><rect x="219.36" y="225.03" width="6.04" height="1.82" fill="#75756e"/><rect x="225.35" y="225.03" width="6.04" height="1.82" fill="#5f6471"/><rect x="231.34" y="225.03" width="6.04" height="1.82" fill="#606570"/><rect x="237.32" y="225.03" width="6.04" height="1.82" fill="#6b6d70"/><rect x="243.31" y="225.03" width="6.04" height="1.82" fill="#666970"/><rect x="249.30" y="225.03" width="6.04" height="1.82" fill="#868369"/><rect x="255.29" y="225.03" width="6.04" height="1.82" fill="#7a796d"/><rect x="261.27" y="225.03" width="6.04" height="1.82" fill="#868369"/><rect x="267.26" y="225.03" width="6.04" height="1.82" fill="#77776e"/><rect x="273.25" y="225.03" width="6.04" height="1.82" fill="#636770"/><rect x="279.24" y="225.03" width="6.04" height="1.82" fill="#6d6e70"/><rect x="285.23" y="225.03" width="6.04" height="1.82" fill="#6d6f70"/><rect x="291.21" y="225.03" width="6.04" height="1.82" fill="#676a70"/><rect x="201.40" y="226.79" width="6.04" height="1.82" fill="#6d6e70"/><rect x="207.39" y="226.79" width="6.04" height="1.82" fill="#73736f"/><rect x="213.38" y="226.79" width="6.04" height="1.82" fill="#71726f"/><rect x="219.36" y="226.79" width="6.04" height="1.82" fill="#6f7070"/><rect x="225.35" y="226.79" width="6.04" height="1.82" fill="#5a6071"/><rect x="231.34" y="226.79" width="6.04" height="1.82" fill="#5e6471"/><rect x="237.32" y="226.79" width="6.04" height="1.82" fill="#5c6271"/><rect x="243.31" y="226.79" width="6.04" height="1.82" fill="#5c6271"/><rect x="249.30" y="226.79" width="6.04" height="1.82" fill="#8f8965"/><rect x="255.29" y="226.79" width="6.04" height="1.82" fill="#938c64"/><rect x="261.27" y="226.79" width="6.04" height="1.82" fill="#8c8766"/><rect x="267.26" y="226.79" width="6.04" height="1.82" fill="#908a65"/><rect x="273.25" y="226.79" width="6.04" height="1.82" fill="#666a70"/><rect x="279.24" y="226.79" width="6.04" height="1.82" fill="#6c6e70"/><rect x="285.23" y="226.79" width="6.04" height="1.82" fill="#707170"/><rect x="291.21" y="226.79" width="6.04" height="1.82" fill="#6b6d70"/><rect x="201.40" y="228.56" width="6.04" height="1.82" fill="#7b7a6c"/><rect x="207.39" y="228.56" width="6.04" height="1.82" fill="#79786d"/><rect x="213.38" y="228.56" width="6.04" height="1.82" fill="#79786d"/><rect x="219.36" y="228.56" width="6.04" height="1.82" fill="#77776d"/><rect x="225.35" y="228.56" width="6.04" height="1.82" fill="#6b6d70"/><rect x="231.34" y="228.56" width="6.04" height="1.82" fill="#71716f"/><rect x="237.32" y="228.56" width="6.04" height="1.82" fill="#6e6f70"/><rect x="243.31" y="228.56" width="6.04" height="1.82" fill="#6a6c70"/><rect x="249.30" y="228.56" width="6.04" height="1.82" fill="#898567"/><rect x="255.29" y="228.56" width="6.04" height="1.82" fill="#8c8766"/><rect x="261.27" y="228.56" width="6.04" height="1.82" fill="#8c8767"/><rect x="267.26" y="228.56" width="6.04" height="1.82" fill="#8e8866"/><rect x="273.25" y="228.56" width="6.04" height="1.82" fill="#6d6e70"/><rect x="279.24" y="228.56" width="6.04" height="1.82" fill="#7a796d"/><rect x="285.23" y="228.56" width="6.04" height="1.82" fill="#73736f"/><rect x="291.21" y="228.56" width="6.04" height="1.82" fill="#73746f"/><rect x="201.40" y="230.33" width="6.04" height="1.82" fill="#75756e"/><rect x="207.39" y="230.33" width="6.04" height="1.82" fill="#7b7a6c"/><rect x="213.38" y="230.33" width="6.04" height="1.82" fill="#75756e"/><rect x="219.36" y="230.33" width="6.04" height="1.82" fill="#6d6e70"/><rect x="225.35" y="230.33" width="6.04" height="1.82" fill="#696c70"/><rect x="231.34" y="230.33" width="6.04" height="1.82" fill="#6d6f70"/><rect x="237.32" y="230.33" width="6.04" height="1.82" fill="#707170"/><rect x="243.31" y="230.33" width="6.04" height="1.82" fill="#6b6d70"/><rect x="249.30" y="230.33" width="6.04" height="1.82" fill="#989061"/><rect x="255.29" y="230.33" width="6.04" height="1.82" fill="#9f955e"/><rect x="261.27" y="230.33" width="6.04" height="1.82" fill="#938d63"/><rect x="267.26" y="230.33" width="6.04" height="1.82" fill="#a1975c"/><rect x="273.25" y="230.33" width="6.04" height="1.82" fill="#5c6271"/><rect x="279.24" y="230.33" width="6.04" height="1.82" fill="#636770"/><rect x="285.23" y="230.33" width="6.04" height="1.82" fill="#5d6371"/><rect x="291.21" y="230.33" width="6.04" height="1.82" fill="#606571"/><rect x="201.40" y="232.10" width="6.04" height="1.82" fill="#6a6c70"/><rect x="207.39" y="232.10" width="6.04" height="1.82" fill="#6d6f70"/><rect x="213.38" y="232.10" width="6.04" height="1.82" fill="#6c6e70"/><rect x="219.36" y="232.10" width="6.04" height="1.82" fill="#696b70"/><rect x="225.35" y="232.10" width="6.04" height="1.82" fill="#6f7070"/><rect x="231.34" y="232.10" width="6.04" height="1.82" fill="#72726f"/><rect x="237.32" y="232.10" width="6.04" height="1.82" fill="#76756e"/><rect x="243.31" y="232.10" width="6.04" height="1.82" fill="#6c6e70"/><rect x="249.30" y="232.10" width="6.04" height="1.82" fill="#8f8965"/><rect x="255.29" y="232.10" width="6.04" height="1.82" fill="#888468"/><rect x="261.27" y="232.10" width="6.04" height="1.82" fill="#898468"/><rect x="267.26" y="232.10" width="6.04" height="1.82" fill="#84816a"/><rect x="273.25" y="232.10" width="6.04" height="1.82" fill="#626770"/><rect x="279.24" y="232.10" width="6.04" height="1.82" fill="#686b70"/><rect x="285.23" y="232.10" width="6.04" height="1.82" fill="#676a70"/><rect x="291.21" y="232.10" width="6.04" height="1.82" fill="#6a6c70"/><rect x="201.40" y="233.86" width="6.04" height="1.82" fill="#6b6d70"/><rect x="207.39" y="233.86" width="6.04" height="1.82" fill="#6f7070"/><rect x="213.38" y="233.86" width="6.04" height="1.82" fill="#6c6e70"/><rect x="219.36" y="233.86" width="6.04" height="1.82" fill="#707170"/><rect x="225.35" y="233.86" width="6.04" height="1.82" fill="#5a6171"/><rect x="231.34" y="233.86" width="6.04" height="1.82" fill="#5a6171"/><rect x="237.32" y="233.86" width="6.04" height="1.82" fill="#646870"/><rect x="243.31" y="233.86" width="6.04" height="1.82" fill="#606571"/><rect x="249.30" y="233.86" width="6.04" height="1.82" fill="#8a8667"/><rect x="255.29" y="233.86" width="6.04" height="1.82" fill="#8d8866"/><rect x="261.27" y="233.86" width="6.04" height="1.82" fill="#858169"/><rect x="267.26" y="233.86" width="6.04" height="1.82" fill="#868369"/><rect x="273.25" y="233.86" width="6.04" height="1.82" fill="#6a6c70"/><rect x="279.24" y="233.86" width="6.04" height="1.82" fill="#72726f"/><rect x="285.23" y="233.86" width="6.04" height="1.82" fill="#6d6f70"/><rect x="291.21" y="233.86" width="6.04" height="1.82" fill="#73736f"/><rect x="201.40" y="235.63" width="6.04" height="1.82" fill="#72726f"/><rect x="207.39" y="235.63" width="6.04" height="1.82" fill="#77766e"/><rect x="213.38" y="235.63" width="6.04" height="1.82" fill="#72726f"/><rect x="219.36" y="235.63" width="6.04" height="1.82" fill="#707170"/><rect x="225.35" y="235.63" width="6.04" height="1.82" fill="#6e6f70"/><rect x="231.34" y="235.63" width="6.04" height="1.82" fill="#74746f"/><rect x="237.32" y="235.63" width="6.04" height="1.82" fill="#807e6b"/><rect x="243.31" y="235.63" width="6.04" height="1.82" fill="#7d7b6c"/><rect x="249.30" y="235.63" width="6.04" height="1.82" fill="#888468"/><rect x="255.29" y="235.63" width="6.04" height="1.82" fill="#84816a"/><rect x="261.27" y="235.63" width="6.04" height="1.82" fill="#84816a"/><rect x="267.26" y="235.63" width="6.04" height="1.82" fill="#817e6b"/><rect x="273.25" y="235.63" width="6.04" height="1.82" fill="#78776d"/><rect x="279.24" y="235.63" width="6.04" height="1.82" fill="#7e7c6c"/><rect x="285.23" y="235.63" width="6.04" height="1.82" fill="#7a796d"/><rect x="291.21" y="235.63" width="6.04" height="1.82" fill="#77776e"/></g>
<defs><linearGradient id="cbc" x1="0" y1="1" x2="0" y2="0"><stop offset="0.000" stop-color="#0e2664"/><stop offset="0.071" stop-color="#1a316a"/><stop offset="0.143" stop-color="#263d70"/><stop offset="0.214" stop-color="#324876"/><stop offset="0.286" stop-color="#445374"/><stop offset="0.357" stop-color="#565e72"/><stop offset="0.429" stop-color="#636770"/><stop offset="0.500" stop-color="#6f7070"/><stop offset="0.571" stop-color="#83806a"/><stop offset="0.643" stop-color="#999161"/><stop offset="0.714" stop-color="#b6a750"/><stop offset="0.786" stop-color="#d0bc44"/><stop offset="0.857" stop-color="#dec941"/><stop offset="0.929" stop-color="#ecd73f"/><stop offset="1.000" stop-color="#fae43c"/></linearGradient></defs>
<rect x="299.20" y="24.80" width="4.00" height="59.40" fill="url(#cbc)"/>
<text x="304.60" y="31.94" font-size="5.3" fill="#333">6</text>
<text x="304.60" y="40.27" font-size="5.3" fill="#333">4</text>
<text x="304.60" y="48.62" font-size="5.3" fill="#333">2</text>
<text x="304.60" y="56.95" font-size="5.3" fill="#333">0</text>
<text x="304.60" y="65.30" font-size="5.3" fill="#333">-2</text>
<text x="304.60" y="73.64" font-size="5.3" fill="#333">-4</text>
<text x="304.60" y="81.98" font-size="5.3" fill="#333">-6</text>
<text x="316.30" y="30.00" font-size="6.0" font-weight="bold">Group</text>
<rect x="316.30" y="31.80" width="8.50" height="8.50" fill="#1fbfc4"/>
<text x="326.60" y="38.10" font-size="6.0">Thorax</text>
<rect x="316.30" y="40.30" width="8.50" height="8.50" fill="#7391d0"/>
<text x="326.60" y="46.60" font-size="6.0">Head</text>
<rect x="316.30" y="48.80" width="8.50" height="8.50" fill="#2db34b"/>
<text x="326.60" y="55.10" font-size="6.0">Gut</text>
<rect x="316.30" y="57.30" width="8.50" height="8.50" fill="#f0766e"/>
<text x="326.60" y="63.60" font-size="6.0">Abdomen</text>
<path d="M198.3,26.2L201.3,26.2M198.3,26.2L198.3,28.0M199.2,28.0L201.3,28.0M199.4,28.0L199.4,29.7M199.7,29.7L201.3,29.7M199.4,29.7L199.4,31.5M199.1,31.5L201.3,31.5M199.3,31.5L199.3,33.3M199.7,33.3L201.3,33.3M199.4,33.3L199.4,35.0M199.0,35.0L201.3,35.0M199.0,35.0L199.0,36.8M199.4,36.8L201.3,36.8M199.4,36.8L199.4,38.6M198.8,38.6L201.3,38.6M198.6,38.6L198.6,40.3M198.5,40.3L201.3,40.3M198.7,40.3L198.7,42.1M198.8,42.1L201.3,42.1M199.1,42.1L199.1,43.9M199.1,43.9L201.3,43.9M199.5,43.9L199.5,45.6M199.8,45.6L201.3,45.6M199.8,45.6L199.8,47.4M199.3,47.4L201.3,47.4M200.3,49.2L201.3,49.2M200.6,49.2L200.6,50.9M200.6,50.9L201.3,50.9M201.1,50.9L201.1,52.7M200.6,52.7L201.3,52.7M201.0,52.7L201.0,54.5M200.6,54.5L201.3,54.5M200.3,54.5L200.3,56.2M200.1,56.2L201.3,56.2M200.5,56.2L200.5,58.0M200.0,58.0L201.3,58.0M199.1,59.8L201.3,59.8M199.1,61.5L201.3,61.5M199.3,61.5L199.3,63.3M199.3,63.3L201.3,63.3M199.7,63.3L199.7,65.1M200.2,65.1L201.3,65.1M200.6,65.1L200.6,66.8M200.6,66.8L201.3,66.8M200.9,66.8L200.9,68.6M200.6,68.6L201.3,68.6M200.4,68.6L200.4,70.4M200.4,70.4L201.3,70.4M200.4,70.4L200.4,72.1M200.2,72.1L201.3,72.1M200.0,73.9L201.3,73.9M200.2,73.9L200.2,75.7M200.1,75.7L201.3,75.7M199.0,75.7L199.0,77.4M198.8,77.4L201.3,77.4M198.9,77.4L198.9,79.2M199.3,79.2L201.3,79.2M198.8,79.2L198.8,81.0M198.3,81.0L201.3,81.0M198.2,81.0L198.2,82.7M197.9,82.7L201.3,82.7M198.1,82.7L198.1,84.5M198.0,84.5L201.3,84.5M197.7,84.5L197.7,86.3M197.6,86.3L201.3,86.3M197.8,86.3L197.8,88.0M198.7,88.0L201.3,88.0M199.0,88.0L199.0,89.8M198.7,89.8L201.3,89.8M199.7,91.6L201.3,91.6M200.3,91.6L200.3,93.3M200.5,93.3L201.3,93.3M200.2,93.3L200.2,95.1M200.2,95.1L201.3,95.1M200.5,95.1L200.5,96.9M200.4,96.9L201.3,96.9M200.6,98.7L201.3,98.7M200.8,98.7L200.8,100.4M200.4,100.4L201.3,100.4M200.9,100.4L200.9,102.2M200.4,102.2L201.3,102.2M200.4,102.2L200.4,104.0M200.1,104.0L201.3,104.0M200.1,105.7L201.3,105.7M200.0,105.7L200.0,107.5M199.9,107.5L201.3,107.5M200.0,107.5L200.0,109.3M199.9,109.3L201.3,109.3M200.3,109.3L200.3,111.0M200.6,111.0L201.3,111.0M200.8,111.0L200.8,112.8M200.6,112.8L201.3,112.8M201.0,112.8L201.0,114.6M200.6,114.6L201.3,114.6M200.6,116.3L201.3,116.3M200.7,116.3L200.7,118.1M200.6,118.1L201.3,118.1M201.0,118.1L201.0,119.9M200.4,119.9L201.3,119.9M199.7,119.9L199.7,121.6M199.7,121.6L201.3,121.6M200.4,123.4L201.3,123.4M199.8,125.2L201.3,125.2M199.9,125.2L199.9,126.9M200.4,126.9L201.3,126.9M200.1,126.9L200.1,128.7M199.8,128.7L201.3,128.7M200.6,130.5L201.3,130.5M200.5,130.5L200.5,132.2M199.9,132.2L201.3,132.2M200.1,132.2L200.1,134.0M200.5,134.0L201.3,134.0M200.9,134.0L200.9,135.8M200.6,135.8L201.3,135.8M200.4,135.8L200.4,137.5M200.0,137.5L201.3,137.5M200.0,137.5L200.0,139.3M200.6,139.3L201.3,139.3M200.1,139.3L200.1,141.1M200.0,141.1L201.3,141.1M199.1,141.1L199.1,142.8M198.9,142.8L201.3,142.8M199.2,142.8L199.2,144.6M199.3,144.6L201.3,144.6M199.6,144.6L199.6,146.4M199.8,146.4L201.3,146.4M200.2,146.4L200.2,148.1M199.7,148.1L201.3,148.1M198.6,148.1L198.6,149.9M198.0,149.9L201.3,149.9M198.3,149.9L198.3,151.7M197.9,151.7L201.3,151.7M197.9,151.7L197.9,153.4M197.7,153.4L201.3,153.4M197.7,153.4L197.7,155.2M197.6,155.2L201.3,155.2M198.1,155.2L198.1,157.0M197.6,157.0L201.3,157.0M198.1,157.0L198.1,158.7M197.6,158.7L201.3,158.7M197.9,158.7L197.9,160.5M197.6,160.5L201.3,160.5M197.9,160.5L197.9,162.3M198.8,162.3L201.3,162.3M199.2,162.3L199.2,164.0M199.8,164.0L201.3,164.0M200.1,164.0L200.1,165.8M199.6,165.8L201.3,165.8M199.6,165.8L199.6,167.6M199.1,167.6L201.3,167.6M199.6,167.6L199.6,169.4M199.4,169.4L201.3,169.4M199.9,169.4L199.9,171.1M200.1,171.1L201.3,171.1M200.6,172.9L201.3,172.9M200.0,172.9L200.0,174.7M199.8,174.7L201.3,174.7M200.4,174.7L200.4,176.4M199.9,176.4L201.3,176.4M199.9,176.4L199.9,178.2M200.0,178.2L201.3,178.2M200.4,178.2L200.4,180.0M200.6,180.0L201.3,180.0M200.8,180.0L200.8,181.7M200.6,181.7L201.3,181.7M200.6,183.5L201.3,183.5M201.1,183.5L201.1,185.3M200.6,185.3L201.3,185.3M200.4,185.3L200.4,187.0M200.3,187.0L201.3,187.0M200.4,187.0L200.4,188.8M200.6,188.8L201.3,188.8M200.6,188.8L200.6,190.6M200.3,190.6L201.3,190.6M200.9,190.6L200.9,192.3M200.6,192.3L201.3,192.3M200.7,192.3L200.7,194.1M200.6,194.1L201.3,194.1M200.4,194.1L200.4,195.9M200.0,195.9L201.3,195.9M199.5,197.6L201.3,197.6M198.4,197.6L198.4,199.4M198.3,199.4L201.3,199.4M198.5,199.4L198.5,201.2M198.4,201.2L201.3,201.2M198.4,202.9L201.3,202.9M198.6,202.9L198.6,204.7M198.2,204.7L201.3,204.7M198.7,204.7L198.7,206.5M198.5,206.5L201.3,206.5M197.8,206.5L197.8,208.2M197.6,208.2L201.3,208.2M197.6,210.0L201.3,210.0M198.0,210.0L198.0,211.8M197.7,211.8L201.3,211.8M198.0,211.8L198.0,213.5M197.6,213.5L201.3,213.5M198.1,213.5L198.1,215.3M198.1,215.3L201.3,215.3M198.5,215.3L198.5,217.1M199.3,217.1L201.3,217.1M199.6,217.1L199.6,218.8M199.0,218.8L201.3,218.8M198.4,220.6L201.3,220.6M198.1,220.6L198.1,222.4M198.0,222.4L201.3,222.4M198.1,222.4L198.1,224.1M198.0,224.1L201.3,224.1M198.2,224.1L198.2,225.9M198.4,225.9L201.3,225.9M198.3,225.9L198.3,227.7M197.9,227.7L201.3,227.7M198.0,227.7L198.0,229.4M198.5,229.4L201.3,229.4M197.8,231.2L201.3,231.2M198.2,231.2L198.2,233.0M198.4,233.0L201.3,233.0M198.9,233.0L198.9,234.7M198.7,234.7L201.3,234.7M199.0,236.5L201.3,236.5" fill="none" stroke="#2e2e2e" stroke-width="0.85"/>
<path d="M181.4,80.2L181.4,179.5M181.4,80.2L190.2,80.2M181.4,179.5L186.8,179.5M190.2,54.0L190.2,105.4M190.2,54.0L195.7,54.0M190.2,105.4L196.0,105.4M195.7,37.5L195.7,71.5M196.0,94.0L196.0,116.3M186.8,146.6L186.8,213.2M186.8,146.6L196.4,146.6M186.8,213.2L195.2,213.2M196.4,127.3L196.4,166.0M195.2,200.0L195.2,225.0M197.1,26.6L197.1,36.7M196.5,31.6L197.1,31.6M197.6,38.3L197.6,47.2M197.0,42.8L197.6,42.8M197.6,48.8L197.6,59.2M197.0,54.0L197.6,54.0M197.1,60.8L197.1,70.7M196.5,65.8L197.1,65.8M197.1,72.3L197.1,83.2M196.5,77.8L197.1,77.8M197.3,84.8L197.3,93.2M196.7,89.0L197.3,89.0M197.7,94.8L197.7,104.2M197.1,99.5L197.7,99.5M197.0,105.8L197.0,115.5M196.4,110.7L197.0,110.7M197.5,117.1L197.5,126.5M196.9,121.8L197.5,121.8M197.4,128.1L197.4,137.2M196.8,132.7L197.4,132.7M197.3,138.8L197.3,149.2M196.7,144.0L197.3,144.0M197.4,150.8L197.4,165.2M196.8,158.0L197.4,158.0M197.7,166.8L197.7,177.2M197.1,172.0L197.7,172.0M197.0,178.8L197.0,189.2M196.4,184.0L197.0,184.0M197.7,190.8L197.7,199.2M197.1,195.0L197.7,195.0M197.2,200.8L197.2,211.2M196.6,206.0L197.2,206.0M197.6,212.8L197.6,224.2M197.0,218.5L197.6,218.5M197.7,225.8L197.7,236.2M197.1,231.0L197.7,231.0M195.7,37.5L197.4,37.5M195.7,71.5L197.4,71.5M196.0,94.0L197.4,94.0M196.0,116.3L197.4,116.3M196.4,127.3L197.4,127.3M196.4,166.0L197.4,166.0M195.2,200.0L197.4,200.0M195.2,225.0L197.4,225.0M195.7,26.0L195.7,37.5" fill="none" stroke="#2e2e2e" stroke-width="0.55"/>
<text x="355.10" y="6.88" font-size="10.5" fill="#111">d</text>
<text x="443.70" y="11.00" font-size="8.0" text-anchor="middle" font-weight="bold" fill="#111">Thorax</text>
<line x1="436.30" y1="16.78" x2="436.30" y2="118.62" stroke="#f5f5f5" stroke-width="0.4"/>
<line x1="448.40" y1="16.78" x2="448.40" y2="118.62" stroke="#f5f5f5" stroke-width="0.4"/>
<line x1="460.50" y1="16.78" x2="460.50" y2="118.62" stroke="#f5f5f5" stroke-width="0.4"/>
<line x1="430.20" y1="16.78" x2="430.20" y2="118.62" stroke="#ebebeb" stroke-width="0.5"/>
<line x1="442.40" y1="16.78" x2="442.40" y2="118.62" stroke="#ebebeb" stroke-width="0.5"/>
<line x1="454.40" y1="16.78" x2="454.40" y2="118.62" stroke="#ebebeb" stroke-width="0.5"/>
<line x1="466.50" y1="16.78" x2="466.50" y2="118.62" stroke="#ebebeb" stroke-width="0.5"/>
<line x1="424.50" y1="20.80" x2="468.80" y2="20.80" stroke="#ebebeb" stroke-width="0.5"/>
<text x="420.80" y="22.09" font-size="3.7" text-anchor="end" fill="#444">Adenylosuccinate</text>
<line x1="424.50" y1="27.50" x2="468.80" y2="27.50" stroke="#ebebeb" stroke-width="0.5"/>
<text x="420.80" y="28.80" font-size="3.7" text-anchor="end" fill="#444">NADH</text>
<line x1="424.50" y1="34.20" x2="468.80" y2="34.20" stroke="#ebebeb" stroke-width="0.5"/>
<text x="420.80" y="35.50" font-size="3.7" text-anchor="end" fill="#444">ADP-D-glucose</text>
<line x1="424.50" y1="40.90" x2="468.80" y2="40.90" stroke="#ebebeb" stroke-width="0.5"/>
<text x="420.80" y="42.20" font-size="3.7" text-anchor="end" fill="#444">NADH (neg)</text>
<line x1="424.50" y1="47.60" x2="468.80" y2="47.60" stroke="#ebebeb" stroke-width="0.5"/>
<text x="420.80" y="48.90" font-size="3.7" text-anchor="end" fill="#444">adenosine</text>
<line x1="424.50" y1="54.30" x2="468.80" y2="54.30" stroke="#ebebeb" stroke-width="0.5"/>
<text x="420.80" y="55.59" font-size="3.7" text-anchor="end" fill="#444">AMP</text>
<line x1="424.50" y1="61.00" x2="468.80" y2="61.00" stroke="#ebebeb" stroke-width="0.5"/>
<text x="420.80" y="62.30" font-size="3.7" text-anchor="end" fill="#444">homocysteic acid</text>
<line x1="424.50" y1="67.70" x2="468.80" y2="67.70" stroke="#ebebeb" stroke-width="0.5"/>
<text x="420.80" y="69.00" font-size="3.7" text-anchor="end" fill="#444">Geranyl-PP</text>
<line x1="424.50" y1="74.40" x2="468.80" y2="74.40" stroke="#ebebeb" stroke-width="0.5"/>
<text x="420.80" y="75.70" font-size="3.7" text-anchor="end" fill="#444">acetoacetyl-CoA</text>
<line x1="424.50" y1="81.10" x2="468.80" y2="81.10" stroke="#ebebeb" stroke-width="0.5"/>
<text x="420.80" y="82.40" font-size="3.7" text-anchor="end" fill="#444">Thiamine pyrophosphate</text>
<line x1="424.50" y1="87.80" x2="468.80" y2="87.80" stroke="#ebebeb" stroke-width="0.5"/>
<text x="420.80" y="89.09" font-size="3.7" text-anchor="end" fill="#444">guanosine 5-diphosphate,3-diphosphate</text>
<line x1="424.50" y1="94.50" x2="468.80" y2="94.50" stroke="#ebebeb" stroke-width="0.5"/>
<text x="420.80" y="95.80" font-size="3.7" text-anchor="end" fill="#444">thiamine-phosphate</text>
<line x1="424.50" y1="101.20" x2="468.80" y2="101.20" stroke="#ebebeb" stroke-width="0.5"/>
<text x="420.80" y="102.50" font-size="3.7" text-anchor="end" fill="#444">adenine</text>
<line x1="424.50" y1="107.90" x2="468.80" y2="107.90" stroke="#ebebeb" stroke-width="0.5"/>
<text x="420.80" y="109.20" font-size="3.7" text-anchor="end" fill="#444">dephospho-CoA (neg)</text>
<line x1="424.50" y1="114.60" x2="468.80" y2="114.60" stroke="#ebebeb" stroke-width="0.5"/>
<text x="420.80" y="115.89" font-size="3.7" text-anchor="end" fill="#444">acetyl-CoA</text>
<circle cx="459.80" cy="20.80" r="2.50" fill="#a8dadb" stroke="#555" stroke-width="0.3"/>
<circle cx="455.40" cy="27.50" r="2.80" fill="#a8dadb" stroke="#555" stroke-width="0.3"/>
<circle cx="445.60" cy="34.20" r="2.80" fill="#a8dadb" stroke="#555" stroke-width="0.3"/>
<circle cx="445.60" cy="40.90" r="3.00" fill="#a8dadb" stroke="#555" stroke-width="0.3"/>
<circle cx="443.60" cy="47.60" r="2.00" fill="#a8dadb" stroke="#555" stroke-width="0.3"/>
<circle cx="440.80" cy="54.30" r="2.90" fill="#a8dadb" stroke="#555" stroke-width="0.3"/>
<circle cx="435.80" cy="61.00" r="0.70" fill="#a8dadb" stroke="#555" stroke-width="0.3"/>
<circle cx="435.40" cy="67.70" r="1.50" fill="#a8dadb" stroke="#555" stroke-width="0.3"/>
<circle cx="435.70" cy="74.40" r="2.30" fill="#a8dadb" stroke="#555" stroke-width="0.3"/>
<circle cx="435.70" cy="81.10" r="2.90" fill="#a8dadb" stroke="#555" stroke-width="0.3"/>
<circle cx="432.00" cy="87.80" r="1.20" fill="#a8dadb" stroke="#555" stroke-width="0.3"/>
<circle cx="429.40" cy="94.50" r="1.60" fill="#a8dadb" stroke="#555" stroke-width="0.3"/>
<circle cx="429.40" cy="101.20" r="2.00" fill="#a8dadb" stroke="#555" stroke-width="0.3"/>
<circle cx="427.80" cy="107.90" r="2.40" fill="#a8dadb" stroke="#555" stroke-width="0.3"/>
<circle cx="427.60" cy="114.60" r="1.90" fill="#a8dadb" stroke="#555" stroke-width="0.3"/>
<text x="430.20" y="122.32" font-size="3.5" text-anchor="middle" fill="#555">2.0</text>
<text x="442.40" y="122.32" font-size="3.5" text-anchor="middle" fill="#555">2.5</text>
<text x="454.40" y="122.32" font-size="3.5" text-anchor="middle" fill="#555">3.0</text>
<text x="466.50" y="122.32" font-size="3.5" text-anchor="middle" fill="#555">3.5</text>
<text x="431.00" y="126.64" font-size="4.1" fill="#222">log<tspan font-size="2.54" dy="0.90">2</tspan><tspan dy="-0.90">Fold  change</tspan></text>
<text x="473.20" y="53.23" font-size="4.1" fill="#222">- log<tspan font-size="2.54" dy="0.90">10</tspan><tspan dy="-0.90">adj.p-val</tspan></text>
<circle cx="476.60" cy="58.20" r="1.40" fill="#a8dadb" stroke="#555" stroke-width="0.3"/>
<text x="482.00" y="59.43" font-size="3.5" fill="#333">2</text>
<circle cx="476.60" cy="62.70" r="1.90" fill="#a8dadb" stroke="#555" stroke-width="0.3"/>
<text x="482.00" y="63.93" font-size="3.5" fill="#333">4</text>
<circle cx="476.60" cy="68.10" r="2.40" fill="#a8dadb" stroke="#555" stroke-width="0.3"/>
<text x="482.00" y="69.32" font-size="3.5" fill="#333">6</text>
<circle cx="476.60" cy="74.20" r="2.80" fill="#a8dadb" stroke="#555" stroke-width="0.3"/>
<text x="482.00" y="75.42" font-size="3.5" fill="#333">8</text>
<circle cx="476.60" cy="81.30" r="3.30" fill="#a8dadb" stroke="#555" stroke-width="0.3"/>
<text x="482.00" y="82.52" font-size="3.5" fill="#333">10</text>
<text x="584.50" y="12.00" font-size="8.0" text-anchor="middle" font-weight="bold" fill="#111">Head</text>
<line x1="566.20" y1="17.09" x2="566.20" y2="118.63" stroke="#f5f5f5" stroke-width="0.4"/>
<line x1="581.50" y1="17.09" x2="581.50" y2="118.63" stroke="#f5f5f5" stroke-width="0.4"/>
<line x1="596.80" y1="17.09" x2="596.80" y2="118.63" stroke="#f5f5f5" stroke-width="0.4"/>
<line x1="612.20" y1="17.09" x2="612.20" y2="118.63" stroke="#f5f5f5" stroke-width="0.4"/>
<line x1="558.60" y1="17.09" x2="558.60" y2="118.63" stroke="#ebebeb" stroke-width="0.5"/>
<line x1="573.90" y1="17.09" x2="573.90" y2="118.63" stroke="#ebebeb" stroke-width="0.5"/>
<line x1="589.10" y1="17.09" x2="589.10" y2="118.63" stroke="#ebebeb" stroke-width="0.5"/>
<line x1="604.50" y1="17.09" x2="604.50" y2="118.63" stroke="#ebebeb" stroke-width="0.5"/>
<line x1="619.90" y1="17.09" x2="619.90" y2="118.63" stroke="#ebebeb" stroke-width="0.5"/>
<line x1="555.00" y1="21.10" x2="623.00" y2="21.10" stroke="#ebebeb" stroke-width="0.5"/>
<text x="552.70" y="22.50" font-size="4.0" text-anchor="end" fill="#444">4-aminobutyrate</text>
<line x1="555.00" y1="27.78" x2="623.00" y2="27.78" stroke="#ebebeb" stroke-width="0.5"/>
<text x="552.70" y="29.18" font-size="4.0" text-anchor="end" fill="#444">N-acetyl-L-aspartic acid</text>
<line x1="555.00" y1="34.46" x2="623.00" y2="34.46" stroke="#ebebeb" stroke-width="0.5"/>
<text x="552.70" y="35.86" font-size="4.0" text-anchor="end" fill="#444">GMP</text>
<line x1="555.00" y1="41.14" x2="623.00" y2="41.14" stroke="#ebebeb" stroke-width="0.5"/>
<text x="552.70" y="42.54" font-size="4.0" text-anchor="end" fill="#444">Ascorbic acid</text>
<line x1="555.00" y1="47.82" x2="623.00" y2="47.82" stroke="#ebebeb" stroke-width="0.5"/>
<text x="552.70" y="49.22" font-size="4.0" text-anchor="end" fill="#444">2-isopropylmalic acid</text>
<line x1="555.00" y1="54.50" x2="623.00" y2="54.50" stroke="#ebebeb" stroke-width="0.5"/>
<text x="552.70" y="55.90" font-size="4.0" text-anchor="end" fill="#444">N6-Acetyl-L-lysine</text>
<line x1="555.00" y1="61.18" x2="623.00" y2="61.18" stroke="#ebebeb" stroke-width="0.5"/>
<text x="552.70" y="62.58" font-size="4.0" text-anchor="end" fill="#444">pantothenate</text>
<line x1="555.00" y1="67.86" x2="623.00" y2="67.86" stroke="#ebebeb" stroke-width="0.5"/>
<text x="552.70" y="69.26" font-size="4.0" text-anchor="end" fill="#444">Phosphorylcholine</text>
<line x1="555.00" y1="74.54" x2="623.00" y2="74.54" stroke="#ebebeb" stroke-width="0.5"/>
<text x="552.70" y="75.94" font-size="4.0" text-anchor="end" fill="#444">sarcosine</text>
<line x1="555.00" y1="81.22" x2="623.00" y2="81.22" stroke="#ebebeb" stroke-width="0.5"/>
<text x="552.70" y="82.62" font-size="4.0" text-anchor="end" fill="#444">alanine</text>
<line x1="555.00" y1="87.90" x2="623.00" y2="87.90" stroke="#ebebeb" stroke-width="0.5"/>
<text x="552.70" y="89.30" font-size="4.0" text-anchor="end" fill="#444">cytidine</text>
<line x1="555.00" y1="94.58" x2="623.00" y2="94.58" stroke="#ebebeb" stroke-width="0.5"/>
<text x="552.70" y="95.98" font-size="4.0" text-anchor="end" fill="#444">glyoxylate</text>
<line x1="555.00" y1="101.26" x2="623.00" y2="101.26" stroke="#ebebeb" stroke-width="0.5"/>
<text x="552.70" y="102.66" font-size="4.0" text-anchor="end" fill="#444">indole-3-carboxylic acid</text>
<line x1="555.00" y1="107.94" x2="623.00" y2="107.94" stroke="#ebebeb" stroke-width="0.5"/>
<text x="552.70" y="109.34" font-size="4.0" text-anchor="end" fill="#444">GDP (neg)</text>
<line x1="555.00" y1="114.62" x2="623.00" y2="114.62" stroke="#ebebeb" stroke-width="0.5"/>
<text x="552.70" y="116.02" font-size="4.0" text-anchor="end" fill="#444">Pyrophosphate</text>
<circle cx="620.30" cy="21.10" r="2.90" fill="#b4c3e8" stroke="#555" stroke-width="0.3"/>
<circle cx="617.10" cy="27.78" r="2.60" fill="#b4c3e8" stroke="#555" stroke-width="0.3"/>
<circle cx="608.00" cy="34.46" r="2.90" fill="#b4c3e8" stroke="#555" stroke-width="0.3"/>
<circle cx="602.60" cy="41.14" r="2.60" fill="#b4c3e8" stroke="#555" stroke-width="0.3"/>
<circle cx="599.30" cy="47.82" r="2.50" fill="#b4c3e8" stroke="#555" stroke-width="0.3"/>
<circle cx="590.30" cy="54.50" r="0.50" fill="#b4c3e8" stroke="#555" stroke-width="0.3"/>
<circle cx="586.10" cy="61.18" r="2.20" fill="#b4c3e8" stroke="#555" stroke-width="0.3"/>
<circle cx="575.00" cy="67.86" r="2.00" fill="#b4c3e8" stroke="#555" stroke-width="0.3"/>
<circle cx="570.20" cy="74.54" r="2.40" fill="#b4c3e8" stroke="#555" stroke-width="0.3"/>
<circle cx="570.00" cy="81.22" r="2.60" fill="#b4c3e8" stroke="#555" stroke-width="0.3"/>
<circle cx="568.00" cy="87.90" r="2.40" fill="#b4c3e8" stroke="#555" stroke-width="0.3"/>
<circle cx="566.00" cy="94.58" r="1.60" fill="#b4c3e8" stroke="#555" stroke-width="0.3"/>
<circle cx="565.20" cy="101.26" r="1.20" fill="#b4c3e8" stroke="#555" stroke-width="0.3"/>
<circle cx="557.30" cy="107.94" r="1.00" fill="#b4c3e8" stroke="#555" stroke-width="0.3"/>
<circle cx="557.30" cy="114.62" r="2.20" fill="#b4c3e8" stroke="#555" stroke-width="0.3"/>
<text x="558.60" y="122.12" font-size="3.5" text-anchor="middle" fill="#555">2.0</text>
<text x="573.90" y="122.12" font-size="3.5" text-anchor="middle" fill="#555">2.2</text>
<text x="589.10" y="122.12" font-size="3.5" text-anchor="middle" fill="#555">2.4</text>
<text x="604.50" y="122.12" font-size="3.5" text-anchor="middle" fill="#555">2.6</text>
<text x="619.90" y="122.12" font-size="3.5" text-anchor="middle" fill="#555">2.8</text>
<text x="574.60" y="127.03" font-size="4.1" fill="#222">log<tspan font-size="2.54" dy="0.90">2</tspan><tspan dy="-0.90">Fold  change</tspan></text>
<text x="628.00" y="56.64" font-size="4.1" fill="#222">- log<tspan font-size="2.54" dy="0.90">10</tspan><tspan dy="-0.90">adj.p-val</tspan></text>
<circle cx="631.60" cy="61.00" r="1.30" fill="#b4c3e8" stroke="#555" stroke-width="0.3"/>
<text x="637.00" y="62.23" font-size="3.5" fill="#333">2</text>
<circle cx="631.60" cy="66.20" r="1.90" fill="#b4c3e8" stroke="#555" stroke-width="0.3"/>
<text x="637.00" y="67.42" font-size="3.5" fill="#333">4</text>
<circle cx="631.60" cy="71.70" r="2.40" fill="#b4c3e8" stroke="#555" stroke-width="0.3"/>
<text x="637.00" y="72.92" font-size="3.5" fill="#333">6</text>
<circle cx="631.60" cy="78.80" r="3.00" fill="#b4c3e8" stroke="#555" stroke-width="0.3"/>
<text x="637.00" y="80.02" font-size="3.5" fill="#333">8</text>
<text x="437.40" y="142.00" font-size="8.0" text-anchor="middle" font-weight="bold" fill="#111">Gut</text>
<line x1="426.30" y1="147.09" x2="426.30" y2="248.77" stroke="#f5f5f5" stroke-width="0.4"/>
<line x1="440.30" y1="147.09" x2="440.30" y2="248.77" stroke="#f5f5f5" stroke-width="0.4"/>
<line x1="454.40" y1="147.09" x2="454.40" y2="248.77" stroke="#f5f5f5" stroke-width="0.4"/>
<line x1="468.40" y1="147.09" x2="468.40" y2="248.77" stroke="#f5f5f5" stroke-width="0.4"/>
<line x1="419.30" y1="147.09" x2="419.30" y2="248.77" stroke="#ebebeb" stroke-width="0.5"/>
<line x1="433.30" y1="147.09" x2="433.30" y2="248.77" stroke="#ebebeb" stroke-width="0.5"/>
<line x1="447.40" y1="147.09" x2="447.40" y2="248.77" stroke="#ebebeb" stroke-width="0.5"/>
<line x1="461.40" y1="147.09" x2="461.40" y2="248.77" stroke="#ebebeb" stroke-width="0.5"/>
<line x1="413.80" y1="151.10" x2="470.60" y2="151.10" stroke="#ebebeb" stroke-width="0.5"/>
<text x="412.00" y="152.53" font-size="4.1" text-anchor="end" fill="#444">methylsuccinate</text>
<line x1="413.80" y1="157.79" x2="470.60" y2="157.79" stroke="#ebebeb" stroke-width="0.5"/>
<text x="412.00" y="159.22" font-size="4.1" text-anchor="end" fill="#444">thymidine</text>
<line x1="413.80" y1="164.48" x2="470.60" y2="164.48" stroke="#ebebeb" stroke-width="0.5"/>
<text x="412.00" y="165.91" font-size="4.1" text-anchor="end" fill="#444">betaine</text>
<line x1="413.80" y1="171.17" x2="470.60" y2="171.17" stroke="#ebebeb" stroke-width="0.5"/>
<text x="412.00" y="172.60" font-size="4.1" text-anchor="end" fill="#444">pyridoxine</text>
<line x1="413.80" y1="177.86" x2="470.60" y2="177.86" stroke="#ebebeb" stroke-width="0.5"/>
<text x="412.00" y="179.29" font-size="4.1" text-anchor="end" fill="#444">S-ribosyl-L-homocysteine</text>
<line x1="413.80" y1="184.55" x2="470.60" y2="184.55" stroke="#ebebeb" stroke-width="0.5"/>
<text x="412.00" y="185.99" font-size="4.1" text-anchor="end" fill="#444">quinolinate</text>
<line x1="413.80" y1="191.24" x2="470.60" y2="191.24" stroke="#ebebeb" stroke-width="0.5"/>
<text x="412.00" y="192.68" font-size="4.1" text-anchor="end" fill="#444">Uric acid</text>
<line x1="413.80" y1="197.93" x2="470.60" y2="197.93" stroke="#ebebeb" stroke-width="0.5"/>
<text x="412.00" y="199.37" font-size="4.1" text-anchor="end" fill="#444">N-acetyl-glutamine</text>
<line x1="413.80" y1="204.62" x2="470.60" y2="204.62" stroke="#ebebeb" stroke-width="0.5"/>
<text x="412.00" y="206.06" font-size="4.1" text-anchor="end" fill="#444">homocysteine</text>
<line x1="413.80" y1="211.31" x2="470.60" y2="211.31" stroke="#ebebeb" stroke-width="0.5"/>
<text x="412.00" y="212.75" font-size="4.1" text-anchor="end" fill="#444">anthranilate</text>
<line x1="413.80" y1="218.00" x2="470.60" y2="218.00" stroke="#ebebeb" stroke-width="0.5"/>
<text x="412.00" y="219.44" font-size="4.1" text-anchor="end" fill="#444">p-aminobenzoate</text>
<line x1="413.80" y1="224.69" x2="470.60" y2="224.69" stroke="#ebebeb" stroke-width="0.5"/>
<text x="412.00" y="226.12" font-size="4.1" text-anchor="end" fill="#444">2,3-Diphosphoglyceric acid</text>
<line x1="413.80" y1="231.38" x2="470.60" y2="231.38" stroke="#ebebeb" stroke-width="0.5"/>
<text x="412.00" y="232.81" font-size="4.1" text-anchor="end" fill="#444">D-glucarate</text>
<line x1="413.80" y1="238.07" x2="470.60" y2="238.07" stroke="#ebebeb" stroke-width="0.5"/>
<text x="412.00" y="239.50" font-size="4.1" text-anchor="end" fill="#444">phosphocreatine</text>
<line x1="413.80" y1="244.76" x2="470.60" y2="244.76" stroke="#ebebeb" stroke-width="0.5"/>
<text x="412.00" y="246.19" font-size="4.1" text-anchor="end" fill="#444">cyclic AMP</text>
<circle cx="468.00" cy="151.10" r="1.70" fill="#a9d9a2" stroke="#555" stroke-width="0.3"/>
<circle cx="464.50" cy="157.79" r="3.00" fill="#a9d9a2" stroke="#555" stroke-width="0.3"/>
<circle cx="449.00" cy="164.48" r="2.00" fill="#a9d9a2" stroke="#555" stroke-width="0.3"/>
<circle cx="448.50" cy="171.17" r="2.60" fill="#a9d9a2" stroke="#555" stroke-width="0.3"/>
<circle cx="443.00" cy="177.86" r="0.50" fill="#a9d9a2" stroke="#555" stroke-width="0.3"/>
<circle cx="441.70" cy="184.55" r="1.60" fill="#a9d9a2" stroke="#555" stroke-width="0.3"/>
<circle cx="429.30" cy="191.24" r="2.40" fill="#a9d9a2" stroke="#555" stroke-width="0.3"/>
<circle cx="428.80" cy="197.93" r="2.00" fill="#a9d9a2" stroke="#555" stroke-width="0.3"/>
<circle cx="419.30" cy="204.62" r="1.30" fill="#a9d9a2" stroke="#555" stroke-width="0.3"/>
<circle cx="418.30" cy="211.31" r="2.20" fill="#a9d9a2" stroke="#555" stroke-width="0.3"/>
<circle cx="417.20" cy="218.00" r="2.20" fill="#a9d9a2" stroke="#555" stroke-width="0.3"/>
<circle cx="416.70" cy="224.69" r="1.90" fill="#a9d9a2" stroke="#555" stroke-width="0.3"/>
<circle cx="416.00" cy="231.38" r="1.80" fill="#a9d9a2" stroke="#555" stroke-width="0.3"/>
<circle cx="415.70" cy="238.07" r="1.60" fill="#a9d9a2" stroke="#555" stroke-width="0.3"/>
<circle cx="415.40" cy="244.76" r="2.30" fill="#a9d9a2" stroke="#555" stroke-width="0.3"/>
<text x="419.30" y="251.92" font-size="3.5" text-anchor="middle" fill="#555">2.5</text>
<text x="433.30" y="251.92" font-size="3.5" text-anchor="middle" fill="#555">3.0</text>
<text x="447.40" y="251.92" font-size="3.5" text-anchor="middle" fill="#555">3.5</text>
<text x="461.40" y="251.92" font-size="3.5" text-anchor="middle" fill="#555">4.0</text>
<text x="427.00" y="256.44" font-size="4.1" fill="#222">log<tspan font-size="2.54" dy="0.90">2</tspan><tspan dy="-0.90">Fold  change</tspan></text>
<text x="475.30" y="186.84" font-size="4.1" fill="#222">- log<tspan font-size="2.54" dy="0.90">10</tspan><tspan dy="-0.90">adj.p-val</tspan></text>
<circle cx="478.50" cy="191.50" r="1.20" fill="#a9d9a2" stroke="#555" stroke-width="0.3"/>
<text x="483.90" y="192.72" font-size="3.5" fill="#333">2</text>
<circle cx="478.50" cy="196.50" r="1.80" fill="#a9d9a2" stroke="#555" stroke-width="0.3"/>
<text x="483.90" y="197.72" font-size="3.5" fill="#333">4</text>
<circle cx="478.50" cy="202.00" r="2.20" fill="#a9d9a2" stroke="#555" stroke-width="0.3"/>
<text x="483.90" y="203.22" font-size="3.5" fill="#333">6</text>
<circle cx="478.50" cy="208.60" r="2.60" fill="#a9d9a2" stroke="#555" stroke-width="0.3"/>
<text x="483.90" y="209.82" font-size="3.5" fill="#333">8</text>
<text x="583.30" y="142.00" font-size="8.0" text-anchor="middle" font-weight="bold" fill="#111">Abdomen</text>
<line x1="578.40" y1="149.09" x2="578.40" y2="250.63" stroke="#f5f5f5" stroke-width="0.4"/>
<line x1="597.50" y1="149.09" x2="597.50" y2="250.63" stroke="#f5f5f5" stroke-width="0.4"/>
<line x1="616.50" y1="149.09" x2="616.50" y2="250.63" stroke="#f5f5f5" stroke-width="0.4"/>
<line x1="568.80" y1="149.09" x2="568.80" y2="250.63" stroke="#ebebeb" stroke-width="0.5"/>
<line x1="588.00" y1="149.09" x2="588.00" y2="250.63" stroke="#ebebeb" stroke-width="0.5"/>
<line x1="607.00" y1="149.09" x2="607.00" y2="250.63" stroke="#ebebeb" stroke-width="0.5"/>
<line x1="566.80" y1="153.10" x2="626.00" y2="153.10" stroke="#ebebeb" stroke-width="0.5"/>
<text x="566.00" y="154.50" font-size="4.0" text-anchor="end" fill="#444">S-adenosyl-L-methioninamine</text>
<line x1="566.80" y1="159.78" x2="626.00" y2="159.78" stroke="#ebebeb" stroke-width="0.5"/>
<text x="566.00" y="161.18" font-size="4.0" text-anchor="end" fill="#444">5-methyl-THF</text>
<line x1="566.80" y1="166.46" x2="626.00" y2="166.46" stroke="#ebebeb" stroke-width="0.5"/>
<text x="566.00" y="167.86" font-size="4.0" text-anchor="end" fill="#444">xanthosine</text>
<line x1="566.80" y1="173.14" x2="626.00" y2="173.14" stroke="#ebebeb" stroke-width="0.5"/>
<text x="566.00" y="174.54" font-size="4.0" text-anchor="end" fill="#444">hypoxanthine</text>
<line x1="566.80" y1="179.82" x2="626.00" y2="179.82" stroke="#ebebeb" stroke-width="0.5"/>
<text x="566.00" y="181.22" font-size="4.0" text-anchor="end" fill="#444">homocysteic acid</text>
<line x1="566.80" y1="186.50" x2="626.00" y2="186.50" stroke="#ebebeb" stroke-width="0.5"/>
<text x="566.00" y="187.90" font-size="4.0" text-anchor="end" fill="#444">nicotinamide</text>
<line x1="566.80" y1="193.18" x2="626.00" y2="193.18" stroke="#ebebeb" stroke-width="0.5"/>
<text x="566.00" y="194.58" font-size="4.0" text-anchor="end" fill="#444">cysteine</text>
<line x1="566.80" y1="199.86" x2="626.00" y2="199.86" stroke="#ebebeb" stroke-width="0.5"/>
<text x="566.00" y="201.26" font-size="4.0" text-anchor="end" fill="#444">UDP-negs</text>
<line x1="566.80" y1="206.54" x2="626.00" y2="206.54" stroke="#ebebeb" stroke-width="0.5"/>
<text x="566.00" y="207.94" font-size="4.0" text-anchor="end" fill="#444">methylnicotinamide</text>
<line x1="566.80" y1="213.22" x2="626.00" y2="213.22" stroke="#ebebeb" stroke-width="0.5"/>
<text x="566.00" y="214.62" font-size="4.0" text-anchor="end" fill="#444">xanthine</text>
<line x1="566.80" y1="219.90" x2="626.00" y2="219.90" stroke="#ebebeb" stroke-width="0.5"/>
<text x="566.00" y="221.30" font-size="4.0" text-anchor="end" fill="#444">1-Methyladenosine</text>
<line x1="566.80" y1="226.58" x2="626.00" y2="226.58" stroke="#ebebeb" stroke-width="0.5"/>
<text x="566.00" y="227.98" font-size="4.0" text-anchor="end" fill="#444">ethanolamine</text>
<line x1="566.80" y1="233.26" x2="626.00" y2="233.26" stroke="#ebebeb" stroke-width="0.5"/>
<text x="566.00" y="234.66" font-size="4.0" text-anchor="end" fill="#444">UMP</text>
<line x1="566.80" y1="239.94" x2="626.00" y2="239.94" stroke="#ebebeb" stroke-width="0.5"/>
<text x="566.00" y="241.34" font-size="4.0" text-anchor="end" fill="#444">UDP-D-glucuronate</text>
<line x1="566.80" y1="246.62" x2="626.00" y2="246.62" stroke="#ebebeb" stroke-width="0.5"/>
<text x="566.00" y="248.02" font-size="4.0" text-anchor="end" fill="#444">lipoate</text>
<circle cx="623.20" cy="153.10" r="2.50" fill="#f5b5a8" stroke="#555" stroke-width="0.3"/>
<circle cx="589.00" cy="159.78" r="2.90" fill="#f5b5a8" stroke="#555" stroke-width="0.3"/>
<circle cx="588.00" cy="166.46" r="2.20" fill="#f5b5a8" stroke="#555" stroke-width="0.3"/>
<circle cx="587.20" cy="173.14" r="2.40" fill="#f5b5a8" stroke="#555" stroke-width="0.3"/>
<circle cx="587.00" cy="179.82" r="0.60" fill="#f5b5a8" stroke="#555" stroke-width="0.3"/>
<circle cx="581.70" cy="186.50" r="2.00" fill="#f5b5a8" stroke="#555" stroke-width="0.3"/>
<circle cx="578.60" cy="193.18" r="2.00" fill="#f5b5a8" stroke="#555" stroke-width="0.3"/>
<circle cx="577.30" cy="199.86" r="1.50" fill="#f5b5a8" stroke="#555" stroke-width="0.3"/>
<circle cx="576.20" cy="206.54" r="1.60" fill="#f5b5a8" stroke="#555" stroke-width="0.3"/>
<circle cx="576.00" cy="213.22" r="2.00" fill="#f5b5a8" stroke="#555" stroke-width="0.3"/>
<circle cx="575.40" cy="219.90" r="1.20" fill="#f5b5a8" stroke="#555" stroke-width="0.3"/>
<circle cx="572.30" cy="226.58" r="2.20" fill="#f5b5a8" stroke="#555" stroke-width="0.3"/>
<circle cx="570.70" cy="233.26" r="1.80" fill="#f5b5a8" stroke="#555" stroke-width="0.3"/>
<circle cx="570.40" cy="239.94" r="1.30" fill="#f5b5a8" stroke="#555" stroke-width="0.3"/>
<circle cx="569.60" cy="246.62" r="1.90" fill="#f5b5a8" stroke="#555" stroke-width="0.3"/>
<text x="568.80" y="254.72" font-size="3.5" text-anchor="middle" fill="#555">0</text>
<text x="588.00" y="254.72" font-size="3.5" text-anchor="middle" fill="#555">1</text>
<text x="607.00" y="254.72" font-size="3.5" text-anchor="middle" fill="#555">2</text>
<text x="581.20" y="258.83" font-size="4.1" fill="#222">log<tspan font-size="2.54" dy="0.90">2</tspan><tspan dy="-0.90">Fold  change</tspan></text>
<text x="630.60" y="185.53" font-size="4.1" fill="#222">- log<tspan font-size="2.54" dy="0.90">10</tspan><tspan dy="-0.90">adj.p-val</tspan></text>
<circle cx="633.70" cy="190.20" r="1.30" fill="#f5b5a8" stroke="#555" stroke-width="0.3"/>
<text x="639.10" y="191.42" font-size="3.5" fill="#333">2.0</text>
<circle cx="633.70" cy="195.40" r="1.80" fill="#f5b5a8" stroke="#555" stroke-width="0.3"/>
<text x="639.10" y="196.62" font-size="3.5" fill="#333">2.5</text>
<circle cx="633.70" cy="200.70" r="2.20" fill="#f5b5a8" stroke="#555" stroke-width="0.3"/>
<text x="639.10" y="201.92" font-size="3.5" fill="#333">3.0</text>
<circle cx="633.70" cy="207.00" r="2.60" fill="#f5b5a8" stroke="#555" stroke-width="0.3"/>
<text x="639.10" y="208.22" font-size="3.5" fill="#333">3.5</text>
<circle cx="633.70" cy="214.30" r="3.20" fill="#f5b5a8" stroke="#555" stroke-width="0.3"/>
<text x="639.10" y="215.53" font-size="3.5" fill="#333">4.0</text>
<text x="-0.70" y="275.90" font-size="10" font-weight="bold" fill="#111">e</text>
<line x1="128.60" y1="280.20" x2="128.60" y2="487.12" stroke="#ebebeb" stroke-width="0.55"/>
<line x1="153.50" y1="280.20" x2="153.50" y2="487.12" stroke="#ebebeb" stroke-width="0.55"/>
<line x1="179.00" y1="280.20" x2="179.00" y2="487.12" stroke="#ebebeb" stroke-width="0.55"/>
<line x1="204.30" y1="280.20" x2="204.30" y2="487.12" stroke="#ebebeb" stroke-width="0.55"/>
<line x1="112.60" y1="283.70" x2="220.50" y2="283.70" stroke="#ebebeb" stroke-width="0.5"/>
<text x="110.90" y="285.34" font-size="4.7" text-anchor="end" fill="#333">Amino sugar and nucleotide sugar metabolism</text>
<line x1="112.60" y1="289.58" x2="220.50" y2="289.58" stroke="#ebebeb" stroke-width="0.5"/>
<text x="110.90" y="291.22" font-size="4.7" text-anchor="end" fill="#333">Arginine and proline metabolism</text>
<line x1="112.60" y1="295.46" x2="220.50" y2="295.46" stroke="#ebebeb" stroke-width="0.5"/>
<text x="110.90" y="297.10" font-size="4.7" text-anchor="end" fill="#333">Arginine biosynthesis</text>
<line x1="112.60" y1="301.34" x2="220.50" y2="301.34" stroke="#ebebeb" stroke-width="0.5"/>
<text x="110.90" y="302.98" font-size="4.7" text-anchor="end" fill="#333">Ascorbate and aldarate metabolism</text>
<line x1="112.60" y1="307.22" x2="220.50" y2="307.22" stroke="#ebebeb" stroke-width="0.5"/>
<text x="110.90" y="308.86" font-size="4.7" text-anchor="end" fill="#333">beta-Alanine metabolism</text>
<line x1="112.60" y1="313.10" x2="220.50" y2="313.10" stroke="#ebebeb" stroke-width="0.5"/>
<text x="110.90" y="314.74" font-size="4.7" text-anchor="end" fill="#333">Butanoate metabolism</text>
<line x1="112.60" y1="318.98" x2="220.50" y2="318.98" stroke="#ebebeb" stroke-width="0.5"/>
<text x="110.90" y="320.62" font-size="4.7" text-anchor="end" fill="#333">Cysteine and methionine metabolism</text>
<line x1="112.60" y1="324.86" x2="220.50" y2="324.86" stroke="#ebebeb" stroke-width="0.5"/>
<text x="110.90" y="326.50" font-size="4.7" text-anchor="end" fill="#333">Fatty acid degradation</text>
<line x1="112.60" y1="330.74" x2="220.50" y2="330.74" stroke="#ebebeb" stroke-width="0.5"/>
<text x="110.90" y="332.38" font-size="4.7" text-anchor="end" fill="#333">Folate transport and metabolism</text>
<line x1="112.60" y1="336.62" x2="220.50" y2="336.62" stroke="#ebebeb" stroke-width="0.5"/>
<text x="110.90" y="338.26" font-size="4.7" text-anchor="end" fill="#333">Glutathione metabolism</text>
<line x1="112.60" y1="342.50" x2="220.50" y2="342.50" stroke="#ebebeb" stroke-width="0.5"/>
<text x="110.90" y="344.14" font-size="4.7" text-anchor="end" fill="#333">Glycerophospholipid metabolism</text>
<line x1="112.60" y1="348.38" x2="220.50" y2="348.38" stroke="#ebebeb" stroke-width="0.5"/>
<text x="110.90" y="350.02" font-size="4.7" text-anchor="end" fill="#333">Glycine, serine and threonine metabolism</text>
<line x1="112.60" y1="354.26" x2="220.50" y2="354.26" stroke="#ebebeb" stroke-width="0.5"/>
<text x="110.90" y="355.90" font-size="4.7" text-anchor="end" fill="#333">Glycolysis / Gluconeogenesis</text>
<line x1="112.60" y1="360.14" x2="220.50" y2="360.14" stroke="#ebebeb" stroke-width="0.5"/>
<text x="110.90" y="361.78" font-size="4.7" text-anchor="end" fill="#333">Histidine metabolism</text>
<line x1="112.60" y1="366.02" x2="220.50" y2="366.02" stroke="#ebebeb" stroke-width="0.5"/>
<text x="110.90" y="367.66" font-size="4.7" text-anchor="end" fill="#333">Lipoic acid metabolism</text>
<line x1="112.60" y1="371.90" x2="220.50" y2="371.90" stroke="#ebebeb" stroke-width="0.5"/>
<text x="110.90" y="373.54" font-size="4.7" text-anchor="end" fill="#333">Lysine degradation</text>
<line x1="112.60" y1="377.78" x2="220.50" y2="377.78" stroke="#ebebeb" stroke-width="0.5"/>
<text x="110.90" y="379.42" font-size="4.7" text-anchor="end" fill="#333">Nicotinate and nicotinamide metabolism</text>
<line x1="112.60" y1="383.66" x2="220.50" y2="383.66" stroke="#ebebeb" stroke-width="0.5"/>
<text x="110.90" y="385.30" font-size="4.7" text-anchor="end" fill="#333">One carbon pool by folate</text>
<line x1="112.60" y1="389.54" x2="220.50" y2="389.54" stroke="#ebebeb" stroke-width="0.5"/>
<text x="110.90" y="391.18" font-size="4.7" text-anchor="end" fill="#333">Oxidative phosphorylation</text>
<line x1="112.60" y1="395.42" x2="220.50" y2="395.42" stroke="#ebebeb" stroke-width="0.5"/>
<text x="110.90" y="397.06" font-size="4.7" text-anchor="end" fill="#333">Pantothenate and CoA biosynthesis</text>
<line x1="112.60" y1="401.30" x2="220.50" y2="401.30" stroke="#ebebeb" stroke-width="0.5"/>
<text x="110.90" y="402.94" font-size="4.7" text-anchor="end" fill="#333">Pentose and glucuronate interconversions</text>
<line x1="112.60" y1="407.18" x2="220.50" y2="407.18" stroke="#ebebeb" stroke-width="0.5"/>
<text x="110.90" y="408.82" font-size="4.7" text-anchor="end" fill="#333">Pentose phosphate pathway</text>
<line x1="112.60" y1="413.06" x2="220.50" y2="413.06" stroke="#ebebeb" stroke-width="0.5"/>
<text x="110.90" y="414.70" font-size="4.7" text-anchor="end" fill="#333">Phenylalanine metabolism</text>
<line x1="112.60" y1="418.94" x2="220.50" y2="418.94" stroke="#ebebeb" stroke-width="0.5"/>
<text x="110.90" y="420.58" font-size="4.7" text-anchor="end" fill="#333">Phenylalanine, tyrosine and tryptophan biosynthesis</text>
<line x1="112.60" y1="424.82" x2="220.50" y2="424.82" stroke="#ebebeb" stroke-width="0.5"/>
<text x="110.90" y="426.46" font-size="4.7" text-anchor="end" fill="#333">Phosphonate and phosphinate metabolism</text>
<line x1="112.60" y1="430.70" x2="220.50" y2="430.70" stroke="#ebebeb" stroke-width="0.5"/>
<text x="110.90" y="432.34" font-size="4.7" text-anchor="end" fill="#333">Propanoate metabolism</text>
<line x1="112.60" y1="436.58" x2="220.50" y2="436.58" stroke="#ebebeb" stroke-width="0.5"/>
<text x="110.90" y="438.22" font-size="4.7" text-anchor="end" fill="#333">Pyruvate metabolism</text>
<line x1="112.60" y1="442.46" x2="220.50" y2="442.46" stroke="#ebebeb" stroke-width="0.5"/>
<text x="110.90" y="444.10" font-size="4.7" text-anchor="end" fill="#333">Starch and sucrose metabolism</text>
<line x1="112.60" y1="448.34" x2="220.50" y2="448.34" stroke="#ebebeb" stroke-width="0.5"/>
<text x="110.90" y="449.98" font-size="4.7" text-anchor="end" fill="#333">Sulfur metabolism</text>
<line x1="112.60" y1="454.22" x2="220.50" y2="454.22" stroke="#ebebeb" stroke-width="0.5"/>
<text x="110.90" y="455.87" font-size="4.7" text-anchor="end" fill="#333">Taurine and hypotaurine metabolism</text>
<line x1="112.60" y1="460.10" x2="220.50" y2="460.10" stroke="#ebebeb" stroke-width="0.5"/>
<text x="110.90" y="461.75" font-size="4.7" text-anchor="end" fill="#333">Thiamine metabolism</text>
<line x1="112.60" y1="465.98" x2="220.50" y2="465.98" stroke="#ebebeb" stroke-width="0.5"/>
<text x="110.90" y="467.62" font-size="4.7" text-anchor="end" fill="#333">Tryptophan metabolism</text>
<line x1="112.60" y1="471.86" x2="220.50" y2="471.86" stroke="#ebebeb" stroke-width="0.5"/>
<text x="110.90" y="473.50" font-size="4.7" text-anchor="end" fill="#333">Tyrosine metabolism</text>
<line x1="112.60" y1="477.74" x2="220.50" y2="477.74" stroke="#ebebeb" stroke-width="0.5"/>
<text x="110.90" y="479.38" font-size="4.7" text-anchor="end" fill="#333">Valine, leucine and isoleucine biosynthesis</text>
<line x1="112.60" y1="483.62" x2="220.50" y2="483.62" stroke="#ebebeb" stroke-width="0.5"/>
<text x="110.90" y="485.26" font-size="4.7" text-anchor="end" fill="#333">Valine, leucine and isoleucine degradation</text>
<circle cx="179.00" cy="283.70" r="1.25" fill="#a8402a"/>
<circle cx="153.50" cy="289.58" r="2.57" fill="#d29444"/>
<circle cx="179.00" cy="289.58" r="1.58" fill="#a8402a"/>
<circle cx="204.30" cy="289.58" r="2.57" fill="#b24e2c"/>
<circle cx="128.60" cy="295.46" r="2.90" fill="#c47036"/>
<circle cx="153.50" cy="295.46" r="4.00" fill="#f0c43a"/>
<circle cx="179.00" cy="301.34" r="1.36" fill="#a8402a"/>
<circle cx="128.60" cy="307.22" r="2.24" fill="#b24e2c"/>
<circle cx="153.50" cy="307.22" r="2.90" fill="#b85a30"/>
<circle cx="204.30" cy="307.22" r="2.90" fill="#b85a30"/>
<circle cx="128.60" cy="313.10" r="2.13" fill="#b24e2c"/>
<circle cx="153.50" cy="313.10" r="2.68" fill="#b85a30"/>
<circle cx="179.00" cy="313.10" r="1.25" fill="#a8402a"/>
<circle cx="153.50" cy="318.98" r="2.68" fill="#c47036"/>
<circle cx="179.00" cy="318.98" r="1.80" fill="#b24e2c"/>
<circle cx="128.60" cy="324.86" r="2.13" fill="#b24e2c"/>
<circle cx="153.50" cy="330.74" r="3.45" fill="#c47036"/>
<circle cx="179.00" cy="330.74" r="2.68" fill="#b85a30"/>
<circle cx="204.30" cy="330.74" r="3.67" fill="#d29444"/>
<circle cx="153.50" cy="336.62" r="3.45" fill="#d29444"/>
<circle cx="179.00" cy="336.62" r="1.36" fill="#a8402a"/>
<circle cx="204.30" cy="336.62" r="2.68" fill="#b24e2c"/>
<circle cx="153.50" cy="342.50" r="2.35" fill="#b24e2c"/>
<circle cx="179.00" cy="342.50" r="1.58" fill="#a8402a"/>
<circle cx="153.50" cy="348.38" r="3.45" fill="#f0c43a"/>
<circle cx="179.00" cy="348.38" r="1.58" fill="#a8402a"/>
<circle cx="128.60" cy="354.26" r="2.35" fill="#b85a30"/>
<circle cx="179.00" cy="354.26" r="1.47" fill="#a8402a"/>
<circle cx="128.60" cy="360.14" r="2.35" fill="#b85a30"/>
<circle cx="128.60" cy="366.02" r="2.35" fill="#b85a30"/>
<circle cx="179.00" cy="366.02" r="1.47" fill="#a8402a"/>
<circle cx="128.60" cy="371.90" r="2.35" fill="#b85a30"/>
<circle cx="153.50" cy="371.90" r="2.35" fill="#b24e2c"/>
<circle cx="153.50" cy="377.78" r="2.57" fill="#b85a30"/>
<circle cx="179.00" cy="377.78" r="1.80" fill="#b24e2c"/>
<circle cx="204.30" cy="377.78" r="2.35" fill="#b85a30"/>
<circle cx="153.50" cy="383.66" r="4.33" fill="#f6d232"/>
<circle cx="179.00" cy="383.66" r="2.79" fill="#d29444"/>
<circle cx="204.30" cy="383.66" r="3.45" fill="#d29444"/>
<circle cx="128.60" cy="389.54" r="3.45" fill="#c47036"/>
<circle cx="153.50" cy="389.54" r="4.55" fill="#d29444"/>
<circle cx="153.50" cy="395.42" r="3.45" fill="#d29444"/>
<circle cx="179.00" cy="395.42" r="1.80" fill="#b24e2c"/>
<circle cx="179.00" cy="401.30" r="1.36" fill="#a8402a"/>
<circle cx="128.60" cy="407.18" r="2.13" fill="#b85a30"/>
<circle cx="153.50" cy="407.18" r="2.68" fill="#c47036"/>
<circle cx="179.00" cy="407.18" r="1.36" fill="#a8402a"/>
<circle cx="179.00" cy="413.06" r="1.36" fill="#a8402a"/>
<circle cx="179.00" cy="418.94" r="1.36" fill="#a8402a"/>
<circle cx="179.00" cy="424.82" r="1.03" fill="#a8402a"/>
<circle cx="128.60" cy="430.70" r="2.13" fill="#b85a30"/>
<circle cx="153.50" cy="430.70" r="2.13" fill="#b24e2c"/>
<circle cx="128.60" cy="436.58" r="2.46" fill="#b85a30"/>
<circle cx="179.00" cy="436.58" r="1.36" fill="#a8402a"/>
<circle cx="128.60" cy="442.46" r="2.46" fill="#c47036"/>
<circle cx="153.50" cy="448.34" r="2.90" fill="#c47036"/>
<circle cx="179.00" cy="448.34" r="1.14" fill="#a8402a"/>
<circle cx="128.60" cy="454.22" r="2.68" fill="#c47036"/>
<circle cx="153.50" cy="454.22" r="2.90" fill="#b24e2c"/>
<circle cx="179.00" cy="454.22" r="2.13" fill="#b24e2c"/>
<circle cx="128.60" cy="460.10" r="2.13" fill="#b85a30"/>
<circle cx="179.00" cy="460.10" r="1.80" fill="#b24e2c"/>
<circle cx="179.00" cy="465.98" r="1.03" fill="#a8402a"/>
<circle cx="179.00" cy="471.86" r="1.03" fill="#a8402a"/>
<circle cx="153.50" cy="477.74" r="3.23" fill="#d29444"/>
<circle cx="179.00" cy="477.74" r="1.80" fill="#b24e2c"/>
<circle cx="204.30" cy="477.74" r="2.90" fill="#a8402a"/>
<circle cx="128.60" cy="483.62" r="2.57" fill="#c47036"/>
<circle cx="153.50" cy="483.62" r="2.35" fill="#a8402a"/>
<text x="130.80" y="491.2" font-size="5.8" text-anchor="end" fill="#333" transform="rotate(-45 130.80 491.2)">Thorax</text>
<text x="155.70" y="491.2" font-size="5.8" text-anchor="end" fill="#333" transform="rotate(-45 155.70 491.2)">Head</text>
<text x="181.20" y="491.2" font-size="5.8" text-anchor="end" fill="#333" transform="rotate(-45 181.20 491.2)">Abdomen</text>
<text x="206.50" y="491.2" font-size="5.8" text-anchor="end" fill="#333" transform="rotate(-45 206.50 491.2)">Gut</text>
<text x="227.50" y="333.35" font-size="5.0" fill="#222" letter-spacing="0.25">- log<tspan font-size="3.10" dy="1.10">10</tspan><tspan dy="-1.10">adj.p-val</tspan></text>
<defs><linearGradient id="cbe" x1="0" y1="1" x2="0" y2="0"><stop offset="0" stop-color="#8c1a1a"/><stop offset="0.35" stop-color="#b0482a"/><stop offset="0.65" stop-color="#d89236"/><stop offset="1" stop-color="#f8d418"/></linearGradient></defs>
<rect x="227.30" y="337.00" width="8.50" height="40.70" fill="url(#cbe)"/>
<line x1="227.30" y1="346.50" x2="228.80" y2="346.50" stroke="#fff" stroke-width="0.4"/>
<line x1="234.30" y1="346.50" x2="235.80" y2="346.50" stroke="#fff" stroke-width="0.4"/>
<text x="238.60" y="347.97" font-size="4.2" fill="#333">6</text>
<line x1="227.30" y1="357.50" x2="228.80" y2="357.50" stroke="#fff" stroke-width="0.4"/>
<line x1="234.30" y1="357.50" x2="235.80" y2="357.50" stroke="#fff" stroke-width="0.4"/>
<text x="238.60" y="358.97" font-size="4.2" fill="#333">4</text>
<line x1="227.30" y1="368.60" x2="228.80" y2="368.60" stroke="#fff" stroke-width="0.4"/>
<line x1="234.30" y1="368.60" x2="235.80" y2="368.60" stroke="#fff" stroke-width="0.4"/>
<text x="238.60" y="370.07" font-size="4.2" fill="#333">2</text>
<text x="227.70" y="392.75" font-size="5.0" letter-spacing="0.12">Enrichment ratio</text>
<circle cx="231.70" cy="399.50" r="1.90" fill="none" stroke="#222" stroke-width="0.6"/>
<text x="239.20" y="400.97" font-size="4.2" fill="#333">0.1</text>
<circle cx="231.70" cy="407.50" r="3.00" fill="none" stroke="#222" stroke-width="0.6"/>
<text x="239.20" y="408.97" font-size="4.2" fill="#333">0.3</text>
<circle cx="231.70" cy="416.50" r="3.60" fill="none" stroke="#222" stroke-width="0.6"/>
<text x="239.20" y="417.97" font-size="4.2" fill="#333">0.5</text>
<text x="259.60" y="277.00" font-size="10" fill="#111">f</text>
<text x="276.20" y="274.59" font-size="6.55" font-weight="bold">Pathway overlap:</text>
<text x="276.20" y="282.29" font-size="6.55" font-weight="bold">GEMs vs. Metabolomics</text>
<rect x="272.00" y="286.40" width="17.52" height="6.85" fill="#e8262a" stroke="#b4b4b4" stroke-width="0.45"/>
<rect x="289.52" y="286.40" width="17.52" height="6.85" fill="#f7a01e" stroke="#b4b4b4" stroke-width="0.45"/>
<rect x="307.04" y="286.40" width="17.52" height="6.85" fill="#fbbf14" stroke="#b4b4b4" stroke-width="0.45"/>
<rect x="324.56" y="286.40" width="17.52" height="6.85" fill="#ffffff" stroke="#b4b4b4" stroke-width="0.45"/>
<text x="343.0" y="291.57" font-size="5.0" fill="#111" stroke="#111" stroke-width="0.12">muscleCell</text>
<rect x="272.00" y="293.25" width="17.52" height="6.85" fill="#e84a2a" stroke="#b4b4b4" stroke-width="0.45"/>
<rect x="289.52" y="293.25" width="17.52" height="6.85" fill="#fbb714" stroke="#b4b4b4" stroke-width="0.45"/>
<rect x="307.04" y="293.25" width="17.52" height="6.85" fill="#fbc014" stroke="#b4b4b4" stroke-width="0.45"/>
<rect x="324.56" y="293.25" width="17.52" height="6.85" fill="#ffffff" stroke="#b4b4b4" stroke-width="0.45"/>
<text x="343.0" y="298.43" font-size="5.0" fill="#111" stroke="#111" stroke-width="0.12">indirectFlightMuscle</text>
<rect x="272.00" y="300.10" width="17.52" height="6.85" fill="#f5e040" stroke="#b4b4b4" stroke-width="0.45"/>
<rect x="289.52" y="300.10" width="17.52" height="6.85" fill="#f4e52a" stroke="#b4b4b4" stroke-width="0.45"/>
<rect x="307.04" y="300.10" width="17.52" height="6.85" fill="#fbe20a" stroke="#b4b4b4" stroke-width="0.45"/>
<rect x="324.56" y="300.10" width="17.52" height="6.85" fill="#faf2b0" stroke="#b4b4b4" stroke-width="0.45"/>
<text x="343.0" y="305.27" font-size="5.0" fill="#111" stroke="#111" stroke-width="0.12">adultFatBody</text>
<rect x="272.00" y="306.95" width="17.52" height="6.85" fill="#f7e424" stroke="#b4b4b4" stroke-width="0.45"/>
<rect x="289.52" y="306.95" width="17.52" height="6.85" fill="#fbcb14" stroke="#b4b4b4" stroke-width="0.45"/>
<rect x="307.04" y="306.95" width="17.52" height="6.85" fill="#f9a81e" stroke="#b4b4b4" stroke-width="0.45"/>
<rect x="324.56" y="306.95" width="17.52" height="6.85" fill="#f8eea0" stroke="#b4b4b4" stroke-width="0.45"/>
<text x="343.0" y="312.12" font-size="5.0" fill="#111" stroke="#111" stroke-width="0.12">adultOenocyte</text>
<rect x="272.00" y="313.80" width="17.52" height="6.85" fill="#f6e620" stroke="#b4b4b4" stroke-width="0.45"/>
<rect x="289.52" y="313.80" width="17.52" height="6.85" fill="#fbcf14" stroke="#b4b4b4" stroke-width="0.45"/>
<rect x="307.04" y="313.80" width="17.52" height="6.85" fill="#f9a81e" stroke="#b4b4b4" stroke-width="0.45"/>
<rect x="324.56" y="313.80" width="17.52" height="6.85" fill="#f8eea0" stroke="#b4b4b4" stroke-width="0.45"/>
<text x="343.0" y="318.97" font-size="5.0" fill="#111" stroke="#111" stroke-width="0.12">adultHindgut</text>
<rect x="272.00" y="320.65" width="17.52" height="6.85" fill="#fbe10e" stroke="#b4b4b4" stroke-width="0.45"/>
<rect x="289.52" y="320.65" width="17.52" height="6.85" fill="#fbd60e" stroke="#b4b4b4" stroke-width="0.45"/>
<rect x="307.04" y="320.65" width="17.52" height="6.85" fill="#ec5424" stroke="#b4b4b4" stroke-width="0.45"/>
<rect x="324.56" y="320.65" width="17.52" height="6.85" fill="#f8eea0" stroke="#b4b4b4" stroke-width="0.45"/>
<text x="343.0" y="325.82" font-size="5.0" fill="#111" stroke="#111" stroke-width="0.12">enteroendocrineCell</text>
<rect x="272.00" y="327.50" width="17.52" height="6.85" fill="#f9a01e" stroke="#b4b4b4" stroke-width="0.45"/>
<rect x="289.52" y="327.50" width="17.52" height="6.85" fill="#f9ab1e" stroke="#b4b4b4" stroke-width="0.45"/>
<rect x="307.04" y="327.50" width="17.52" height="6.85" fill="#f9a41e" stroke="#b4b4b4" stroke-width="0.45"/>
<rect x="324.56" y="327.50" width="17.52" height="6.85" fill="#ffffff" stroke="#b4b4b4" stroke-width="0.45"/>
<text x="343.0" y="332.68" font-size="5.0" fill="#111" stroke="#111" stroke-width="0.12">multidendriticNeuron</text>
<rect x="272.00" y="334.35" width="17.52" height="6.85" fill="#f8ea18" stroke="#b4b4b4" stroke-width="0.45"/>
<rect x="289.52" y="334.35" width="17.52" height="6.85" fill="#f9c014" stroke="#b4b4b4" stroke-width="0.45"/>
<rect x="307.04" y="334.35" width="17.52" height="6.85" fill="#f9a81e" stroke="#b4b4b4" stroke-width="0.45"/>
<rect x="324.56" y="334.35" width="17.52" height="6.85" fill="#f9b51a" stroke="#b4b4b4" stroke-width="0.45"/>
<text x="343.0" y="339.52" font-size="5.0" fill="#111" stroke="#111" stroke-width="0.12">gustatoryReceptorNeuron</text>
<rect x="272.00" y="341.20" width="17.52" height="6.85" fill="#f59020" stroke="#b4b4b4" stroke-width="0.45"/>
<rect x="289.52" y="341.20" width="17.52" height="6.85" fill="#fbc014" stroke="#b4b4b4" stroke-width="0.45"/>
<rect x="307.04" y="341.20" width="17.52" height="6.85" fill="#f5e030" stroke="#b4b4b4" stroke-width="0.45"/>
<rect x="324.56" y="341.20" width="17.52" height="6.85" fill="#ec5a22" stroke="#b4b4b4" stroke-width="0.45"/>
<text x="343.0" y="346.38" font-size="5.0" fill="#111" stroke="#111" stroke-width="0.12">adultPeripheralNervousSystem</text>
<rect x="272.00" y="348.05" width="17.52" height="6.85" fill="#fbd814" stroke="#b4b4b4" stroke-width="0.45"/>
<rect x="289.52" y="348.05" width="17.52" height="6.85" fill="#f9b01a" stroke="#b4b4b4" stroke-width="0.45"/>
<rect x="307.04" y="348.05" width="17.52" height="6.85" fill="#ee5a24" stroke="#b4b4b4" stroke-width="0.45"/>
<rect x="324.56" y="348.05" width="17.52" height="6.85" fill="#f6e020" stroke="#b4b4b4" stroke-width="0.45"/>
<text x="343.0" y="353.22" font-size="5.0" fill="#111" stroke="#111" stroke-width="0.12">legMuscleMotorNeuron</text>
<rect x="272.00" y="354.90" width="17.52" height="6.85" fill="#f5842a" stroke="#b4b4b4" stroke-width="0.45"/>
<rect x="289.52" y="354.90" width="17.52" height="6.85" fill="#f47e28" stroke="#b4b4b4" stroke-width="0.45"/>
<rect x="307.04" y="354.90" width="17.52" height="6.85" fill="#f9a81e" stroke="#b4b4b4" stroke-width="0.45"/>
<rect x="324.56" y="354.90" width="17.52" height="6.85" fill="#fbe014" stroke="#b4b4b4" stroke-width="0.45"/>
<text x="343.0" y="360.07" font-size="5.0" fill="#111" stroke="#111" stroke-width="0.12">adultVentralNervousSystem</text>
<rect x="272.00" y="361.75" width="17.52" height="6.85" fill="#fbd814" stroke="#b4b4b4" stroke-width="0.45"/>
<rect x="289.52" y="361.75" width="17.52" height="6.85" fill="#f9f0b0" stroke="#b4b4b4" stroke-width="0.45"/>
<rect x="307.04" y="361.75" width="17.52" height="6.85" fill="#ffffff" stroke="#b4b4b4" stroke-width="0.45"/>
<rect x="324.56" y="361.75" width="17.52" height="6.85" fill="#ffffff" stroke="#b4b4b4" stroke-width="0.45"/>
<text x="343.0" y="366.93" font-size="5.0" fill="#111" stroke="#111" stroke-width="0.12">scolopidialNeuron</text>
<rect x="272.00" y="368.60" width="17.52" height="6.85" fill="#fbd814" stroke="#b4b4b4" stroke-width="0.45"/>
<rect x="289.52" y="368.60" width="17.52" height="6.85" fill="#f6ea6a" stroke="#b4b4b4" stroke-width="0.45"/>
<rect x="307.04" y="368.60" width="17.52" height="6.85" fill="#f7e890" stroke="#b4b4b4" stroke-width="0.45"/>
<rect x="324.56" y="368.60" width="17.52" height="6.85" fill="#ffffff" stroke="#b4b4b4" stroke-width="0.45"/>
<text x="343.0" y="373.77" font-size="5.0" fill="#111" stroke="#111" stroke-width="0.12">legTasteBristleChemosensoryNeuron</text>
<rect x="272.00" y="375.45" width="17.52" height="6.85" fill="#fbd814" stroke="#b4b4b4" stroke-width="0.45"/>
<rect x="289.52" y="375.45" width="17.52" height="6.85" fill="#fbe014" stroke="#b4b4b4" stroke-width="0.45"/>
<rect x="307.04" y="375.45" width="17.52" height="6.85" fill="#f9a81e" stroke="#b4b4b4" stroke-width="0.45"/>
<rect x="324.56" y="375.45" width="17.52" height="6.85" fill="#f8eea0" stroke="#b4b4b4" stroke-width="0.45"/>
<text x="343.0" y="380.62" font-size="5.0" fill="#111" stroke="#111" stroke-width="0.12">adultGlialCell</text>
<rect x="272.00" y="382.30" width="17.52" height="6.85" fill="#f9b41a" stroke="#b4b4b4" stroke-width="0.45"/>
<rect x="289.52" y="382.30" width="17.52" height="6.85" fill="#f9a81e" stroke="#b4b4b4" stroke-width="0.45"/>
<rect x="307.04" y="382.30" width="17.52" height="6.85" fill="#e8302a" stroke="#b4b4b4" stroke-width="0.45"/>
<rect x="324.56" y="382.30" width="17.52" height="6.85" fill="#f6e020" stroke="#b4b4b4" stroke-width="0.45"/>
<text x="343.0" y="387.47" font-size="5.0" fill="#111" stroke="#111" stroke-width="0.12">adultReticularNeuropilAssociatedGlialCell</text>
<rect x="272.00" y="389.15" width="17.52" height="6.85" fill="#fbd814" stroke="#b4b4b4" stroke-width="0.45"/>
<rect x="289.52" y="389.15" width="17.52" height="6.85" fill="#f5802a" stroke="#b4b4b4" stroke-width="0.45"/>
<rect x="307.04" y="389.15" width="17.52" height="6.85" fill="#ee5024" stroke="#b4b4b4" stroke-width="0.45"/>
<rect x="324.56" y="389.15" width="17.52" height="6.85" fill="#f8ea80" stroke="#b4b4b4" stroke-width="0.45"/>
<text x="343.0" y="394.32" font-size="5.0" fill="#111" stroke="#111" stroke-width="0.12">cellBodyGlialCell</text>
<rect x="272.00" y="396.00" width="17.52" height="6.85" fill="#f9a020" stroke="#b4b4b4" stroke-width="0.45"/>
<rect x="289.52" y="396.00" width="17.52" height="6.85" fill="#f9b01a" stroke="#b4b4b4" stroke-width="0.45"/>
<rect x="307.04" y="396.00" width="17.52" height="6.85" fill="#f69022" stroke="#b4b4b4" stroke-width="0.45"/>
<rect x="324.56" y="396.00" width="17.52" height="6.85" fill="#f8ea80" stroke="#b4b4b4" stroke-width="0.45"/>
<text x="343.0" y="401.18" font-size="5.0" fill="#111" stroke="#111" stroke-width="0.12">CNSSurfaceAssociatedGlialCell</text>
<rect x="272.00" y="402.85" width="17.52" height="6.85" fill="#fbe014" stroke="#b4b4b4" stroke-width="0.45"/>
<rect x="289.52" y="402.85" width="17.52" height="6.85" fill="#fbb81a" stroke="#b4b4b4" stroke-width="0.45"/>
<rect x="307.04" y="402.85" width="17.52" height="6.85" fill="#f59424" stroke="#b4b4b4" stroke-width="0.45"/>
<rect x="324.56" y="402.85" width="17.52" height="6.85" fill="#f8ea80" stroke="#b4b4b4" stroke-width="0.45"/>
<text x="343.0" y="408.02" font-size="5.0" fill="#111" stroke="#111" stroke-width="0.12">perineurialGlialSheath</text>
<rect x="272.00" y="409.70" width="17.52" height="6.85" fill="#fbe014" stroke="#b4b4b4" stroke-width="0.45"/>
<rect x="289.52" y="409.70" width="17.52" height="6.85" fill="#fbd014" stroke="#b4b4b4" stroke-width="0.45"/>
<rect x="307.04" y="409.70" width="17.52" height="6.85" fill="#f06a26" stroke="#b4b4b4" stroke-width="0.45"/>
<rect x="324.56" y="409.70" width="17.52" height="6.85" fill="#f8ea80" stroke="#b4b4b4" stroke-width="0.45"/>
<text x="343.0" y="414.88" font-size="5.0" fill="#111" stroke="#111" stroke-width="0.12">subperineurialGlialCell</text>
<rect x="272.00" y="416.55" width="17.52" height="6.85" fill="#fbd014" stroke="#b4b4b4" stroke-width="0.45"/>
<rect x="289.52" y="416.55" width="17.52" height="6.85" fill="#fbd014" stroke="#b4b4b4" stroke-width="0.45"/>
<rect x="307.04" y="416.55" width="17.52" height="6.85" fill="#ee5426" stroke="#b4b4b4" stroke-width="0.45"/>
<rect x="324.56" y="416.55" width="17.52" height="6.85" fill="#f8ea80" stroke="#b4b4b4" stroke-width="0.45"/>
<text x="343.0" y="421.72" font-size="5.0" fill="#111" stroke="#111" stroke-width="0.12">adultTrachealCell</text>
<rect x="272.00" y="423.40" width="17.52" height="6.85" fill="#fbd014" stroke="#b4b4b4" stroke-width="0.45"/>
<rect x="289.52" y="423.40" width="17.52" height="6.85" fill="#fbb01a" stroke="#b4b4b4" stroke-width="0.45"/>
<rect x="307.04" y="423.40" width="17.52" height="6.85" fill="#ec4a26" stroke="#b4b4b4" stroke-width="0.45"/>
<rect x="324.56" y="423.40" width="17.52" height="6.85" fill="#f8ea60" stroke="#b4b4b4" stroke-width="0.45"/>
<text x="343.0" y="428.57" font-size="5.0" fill="#111" stroke="#111" stroke-width="0.12">ecSupportCell</text>
<rect x="272.00" y="430.25" width="17.52" height="6.85" fill="#fbe014" stroke="#b4b4b4" stroke-width="0.45"/>
<rect x="289.52" y="430.25" width="17.52" height="6.85" fill="#fbe014" stroke="#b4b4b4" stroke-width="0.45"/>
<rect x="307.04" y="430.25" width="17.52" height="6.85" fill="#f9a01e" stroke="#b4b4b4" stroke-width="0.45"/>
<rect x="324.56" y="430.25" width="17.52" height="6.85" fill="#f8eea0" stroke="#b4b4b4" stroke-width="0.45"/>
<text x="343.0" y="435.43" font-size="5.0" fill="#111" stroke="#111" stroke-width="0.12">epithelialCell</text>
<rect x="272.00" y="437.10" width="17.52" height="6.85" fill="#fbe014" stroke="#b4b4b4" stroke-width="0.45"/>
<rect x="289.52" y="437.10" width="17.52" height="6.85" fill="#fbc014" stroke="#b4b4b4" stroke-width="0.45"/>
<rect x="307.04" y="437.10" width="17.52" height="6.85" fill="#f9981e" stroke="#b4b4b4" stroke-width="0.45"/>
<rect x="324.56" y="437.10" width="17.52" height="6.85" fill="#f8eea0" stroke="#b4b4b4" stroke-width="0.45"/>
<text x="343.0" y="442.27" font-size="5.0" fill="#111" stroke="#111" stroke-width="0.12">escortCell</text>
<rect x="272.00" y="443.95" width="17.52" height="6.85" fill="#fbe014" stroke="#b4b4b4" stroke-width="0.45"/>
<rect x="289.52" y="443.95" width="17.52" height="6.85" fill="#fbe014" stroke="#b4b4b4" stroke-width="0.45"/>
<rect x="307.04" y="443.95" width="17.52" height="6.85" fill="#fbc014" stroke="#b4b4b4" stroke-width="0.45"/>
<rect x="324.56" y="443.95" width="17.52" height="6.85" fill="#f9f0b0" stroke="#b4b4b4" stroke-width="0.45"/>
<text x="343.0" y="449.12" font-size="5.0" fill="#111" stroke="#111" stroke-width="0.12">maleAccessoryGland</text>
<rect x="272.00" y="450.80" width="17.52" height="6.85" fill="#fbe014" stroke="#b4b4b4" stroke-width="0.45"/>
<rect x="289.52" y="450.80" width="17.52" height="6.85" fill="#fbe614" stroke="#b4b4b4" stroke-width="0.45"/>
<rect x="307.04" y="450.80" width="17.52" height="6.85" fill="#fbc014" stroke="#b4b4b4" stroke-width="0.45"/>
<rect x="324.56" y="450.80" width="17.52" height="6.85" fill="#f9f0b0" stroke="#b4b4b4" stroke-width="0.45"/>
<text x="343.0" y="455.97" font-size="5.0" fill="#111" stroke="#111" stroke-width="0.12">femaleReproductiveSystem</text>
<rect x="272.00" y="457.65" width="17.52" height="6.85" fill="#f7e024" stroke="#b4b4b4" stroke-width="0.45"/>
<rect x="289.52" y="457.65" width="17.52" height="6.85" fill="#fbe014" stroke="#b4b4b4" stroke-width="0.45"/>
<rect x="307.04" y="457.65" width="17.52" height="6.85" fill="#fbc014" stroke="#b4b4b4" stroke-width="0.45"/>
<rect x="324.56" y="457.65" width="17.52" height="6.85" fill="#f9f0b0" stroke="#b4b4b4" stroke-width="0.45"/>
<text x="343.0" y="462.82" font-size="5.0" fill="#111" stroke="#111" stroke-width="0.12">germlineCell</text>
<rect x="272.00" y="464.50" width="17.52" height="6.85" fill="#f9b01a" stroke="#b4b4b4" stroke-width="0.45"/>
<rect x="289.52" y="464.50" width="17.52" height="6.85" fill="#fbd014" stroke="#b4b4b4" stroke-width="0.45"/>
<rect x="307.04" y="464.50" width="17.52" height="6.85" fill="#f6e020" stroke="#b4b4b4" stroke-width="0.45"/>
<rect x="324.56" y="464.50" width="17.52" height="6.85" fill="#ffffff" stroke="#b4b4b4" stroke-width="0.45"/>
<text x="343.0" y="469.68" font-size="5.0" fill="#111" stroke="#111" stroke-width="0.12">polarFollicleCell</text>
<rect x="272.00" y="471.35" width="17.52" height="6.85" fill="#fbe014" stroke="#b4b4b4" stroke-width="0.45"/>
<rect x="289.52" y="471.35" width="17.52" height="6.85" fill="#f8e820" stroke="#b4b4b4" stroke-width="0.45"/>
<rect x="307.04" y="471.35" width="17.52" height="6.85" fill="#f69022" stroke="#b4b4b4" stroke-width="0.45"/>
<rect x="324.56" y="471.35" width="17.52" height="6.85" fill="#f8ea80" stroke="#b4b4b4" stroke-width="0.45"/>
<text x="343.0" y="476.52" font-size="5.0" fill="#111" stroke="#111" stroke-width="0.12">follicleCell</text>
<rect x="272.00" y="478.20" width="17.52" height="6.85" fill="#f9a81e" stroke="#b4b4b4" stroke-width="0.45"/>
<rect x="289.52" y="478.20" width="17.52" height="6.85" fill="#f9b01a" stroke="#b4b4b4" stroke-width="0.45"/>
<rect x="307.04" y="478.20" width="17.52" height="6.85" fill="#f6902a" stroke="#b4b4b4" stroke-width="0.45"/>
<rect x="324.56" y="478.20" width="17.52" height="6.85" fill="#f8ea80" stroke="#b4b4b4" stroke-width="0.45"/>
<text x="343.0" y="483.37" font-size="5.0" fill="#111" stroke="#111" stroke-width="0.12">follicleCellSt_9_</text>
<rect x="272.00" y="485.05" width="17.52" height="6.85" fill="#ffffff" stroke="#b4b4b4" stroke-width="0.45"/>
<rect x="289.52" y="485.05" width="17.52" height="6.85" fill="#ffffff" stroke="#b4b4b4" stroke-width="0.45"/>
<rect x="307.04" y="485.05" width="17.52" height="6.85" fill="#ffffff" stroke="#b4b4b4" stroke-width="0.45"/>
<rect x="324.56" y="485.05" width="17.52" height="6.85" fill="#ffffff" stroke="#b4b4b4" stroke-width="0.45"/>
<text x="343.0" y="490.22" font-size="5.0" fill="#111" stroke="#111" stroke-width="0.12">prefollicleCell_stalkFollicleCell</text>
<rect x="272.00" y="491.90" width="17.52" height="6.85" fill="#f8e818" stroke="#b4b4b4" stroke-width="0.45"/>
<rect x="289.52" y="491.90" width="17.52" height="6.85" fill="#ec4426" stroke="#b4b4b4" stroke-width="0.45"/>
<rect x="307.04" y="491.90" width="17.52" height="6.85" fill="#ec4426" stroke="#b4b4b4" stroke-width="0.45"/>
<rect x="324.56" y="491.90" width="17.52" height="6.85" fill="#ffffff" stroke="#b4b4b4" stroke-width="0.45"/>
<text x="343.0" y="497.07" font-size="5.0" fill="#111" stroke="#111" stroke-width="0.12">hemocyte</text>
<rect x="272.00" y="498.75" width="17.52" height="6.85" fill="#f9a020" stroke="#b4b4b4" stroke-width="0.45"/>
<rect x="289.52" y="498.75" width="17.52" height="6.85" fill="#f9a01e" stroke="#b4b4b4" stroke-width="0.45"/>
<rect x="307.04" y="498.75" width="17.52" height="6.85" fill="#f68a24" stroke="#b4b4b4" stroke-width="0.45"/>
<rect x="324.56" y="498.75" width="17.52" height="6.85" fill="#f6e440" stroke="#b4b4b4" stroke-width="0.45"/>
<text x="343.0" y="503.93" font-size="5.0" fill="#111" stroke="#111" stroke-width="0.12">spermatocyte</text>
<text x="283.36" y="509.6" font-size="5.5" text-anchor="end" fill="#222" transform="rotate(-43 283.36 509.6)">Thorax</text>
<text x="300.88" y="509.6" font-size="5.5" text-anchor="end" fill="#222" transform="rotate(-43 300.88 509.6)">Head</text>
<text x="318.40" y="509.6" font-size="5.5" text-anchor="end" fill="#222" transform="rotate(-43 318.40 509.6)">Abdomen</text>
<text x="335.92" y="509.6" font-size="5.5" text-anchor="end" fill="#222" transform="rotate(-43 335.92 509.6)">Gut</text>
<defs><linearGradient id="cbf" x1="0" y1="1" x2="0" y2="0"><stop offset="0" stop-color="#ffffff"/><stop offset="0.18" stop-color="#fdf6c0"/><stop offset="0.4" stop-color="#fbe51a"/><stop offset="0.65" stop-color="#f9ac1c"/><stop offset="1" stop-color="#e8262a"/></linearGradient></defs>
<rect x="440.20" y="286.30" width="4.20" height="61.70" fill="url(#cbf)"/>
<text x="446.40" y="303.26" font-size="3.6" fill="#333">0.6</text>
<text x="446.40" y="319.36" font-size="3.6" fill="#333">0.4</text>
<text x="446.40" y="335.56" font-size="3.6" fill="#333">0.2</text>
<text x="446.40" y="351.26" font-size="3.6" fill="#333">0</text>
<text x="457.50" y="274.40" font-size="10" fill="#111">g</text>
<text x="529.50" y="285.35" font-size="6.7" text-anchor="middle" font-weight="bold" fill="#111">Muscle-GEM vs. Metabolomics</text>
<line x1="479.60" y1="375.00" x2="576.80" y2="375.00" stroke="#e2e2e2" stroke-width="0.5"/>
<line x1="479.60" y1="375.00" x2="480.60" y2="375.00" stroke="#444" stroke-width="0.4"/>
<text x="478.10" y="376.30" font-size="3.7" text-anchor="end" fill="#333">0</text>
<line x1="479.60" y1="359.42" x2="576.80" y2="359.42" stroke="#e2e2e2" stroke-width="0.5"/>
<line x1="479.60" y1="359.42" x2="480.60" y2="359.42" stroke="#444" stroke-width="0.4"/>
<text x="478.10" y="360.72" font-size="3.7" text-anchor="end" fill="#333">0.2</text>
<line x1="479.60" y1="343.84" x2="576.80" y2="343.84" stroke="#e2e2e2" stroke-width="0.5"/>
<line x1="479.60" y1="343.84" x2="480.60" y2="343.84" stroke="#444" stroke-width="0.4"/>
<text x="478.10" y="345.14" font-size="3.7" text-anchor="end" fill="#333">0.4</text>
<line x1="479.60" y1="328.26" x2="576.80" y2="328.26" stroke="#e2e2e2" stroke-width="0.5"/>
<line x1="479.60" y1="328.26" x2="480.60" y2="328.26" stroke="#444" stroke-width="0.4"/>
<text x="478.10" y="329.56" font-size="3.7" text-anchor="end" fill="#333">0.6</text>
<line x1="479.60" y1="312.68" x2="576.80" y2="312.68" stroke="#e2e2e2" stroke-width="0.5"/>
<line x1="479.60" y1="312.68" x2="480.60" y2="312.68" stroke="#444" stroke-width="0.4"/>
<text x="478.10" y="313.98" font-size="3.7" text-anchor="end" fill="#333">0.8</text>
<line x1="479.60" y1="297.10" x2="576.80" y2="297.10" stroke="#e2e2e2" stroke-width="0.5"/>
<line x1="479.60" y1="297.10" x2="480.60" y2="297.10" stroke="#444" stroke-width="0.4"/>
<text x="478.10" y="298.40" font-size="3.7" text-anchor="end" fill="#333">1</text>
<line x1="499.40" y1="297.10" x2="499.40" y2="375.00" stroke="#e2e2e2" stroke-width="0.5"/>
<line x1="518.50" y1="297.10" x2="518.50" y2="375.00" stroke="#e2e2e2" stroke-width="0.5"/>
<line x1="537.90" y1="297.10" x2="537.90" y2="375.00" stroke="#e2e2e2" stroke-width="0.5"/>
<line x1="557.20" y1="297.10" x2="557.20" y2="375.00" stroke="#e2e2e2" stroke-width="0.5"/>
<line x1="479.60" y1="297.10" x2="479.60" y2="375.00" stroke="#777" stroke-width="0.7"/>
<line x1="479.60" y1="375.00" x2="576.80" y2="375.00" stroke="#999" stroke-width="1.0"/>
<text x="469.30" y="336.05" font-size="4.0" text-anchor="middle" font-weight="bold" fill="#222" transform="rotate(-90 469.30 336.05)">Weighted Jaccard Index</text>
<line x1="499.40" y1="335.50" x2="499.40" y2="351.63" stroke="#c8c8c8" stroke-width="0.8"/>
<line x1="499.40" y1="297.10" x2="499.40" y2="306.45" stroke="#444" stroke-width="0.65"/>
<line x1="499.40" y1="318.52" x2="499.40" y2="335.50" stroke="#444" stroke-width="0.65"/>
<line x1="497.00" y1="297.10" x2="501.80" y2="297.10" stroke="#444" stroke-width="0.6"/>
<line x1="497.00" y1="335.50" x2="501.80" y2="335.50" stroke="#444" stroke-width="0.6"/>
<rect x="494.50" y="306.45" width="9.80" height="12.07" fill="#c6d4ea" stroke="#5b9bd5" stroke-width="0.55"/>
<line x1="494.50" y1="311.51" x2="504.30" y2="311.51" stroke="#2f6fb5" stroke-width="0.55"/>
<circle cx="499.40" cy="313.07" r="0.70" fill="#e02020"/>
<line x1="518.50" y1="297.10" x2="518.50" y2="298.27" stroke="#c8c8c8" stroke-width="0.8"/>
<line x1="518.50" y1="298.27" x2="518.50" y2="324.75" stroke="#444" stroke-width="0.65"/>
<line x1="518.50" y1="342.28" x2="518.50" y2="360.98" stroke="#444" stroke-width="0.65"/>
<line x1="516.10" y1="298.27" x2="520.90" y2="298.27" stroke="#444" stroke-width="0.6"/>
<line x1="516.10" y1="360.98" x2="520.90" y2="360.98" stroke="#444" stroke-width="0.6"/>
<rect x="513.60" y="324.75" width="9.80" height="17.53" fill="#c6d4ea" stroke="#5b9bd5" stroke-width="0.55"/>
<line x1="513.60" y1="333.32" x2="523.40" y2="333.32" stroke="#2f6fb5" stroke-width="0.55"/>
<circle cx="518.50" cy="334.10" r="0.70" fill="#e02020"/>
<line x1="537.90" y1="297.10" x2="537.90" y2="314.24" stroke="#c8c8c8" stroke-width="0.8"/>
<line x1="537.90" y1="314.24" x2="537.90" y2="333.32" stroke="#444" stroke-width="0.65"/>
<line x1="537.90" y1="346.41" x2="537.90" y2="363.31" stroke="#444" stroke-width="0.65"/>
<line x1="535.50" y1="314.24" x2="540.30" y2="314.24" stroke="#444" stroke-width="0.6"/>
<line x1="535.50" y1="363.31" x2="540.30" y2="363.31" stroke="#444" stroke-width="0.6"/>
<rect x="533.00" y="333.32" width="9.80" height="13.09" fill="#c6d4ea" stroke="#5b9bd5" stroke-width="0.55"/>
<line x1="533.00" y1="340.49" x2="542.80" y2="340.49" stroke="#2f6fb5" stroke-width="0.55"/>
<circle cx="537.90" cy="339.94" r="0.70" fill="#e02020"/>
<text x="518.50" y="294.67" font-size="4.2" text-anchor="middle" font-weight="bold" fill="#555">***</text>
<text x="537.90" y="294.67" font-size="4.2" text-anchor="middle" font-weight="bold" fill="#555">***</text>
<text x="557.20" y="294.67" font-size="4.2" text-anchor="middle" font-weight="bold" fill="#555">***</text>
<text x="499.40" y="380.61" font-size="4.6" text-anchor="middle" font-weight="bold" fill="#111">Thorax</text>
<text x="518.50" y="380.61" font-size="4.6" text-anchor="middle" font-weight="bold" fill="#111">Head</text>
<text x="537.90" y="380.61" font-size="4.6" text-anchor="middle" font-weight="bold" fill="#111">Abdomen</text>
<text x="557.20" y="380.61" font-size="4.6" text-anchor="middle" font-weight="bold" fill="#111">Gut</text>
<line x1="553.00" y1="374.60" x2="561.40" y2="374.60" stroke="#5b9bd5" stroke-width="0.8"/>
<circle cx="557.20" cy="374.80" r="0.80" fill="#e02020"/>
<text x="457.00" y="409.96" font-size="9.6" fill="#111">h</text>
<text x="526.20" y="411.35" font-size="6.7" text-anchor="middle" font-weight="bold" fill="#111">Fatbody-GEM vs. Metabolomics</text>
<line x1="475.60" y1="500.60" x2="572.80" y2="500.60" stroke="#e2e2e2" stroke-width="0.5"/>
<line x1="475.60" y1="500.60" x2="476.60" y2="500.60" stroke="#444" stroke-width="0.4"/>
<text x="474.10" y="501.90" font-size="3.7" text-anchor="end" fill="#333">0</text>
<line x1="475.60" y1="489.57" x2="572.80" y2="489.57" stroke="#e2e2e2" stroke-width="0.5"/>
<line x1="475.60" y1="489.57" x2="476.60" y2="489.57" stroke="#444" stroke-width="0.4"/>
<text x="474.10" y="490.87" font-size="3.7" text-anchor="end" fill="#333">0.1</text>
<line x1="475.60" y1="478.54" x2="572.80" y2="478.54" stroke="#e2e2e2" stroke-width="0.5"/>
<line x1="475.60" y1="478.54" x2="476.60" y2="478.54" stroke="#444" stroke-width="0.4"/>
<text x="474.10" y="479.84" font-size="3.7" text-anchor="end" fill="#333">0.2</text>
<line x1="475.60" y1="467.51" x2="572.80" y2="467.51" stroke="#e2e2e2" stroke-width="0.5"/>
<line x1="475.60" y1="467.51" x2="476.60" y2="467.51" stroke="#444" stroke-width="0.4"/>
<text x="474.10" y="468.81" font-size="3.7" text-anchor="end" fill="#333">0.3</text>
<line x1="475.60" y1="456.49" x2="572.80" y2="456.49" stroke="#e2e2e2" stroke-width="0.5"/>
<line x1="475.60" y1="456.49" x2="476.60" y2="456.49" stroke="#444" stroke-width="0.4"/>
<text x="474.10" y="457.78" font-size="3.7" text-anchor="end" fill="#333">0.4</text>
<line x1="475.60" y1="445.46" x2="572.80" y2="445.46" stroke="#e2e2e2" stroke-width="0.5"/>
<line x1="475.60" y1="445.46" x2="476.60" y2="445.46" stroke="#444" stroke-width="0.4"/>
<text x="474.10" y="446.75" font-size="3.7" text-anchor="end" fill="#333">0.5</text>
<line x1="475.60" y1="434.43" x2="572.80" y2="434.43" stroke="#e2e2e2" stroke-width="0.5"/>
<line x1="475.60" y1="434.43" x2="476.60" y2="434.43" stroke="#444" stroke-width="0.4"/>
<text x="474.10" y="435.72" font-size="3.7" text-anchor="end" fill="#333">0.6</text>
<line x1="475.60" y1="423.40" x2="572.80" y2="423.40" stroke="#e2e2e2" stroke-width="0.5"/>
<line x1="475.60" y1="423.40" x2="476.60" y2="423.40" stroke="#444" stroke-width="0.4"/>
<text x="474.10" y="424.69" font-size="3.7" text-anchor="end" fill="#333">0.7</text>
<line x1="495.70" y1="423.40" x2="495.70" y2="500.60" stroke="#e2e2e2" stroke-width="0.5"/>
<line x1="514.60" y1="423.40" x2="514.60" y2="500.60" stroke="#e2e2e2" stroke-width="0.5"/>
<line x1="533.80" y1="423.40" x2="533.80" y2="500.60" stroke="#e2e2e2" stroke-width="0.5"/>
<line x1="553.30" y1="423.40" x2="553.30" y2="500.60" stroke="#e2e2e2" stroke-width="0.5"/>
<line x1="475.60" y1="423.40" x2="475.60" y2="500.60" stroke="#777" stroke-width="0.7"/>
<line x1="475.60" y1="500.60" x2="572.80" y2="500.60" stroke="#999" stroke-width="1.0"/>
<text x="465.50" y="462.00" font-size="4.0" text-anchor="middle" font-weight="bold" fill="#222" transform="rotate(-90 465.50 462.00)">Weighted Jaccard Index</text>
<line x1="495.70" y1="457.59" x2="495.70" y2="468.18" stroke="#c8c8c8" stroke-width="0.8"/>
<line x1="495.70" y1="468.18" x2="495.70" y2="477.22" stroke="#444" stroke-width="0.65"/>
<line x1="495.70" y1="483.40" x2="495.70" y2="492.99" stroke="#444" stroke-width="0.65"/>
<line x1="493.30" y1="468.18" x2="498.10" y2="468.18" stroke="#444" stroke-width="0.6"/>
<line x1="493.30" y1="492.99" x2="498.10" y2="492.99" stroke="#444" stroke-width="0.6"/>
<rect x="490.80" y="477.22" width="9.80" height="6.18" fill="#c6d4ea" stroke="#5b9bd5" stroke-width="0.55"/>
<line x1="490.80" y1="480.42" x2="500.60" y2="480.42" stroke="#2f6fb5" stroke-width="0.55"/>
<circle cx="495.70" cy="480.42" r="0.70" fill="#e02020"/>
<line x1="514.60" y1="452.07" x2="514.60" y2="460.35" stroke="#c8c8c8" stroke-width="0.8"/>
<line x1="514.60" y1="460.35" x2="514.60" y2="471.71" stroke="#444" stroke-width="0.65"/>
<line x1="514.60" y1="479.31" x2="514.60" y2="490.23" stroke="#444" stroke-width="0.65"/>
<line x1="512.20" y1="460.35" x2="517.00" y2="460.35" stroke="#444" stroke-width="0.6"/>
<line x1="512.20" y1="490.23" x2="517.00" y2="490.23" stroke="#444" stroke-width="0.6"/>
<rect x="509.70" y="471.71" width="9.80" height="7.61" fill="#c6d4ea" stroke="#5b9bd5" stroke-width="0.55"/>
<line x1="509.70" y1="475.12" x2="519.50" y2="475.12" stroke="#2f6fb5" stroke-width="0.55"/>
<circle cx="514.60" cy="475.45" r="0.70" fill="#e02020"/>
<line x1="533.80" y1="436.63" x2="533.80" y2="444.57" stroke="#c8c8c8" stroke-width="0.8"/>
<line x1="533.80" y1="444.57" x2="533.80" y2="458.25" stroke="#444" stroke-width="0.65"/>
<line x1="533.80" y1="467.29" x2="533.80" y2="481.30" stroke="#444" stroke-width="0.65"/>
<line x1="531.40" y1="444.57" x2="536.20" y2="444.57" stroke="#444" stroke-width="0.6"/>
<line x1="531.40" y1="481.30" x2="536.20" y2="481.30" stroke="#444" stroke-width="0.6"/>
<rect x="528.90" y="458.25" width="9.80" height="9.04" fill="#c6d4ea" stroke="#5b9bd5" stroke-width="0.55"/>
<line x1="528.90" y1="462.77" x2="538.70" y2="462.77" stroke="#2f6fb5" stroke-width="0.55"/>
<circle cx="533.80" cy="462.55" r="0.70" fill="#e02020"/>
<line x1="553.30" y1="468.84" x2="553.30" y2="481.30" stroke="#c8c8c8" stroke-width="0.8"/>
<line x1="553.30" y1="481.30" x2="553.30" y2="488.91" stroke="#444" stroke-width="0.65"/>
<line x1="553.30" y1="494.20" x2="553.30" y2="500.60" stroke="#444" stroke-width="0.65"/>
<line x1="550.90" y1="481.30" x2="555.70" y2="481.30" stroke="#444" stroke-width="0.6"/>
<line x1="550.90" y1="500.60" x2="555.70" y2="500.60" stroke="#444" stroke-width="0.6"/>
<rect x="548.40" y="488.91" width="9.80" height="5.29" fill="#c6d4ea" stroke="#5b9bd5" stroke-width="0.55"/>
<line x1="548.40" y1="491.56" x2="558.20" y2="491.56" stroke="#2f6fb5" stroke-width="0.55"/>
<circle cx="553.30" cy="491.23" r="0.70" fill="#e02020"/>
<text x="495.70" y="421.22" font-size="5.2" text-anchor="middle" font-weight="bold">***</text>
<text x="514.60" y="421.22" font-size="5.2" text-anchor="middle" font-weight="bold">***</text>
<text x="553.30" y="421.22" font-size="5.2" text-anchor="middle" font-weight="bold">***</text>
<text x="495.70" y="506.41" font-size="4.6" text-anchor="middle" font-weight="bold" fill="#111">Thorax</text>
<text x="514.60" y="506.41" font-size="4.6" text-anchor="middle" font-weight="bold" fill="#111">Head</text>
<text x="533.80" y="506.41" font-size="4.6" text-anchor="middle" font-weight="bold" fill="#111">Abdomen</text>
<text x="553.30" y="506.41" font-size="4.6" text-anchor="middle" font-weight="bold" fill="#111">Gut</text>
<text x="597.80" y="310.43" font-size="6.66" font-weight="bold" fill="#111">Overlapped pathways:</text>
<text x="597.80" y="318.52" font-size="6.62" font-weight="bold" fill="#111">Muscle-GEM vs. Thorax</text>
<text x="635.40" y="329.11" font-size="5.75" text-anchor="middle" fill="#111">butanoate metabolism</text>
<text x="635.40" y="337.61" font-size="5.75" text-anchor="middle" fill="#111">glycolysis / gluconeogenesis</text>
<text x="635.40" y="345.61" font-size="5.75" text-anchor="middle" fill="#111">lipoic acid metabolism</text>
<text x="635.40" y="353.91" font-size="5.75" text-anchor="middle" fill="#111">lysine metabolism</text>
<text x="635.40" y="362.31" font-size="5.75" text-anchor="middle" fill="#111">starch and sucrose metabolism</text>
<text x="592.00" y="435.75" font-size="6.7" font-weight="bold" fill="#111">Overlapped pathways:</text>
<text x="592.00" y="443.92" font-size="6.64" font-weight="bold" fill="#111">Fatbody-GEM vs. Abdomen</text>
<text x="637.10" y="452.86" font-size="5.3" text-anchor="middle" fill="#111">cysteine and methionine metabolism</text>
<text x="637.10" y="460.56" font-size="5.3" text-anchor="middle" fill="#111">glycine, serine and threonine metabolism</text>
<text x="637.10" y="468.25" font-size="5.3" text-anchor="middle" fill="#111">nicotinate and nicotinamide metabolism</text>
<text x="637.10" y="475.86" font-size="5.3" text-anchor="middle" fill="#111">pantothenate and coa biosynthesis</text>
</svg>
</body></html>
